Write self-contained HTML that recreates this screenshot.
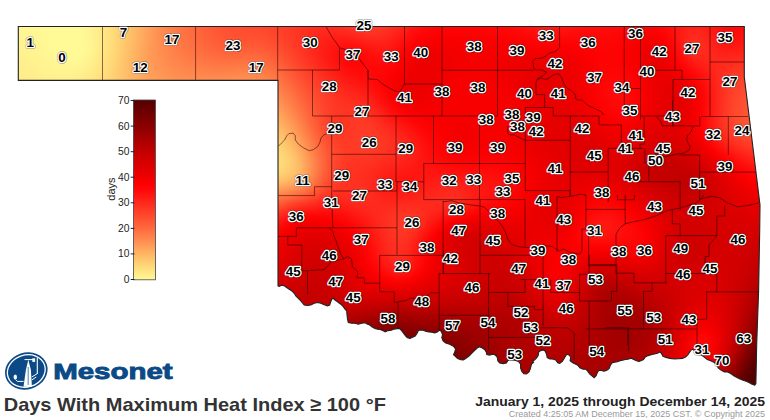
<!DOCTYPE html>
<html><head><meta charset="utf-8"><style>
html,body{margin:0;padding:0;background:#fff;}
body{width:770px;height:420px;overflow:hidden;position:relative;font-family:"Liberation Sans",sans-serif;}
svg{position:absolute;left:0;top:0;}
.lab text{font:bold 13.4px "Liberation Sans",sans-serif;text-anchor:middle;fill:#000;stroke:#fff;stroke-width:2.5px;stroke-linejoin:round;paint-order:stroke;}
.lab3 text{font:bold 13.4px "Liberation Sans",sans-serif;text-anchor:middle;fill:#000;stroke:#000;stroke-width:0.2px;}
.lab2 text{font:bold 13.4px "Liberation Sans",sans-serif;text-anchor:middle;fill:none;stroke:#000;stroke-opacity:0.35;stroke-width:3.8px;stroke-linejoin:round;}
.tk text{font:10.3px "Liberation Sans",sans-serif;text-anchor:end;fill:#222;}
.tk line{stroke:#222;stroke-width:1;}
</style></head><body>
<svg width="770" height="420" viewBox="0 0 770 420">
<defs>
<clipPath id="ok"><polygon points="18.3,26.5 744.3,26.5 744.3,77.0 760.0,205.0 759.7,230.0 758.6,291.0 756.7,344.0 755.9,383.6 755.9,383.6 754.8,385.2 752.5,384.4 749.4,382.8 746.2,381.3 743.1,380.2 740.0,378.9 736.9,377.4 733.8,375.8 730.7,373.5 727.6,371.9 724.4,371.9 721.3,370.4 718.2,368.0 716.7,364.9 714.3,362.6 711.2,361.0 707.3,359.5 704.2,357.1 701.1,354.8 698.0,353.2 694.8,350.9 692.5,349.3 691.0,350.1 689.4,352.5 687.8,354.8 685.5,357.1 682.4,358.4 678.5,358.7 674.6,359.0 669.9,358.4 666.0,357.4 662.9,356.4 661.4,353.2 659.8,352.1 657.5,353.2 654.3,354.0 651.2,354.8 648.1,355.6 645.3,357.0 643.5,359.5 640.9,360.8 639.0,361.4 636.4,360.8 633.8,359.5 631.2,358.2 627.9,359.2 625.3,359.5 622.7,360.1 620.1,360.8 617.5,361.8 614.9,362.1 612.3,362.7 610.4,365.3 609.1,368.6 606.5,370.5 603.9,371.2 601.3,370.5 598.7,370.5 597.4,372.5 596.1,375.7 594.2,377.7 591.6,375.7 589.6,373.8 587.7,371.2 585.7,369.2 583.1,369.2 579.9,367.9 577.9,365.3 575.3,364.0 572.7,362.7 570.1,360.8 570.8,356.9 568.2,354.3 566.2,354.9 564.3,358.2 562.3,361.4 559.7,363.4 557.8,362.7 555.8,360.1 552.4,359.0 549.8,359.0 547.2,357.7 546.6,354.5 545.3,351.2 543.3,349.9 540.7,350.6 538.8,351.9 538.1,355.8 536.2,358.4 534.2,360.3 532.3,361.0 533.6,362.3 531.6,364.2 531.0,366.2 530.3,368.8 529.0,372.0 526.4,374.0 523.8,373.7 521.9,371.4 520.6,368.1 520.6,364.2 518.6,361.6 514.7,360.3 510.8,359.7 508.2,360.3 506.3,362.9 503.1,363.6 499.8,362.9 497.9,361.0 497.2,357.1 495.3,355.1 492.7,354.2 489.4,355.1 486.8,354.5 486.2,351.9 484.9,349.9 482.3,348.0 479.7,346.7 477.1,348.0 474.5,350.6 471.9,353.2 469.3,355.8 466.0,358.4 463.4,359.9 460.8,359.7 457.6,358.4 456.1,357.2 453.5,354.6 454.8,352.0 455.5,348.8 453.5,346.2 449.6,344.2 445.7,342.9 443.1,341.0 441.8,337.7 442.5,334.5 441.2,331.2 439.2,330.3 437.3,331.9 434.7,332.9 432.1,332.3 428.8,331.9 425.6,331.2 423.0,330.3 420.4,329.9 418.4,330.6 417.1,333.2 415.2,336.0 412.6,337.3 410.0,338.4 407.4,337.7 405.5,335.8 403.5,333.2 401.6,330.6 399.6,328.6 397.0,328.6 393.8,329.3 391.2,330.3 387.9,330.6 385.3,331.9 382.7,330.6 380.1,329.5 377.5,329.3 374.9,328.6 372.3,327.0 369.7,325.1 367.1,324.1 365.2,322.8 361.7,323.3 358.3,324.2 355.0,323.3 351.7,323.3 348.3,322.5 347.5,319.2 347.0,315.0 346.7,310.8 345.0,309.2 343.3,306.7 340.8,304.2 337.5,301.7 335.0,300.0 333.3,298.3 331.7,299.2 330.8,301.7 329.7,305.0 327.5,305.8 324.2,304.7 320.8,303.3 317.5,302.5 314.2,303.3 310.8,305.0 307.5,305.5 304.2,305.0 302.5,303.0 300.8,300.8 298.3,298.3 295.8,295.8 294.2,293.3 291.7,290.8 289.2,289.2 286.7,287.5 284.2,285.8 281.7,285.3 279.2,286.3 278.0,285.8 278.0,80.4 18.3,80.4"/></clipPath>
<linearGradient id="lg" x1="0" y1="0" x2="0" y2="1"><stop offset="0.0000" stop-color="#550000"/><stop offset="0.0714" stop-color="#700000"/><stop offset="0.1429" stop-color="#8a0000"/><stop offset="0.2143" stop-color="#a60000"/><stop offset="0.2857" stop-color="#c30000"/><stop offset="0.3571" stop-color="#d90000"/><stop offset="0.4286" stop-color="#ee0000"/><stop offset="0.4643" stop-color="#fc0000"/><stop offset="0.5000" stop-color="#ff0808"/><stop offset="0.5714" stop-color="#ff281c"/><stop offset="0.6429" stop-color="#ff482d"/><stop offset="0.7143" stop-color="#ff6a3e"/><stop offset="0.7857" stop-color="#ff8e50"/><stop offset="0.8571" stop-color="#ffb664"/><stop offset="0.9286" stop-color="#ffda78"/><stop offset="1.0000" stop-color="#fff996"/></linearGradient>
</defs>
<g clip-path="url(#ok)"><g style="filter:blur(2.6px)" shape-rendering="crispEdges">
<path fill="#fff996" d="M14 22h4v4h-4zM18 22h4v4h-4zM22 22h4v4h-4zM26 22h4v4h-4zM30 22h4v4h-4zM34 22h4v4h-4zM38 22h4v4h-4zM42 22h4v4h-4zM46 22h4v4h-4zM50 22h4v4h-4zM54 22h4v4h-4zM58 22h4v4h-4zM62 22h4v4h-4zM66 22h4v4h-4zM70 22h4v4h-4zM74 22h4v4h-4zM38 26h4v4h-4zM42 26h4v4h-4zM46 26h4v4h-4zM50 26h4v4h-4zM54 26h4v4h-4zM58 26h4v4h-4zM62 26h4v4h-4zM66 26h4v4h-4zM70 26h4v4h-4zM74 26h4v4h-4zM42 30h4v4h-4zM46 30h4v4h-4zM50 30h4v4h-4zM54 30h4v4h-4zM58 30h4v4h-4zM62 30h4v4h-4zM66 30h4v4h-4zM70 30h4v4h-4zM74 30h4v4h-4zM78 30h4v4h-4zM46 34h4v4h-4zM50 34h4v4h-4zM54 34h4v4h-4zM58 34h4v4h-4zM62 34h4v4h-4zM66 34h4v4h-4zM70 34h4v4h-4zM74 34h4v4h-4zM78 34h4v4h-4zM46 38h4v4h-4zM50 38h4v4h-4zM54 38h4v4h-4zM58 38h4v4h-4zM62 38h4v4h-4zM66 38h4v4h-4zM70 38h4v4h-4zM74 38h4v4h-4zM78 38h4v4h-4zM50 42h4v4h-4zM54 42h4v4h-4zM58 42h4v4h-4zM62 42h4v4h-4zM66 42h4v4h-4zM70 42h4v4h-4zM74 42h4v4h-4zM78 42h4v4h-4zM82 42h4v4h-4zM50 46h4v4h-4zM54 46h4v4h-4zM58 46h4v4h-4zM62 46h4v4h-4zM66 46h4v4h-4zM70 46h4v4h-4zM74 46h4v4h-4zM78 46h4v4h-4zM82 46h4v4h-4zM54 50h4v4h-4zM58 50h4v4h-4zM62 50h4v4h-4zM66 50h4v4h-4zM70 50h4v4h-4zM74 50h4v4h-4zM78 50h4v4h-4zM58 54h4v4h-4zM62 54h4v4h-4zM66 54h4v4h-4zM70 54h4v4h-4zM74 54h4v4h-4zM78 54h4v4h-4zM66 58h4v4h-4zM70 58h4v4h-4z"/>
<path fill="#fff794" d="M78 22h4v4h-4zM18 26h4v4h-4zM22 26h4v4h-4zM30 30h4v4h-4zM34 30h4v4h-4zM82 30h4v4h-4zM38 34h4v4h-4zM38 38h4v4h-4zM42 42h4v4h-4zM86 42h4v4h-4zM86 46h4v4h-4zM46 50h4v4h-4zM50 54h4v4h-4zM82 54h4v4h-4zM54 58h4v4h-4zM78 58h4v4h-4zM58 62h4v4h-4zM62 62h4v4h-4zM66 62h4v4h-4zM70 62h4v4h-4z"/>
<path fill="#fff693" d="M82 22h4v4h-4zM82 26h4v4h-4zM14 30h4v4h-4zM18 30h4v4h-4zM22 30h4v4h-4zM26 30h4v4h-4zM30 34h4v4h-4zM34 38h4v4h-4zM86 38h4v4h-4zM38 42h4v4h-4zM42 46h4v4h-4zM42 50h4v4h-4zM86 50h4v4h-4zM46 54h4v4h-4zM50 58h4v4h-4zM82 58h4v4h-4zM54 62h4v4h-4zM62 66h4v4h-4zM66 66h4v4h-4z"/>
<path fill="#fff390" d="M86 22h4v4h-4zM90 34h4v4h-4zM90 38h4v4h-4zM14 42h4v4h-4zM18 42h4v4h-4zM22 42h4v4h-4zM26 46h4v4h-4zM30 50h4v4h-4zM90 50h4v4h-4zM34 54h4v4h-4zM38 62h4v4h-4zM46 66h4v4h-4zM50 70h4v4h-4zM54 70h4v4h-4zM70 70h4v4h-4z"/>
<path fill="#fff08e" d="M90 22h4v4h-4zM14 54h4v4h-4zM22 58h4v4h-4zM90 58h4v4h-4zM74 74h4v4h-4z"/>
<path fill="#ffed8a" d="M94 22h4v4h-4zM94 58h4v4h-4zM14 70h4v4h-4zM22 74h4v4h-4zM30 78h4v4h-4zM78 78h4v4h-4zM38 82h4v4h-4zM42 82h4v4h-4zM70 82h4v4h-4z"/>
<path fill="#ffe987" d="M98 22h4v4h-4zM98 54h4v4h-4zM22 86h4v4h-4zM34 90h4v4h-4zM38 90h4v4h-4zM66 90h4v4h-4z"/>
<path fill="#ffe583" d="M102 22h4v4h-4zM102 50h4v4h-4zM94 74h4v4h-4zM74 94h4v4h-4z"/>
<path fill="#ffe17f" d="M106 22h4v4h-4zM106 26h4v4h-4zM106 42h4v4h-4zM106 46h4v4h-4zM98 74h4v4h-4zM94 82h4v4h-4z"/>
<path fill="#ffdc7a" d="M110 22h4v4h-4zM110 26h4v4h-4zM110 38h4v4h-4zM110 42h4v4h-4zM98 86h4v4h-4zM262 142h4v4h-4zM266 166h4v4h-4zM270 166h4v4h-4z"/>
<path fill="#ffd776" d="M114 22h4v4h-4zM114 26h4v4h-4zM114 30h4v4h-4zM114 34h4v4h-4zM110 62h4v4h-4zM106 78h4v4h-4zM102 90h4v4h-4zM270 142h4v4h-4zM274 146h4v4h-4zM282 162h4v4h-4zM266 170h4v4h-4zM270 170h4v4h-4z"/>
<path fill="#ffd173" d="M118 22h4v4h-4zM118 26h4v4h-4zM118 30h4v4h-4zM114 62h4v4h-4zM110 82h4v4h-4zM106 94h4v4h-4zM282 150h4v4h-4zM286 162h4v4h-4zM282 170h4v4h-4z"/>
<path fill="#ffcb6f" d="M122 22h4v4h-4z"/>
<path fill="#ffc46c" d="M126 22h4v4h-4zM126 26h4v4h-4zM126 30h4v4h-4zM122 58h4v4h-4zM274 130h4v4h-4zM278 134h4v4h-4zM274 178h4v4h-4z"/>
<path fill="#ffbe68" d="M130 22h4v4h-4zM126 90h4v4h-4zM126 94h4v4h-4zM270 122h4v4h-4zM278 130h4v4h-4z"/>
<path fill="#ffb865" d="M134 22h4v4h-4zM130 54h4v4h-4zM130 82h4v4h-4zM270 118h4v4h-4zM278 126h4v4h-4zM290 142h4v4h-4zM294 150h4v4h-4zM270 182h4v4h-4z"/>
<path fill="#ffb161" d="M138 22h4v4h-4zM134 54h4v4h-4zM134 74h4v4h-4zM282 126h4v4h-4zM298 174h4v4h-4zM282 182h4v4h-4z"/>
<path fill="#ffaa5e" d="M142 22h4v4h-4zM138 54h4v4h-4zM138 70h4v4h-4zM142 82h4v4h-4zM230 94h4v4h-4zM234 94h4v4h-4zM238 94h4v4h-4zM242 94h4v4h-4zM262 102h4v4h-4zM282 122h4v4h-4zM302 162h4v4h-4zM266 186h4v4h-4z"/>
<path fill="#ffa35a" d="M146 22h4v4h-4zM226 90h4v4h-4zM246 90h4v4h-4zM278 186h4v4h-4z"/>
<path fill="#ff9c57" d="M150 22h4v4h-4zM162 82h4v4h-4zM170 86h4v4h-4zM222 86h4v4h-4zM226 86h4v4h-4zM258 90h4v4h-4zM286 118h4v4h-4zM306 162h4v4h-4zM262 190h4v4h-4z"/>
<path fill="#ff9654" d="M154 22h4v4h-4zM154 62h4v4h-4zM158 70h4v4h-4zM162 74h4v4h-4zM178 82h4v4h-4zM226 82h4v4h-4zM230 82h4v4h-4zM246 82h4v4h-4zM258 86h4v4h-4z"/>
<path fill="#ff9051" d="M158 22h4v4h-4zM158 54h4v4h-4zM166 70h4v4h-4zM186 78h4v4h-4zM230 78h4v4h-4zM234 78h4v4h-4zM238 78h4v4h-4zM246 78h4v4h-4zM258 82h4v4h-4zM286 110h4v4h-4zM302 182h4v4h-4zM278 190h4v4h-4z"/>
<path fill="#ff8a4e" d="M162 22h4v4h-4zM162 46h4v4h-4zM166 58h4v4h-4zM178 70h4v4h-4zM190 74h4v4h-4zM234 74h4v4h-4zM238 74h4v4h-4zM242 74h4v4h-4zM246 74h4v4h-4zM286 106h4v4h-4z"/>
<path fill="#ff854b" d="M166 22h4v4h-4zM166 42h4v4h-4zM170 54h4v4h-4zM194 70h4v4h-4zM286 102h4v4h-4zM310 150h4v4h-4z"/>
<path fill="#ff8049" d="M170 22h4v4h-4zM170 34h4v4h-4zM170 38h4v4h-4zM174 50h4v4h-4zM186 62h4v4h-4zM258 70h4v4h-4zM286 98h4v4h-4zM310 146h4v4h-4zM302 186h4v4h-4z"/>
<path fill="#ff7b47" d="M174 22h4v4h-4zM174 34h4v4h-4zM218 66h4v4h-4zM222 66h4v4h-4zM226 66h4v4h-4zM314 154h4v4h-4z"/>
<path fill="#ff7644" d="M178 22h4v4h-4zM178 26h4v4h-4zM182 42h4v4h-4zM198 58h4v4h-4zM214 62h4v4h-4zM238 62h4v4h-4zM242 62h4v4h-4zM254 62h4v4h-4zM262 66h4v4h-4zM286 90h4v4h-4zM294 102h4v4h-4zM298 110h4v4h-4z"/>
<path fill="#ff7242" d="M182 22h4v4h-4zM182 26h4v4h-4zM182 30h4v4h-4zM186 42h4v4h-4zM198 54h4v4h-4zM210 58h4v4h-4zM266 66h4v4h-4zM282 82h4v4h-4zM298 106h4v4h-4zM310 134h4v4h-4z"/>
<path fill="#ff6e40" d="M186 22h4v4h-4zM186 26h4v4h-4zM186 30h4v4h-4zM194 46h4v4h-4zM206 54h4v4h-4zM226 58h4v4h-4zM230 58h4v4h-4zM234 58h4v4h-4zM254 58h4v4h-4zM274 70h4v4h-4zM318 154h4v4h-4zM318 170h4v4h-4zM302 190h4v4h-4z"/>
<path fill="#ff6a3e" d="M190 22h4v4h-4zM190 26h4v4h-4zM194 38h4v4h-4zM206 50h4v4h-4zM218 54h4v4h-4zM262 58h4v4h-4zM290 86h4v4h-4zM314 138h4v4h-4zM314 182h4v4h-4zM310 186h4v4h-4zM278 198h4v4h-4z"/>
<path fill="#ff663c" d="M194 22h4v4h-4zM202 42h4v4h-4zM214 50h4v4h-4zM258 54h4v4h-4zM266 58h4v4h-4zM286 78h4v4h-4zM302 102h4v4h-4zM314 134h4v4h-4z"/>
<path fill="#ff633a" d="M198 22h4v4h-4zM274 62h4v4h-4zM278 66h4v4h-4zM294 86h4v4h-4zM322 166h4v4h-4z"/>
<path fill="#ff5f39" d="M202 22h4v4h-4zM206 34h4v4h-4zM318 138h4v4h-4zM322 150h4v4h-4zM314 186h4v4h-4zM286 198h4v4h-4z"/>
<path fill="#ff5c37" d="M206 22h4v4h-4zM210 34h4v4h-4zM214 38h4v4h-4zM230 46h4v4h-4zM234 46h4v4h-4zM238 46h4v4h-4zM242 46h4v4h-4zM246 46h4v4h-4zM250 46h4v4h-4zM254 46h4v4h-4zM286 70h4v4h-4zM298 86h4v4h-4zM310 110h4v4h-4zM322 146h4v4h-4zM310 190h4v4h-4z"/>
<path fill="#ff5936" d="M210 22h4v4h-4zM310 106h4v4h-4zM322 178h4v4h-4zM290 198h4v4h-4zM266 206h4v4h-4z"/>
<path fill="#ff5734" d="M214 22h4v4h-4zM254 42h4v4h-4zM310 102h4v4h-4zM754 106h4v4h-4zM762 106h4v4h-4zM750 110h4v4h-4zM750 114h4v4h-4zM754 118h4v4h-4zM758 118h4v4h-4zM326 154h4v4h-4zM326 166h4v4h-4z"/>
<path fill="#ff5433" d="M218 22h4v4h-4zM230 38h4v4h-4zM234 38h4v4h-4zM262 42h4v4h-4zM274 50h4v4h-4zM278 54h4v4h-4zM282 58h4v4h-4zM310 98h4v4h-4zM754 98h4v4h-4zM758 98h4v4h-4zM746 106h4v4h-4zM314 110h4v4h-4zM762 122h4v4h-4zM318 126h4v4h-4zM306 194h4v4h-4zM294 198h4v4h-4z"/>
<path fill="#ff5232" d="M222 22h4v4h-4zM222 26h4v4h-4zM226 30h4v4h-4zM230 34h4v4h-4zM254 38h4v4h-4zM290 66h4v4h-4zM302 82h4v4h-4zM754 94h4v4h-4zM758 94h4v4h-4zM314 106h4v4h-4zM742 110h4v4h-4zM742 114h4v4h-4zM742 118h4v4h-4zM750 126h4v4h-4zM762 126h4v4h-4zM326 146h4v4h-4zM326 174h4v4h-4zM282 202h4v4h-4z"/>
<path fill="#ff5031" d="M226 22h4v4h-4zM226 26h4v4h-4zM230 30h4v4h-4zM238 34h4v4h-4zM242 34h4v4h-4zM246 34h4v4h-4zM262 38h4v4h-4zM278 50h4v4h-4zM294 70h4v4h-4zM758 90h4v4h-4zM742 102h4v4h-4zM262 210h4v4h-4z"/>
<path fill="#ff4e30" d="M230 22h4v4h-4zM234 26h4v4h-4zM238 30h4v4h-4zM242 30h4v4h-4zM258 34h4v4h-4zM266 38h4v4h-4zM286 58h4v4h-4zM750 90h4v4h-4zM742 98h4v4h-4zM738 110h4v4h-4zM318 114h4v4h-4zM738 118h4v4h-4zM762 130h4v4h-4zM330 158h4v4h-4zM326 178h4v4h-4zM298 198h4v4h-4z"/>
<path fill="#ff4d2f" d="M234 22h4v4h-4zM238 26h4v4h-4zM250 30h4v4h-4zM758 86h4v4h-4zM746 90h4v4h-4zM742 94h4v4h-4zM322 130h4v4h-4zM310 194h4v4h-4z"/>
<path fill="#ff4c2f" d="M238 22h4v4h-4zM242 26h4v4h-4zM254 30h4v4h-4zM262 34h4v4h-4zM274 42h4v4h-4zM278 46h4v4h-4zM294 66h4v4h-4zM754 86h4v4h-4zM738 102h4v4h-4zM318 110h4v4h-4zM330 150h4v4h-4zM330 166h4v4h-4z"/>
<path fill="#ff4b2e" d="M242 22h4v4h-4zM250 26h4v4h-4zM258 30h4v4h-4zM738 98h4v4h-4zM318 106h4v4h-4zM754 134h4v4h-4zM758 134h4v4h-4z"/>
<path fill="#ff4a2e" d="M246 22h4v4h-4zM254 26h4v4h-4zM266 34h4v4h-4zM286 54h4v4h-4zM298 70h4v4h-4zM746 86h4v4h-4zM742 90h4v4h-4zM314 94h4v4h-4zM734 114h4v4h-4zM322 126h4v4h-4zM750 134h4v4h-4zM762 134h4v4h-4zM330 146h4v4h-4zM330 170h4v4h-4zM318 190h4v4h-4zM266 210h4v4h-4z"/>
<path fill="#ff492e" d="M250 22h4v4h-4zM262 30h4v4h-4zM758 82h4v4h-4zM310 86h4v4h-4zM738 94h4v4h-4zM734 110h4v4h-4zM734 118h4v4h-4z"/>
<path fill="#ff482d" d="M254 22h4v4h-4zM266 30h4v4h-4zM270 34h4v4h-4zM274 38h4v4h-4zM278 42h4v4h-4zM302 74h4v4h-4zM750 82h4v4h-4zM742 86h4v4h-4zM734 102h4v4h-4zM322 122h4v4h-4zM734 122h4v4h-4zM746 134h4v4h-4zM302 198h4v4h-4z"/>
<path fill="#ff472d" d="M258 22h4v4h-4zM262 26h4v4h-4zM282 46h4v4h-4zM294 62h4v4h-4zM314 90h4v4h-4zM738 90h4v4h-4zM738 130h4v4h-4zM326 134h4v4h-4zM330 174h4v4h-4z"/>
<path fill="#ff462c" d="M262 22h4v4h-4zM266 26h4v4h-4zM270 30h4v4h-4zM274 34h4v4h-4zM286 50h4v4h-4zM298 66h4v4h-4zM758 78h4v4h-4zM734 98h4v4h-4zM322 114h4v4h-4zM734 126h4v4h-4zM742 134h4v4h-4zM334 154h4v4h-4zM334 158h4v4h-4zM278 206h4v4h-4z"/>
<path fill="#ff452b" d="M266 22h4v4h-4zM290 54h4v4h-4zM754 78h4v4h-4zM742 82h4v4h-4zM318 94h4v4h-4zM734 94h4v4h-4zM754 138h4v4h-4zM334 150h4v4h-4zM334 162h4v4h-4z"/>
<path fill="#ff432b" d="M270 22h4v4h-4zM362 22h4v4h-4zM366 22h4v4h-4zM294 58h4v4h-4zM730 118h4v4h-4zM334 146h4v4h-4z"/>
<path fill="#ff422a" d="M274 22h4v4h-4zM370 22h4v4h-4zM274 26h4v4h-4zM282 38h4v4h-4zM290 50h4v4h-4zM298 62h4v4h-4zM758 74h4v4h-4zM742 78h4v4h-4zM734 86h4v4h-4zM318 90h4v4h-4zM730 102h4v4h-4zM730 122h4v4h-4zM326 126h4v4h-4zM734 130h4v4h-4zM738 134h4v4h-4zM746 138h4v4h-4zM322 190h4v4h-4z"/>
<path fill="#ff4029" d="M278 22h4v4h-4zM374 22h4v4h-4zM278 26h4v4h-4zM282 34h4v4h-4zM294 54h4v4h-4zM302 66h4v4h-4zM750 74h4v4h-4zM738 78h4v4h-4zM314 82h4v4h-4zM734 82h4v4h-4zM730 94h4v4h-4zM326 110h4v4h-4zM326 114h4v4h-4zM326 118h4v4h-4zM326 122h4v4h-4zM730 126h4v4h-4zM330 134h4v4h-4zM742 138h4v4h-4zM758 142h4v4h-4zM762 142h4v4h-4zM338 150h4v4h-4zM338 154h4v4h-4zM294 202h4v4h-4zM282 206h4v4h-4z"/>
<path fill="#ff3e28" d="M282 22h4v4h-4zM282 26h4v4h-4zM286 38h4v4h-4zM298 58h4v4h-4zM742 74h4v4h-4zM730 86h4v4h-4zM326 102h4v4h-4zM334 138h4v4h-4zM750 142h4v4h-4zM338 162h4v4h-4zM318 194h4v4h-4zM274 210h4v4h-4z"/>
<path fill="#ff3c27" d="M286 22h4v4h-4zM362 26h4v4h-4zM370 26h4v4h-4zM286 30h4v4h-4zM290 42h4v4h-4zM302 62h4v4h-4zM750 70h4v4h-4zM738 74h4v4h-4zM314 78h4v4h-4zM730 82h4v4h-4zM726 106h4v4h-4zM362 130h4v4h-4zM730 130h4v4h-4zM358 138h4v4h-4zM738 138h4v4h-4zM370 142h4v4h-4zM342 146h4v4h-4zM342 150h4v4h-4zM342 154h4v4h-4zM338 166h4v4h-4zM330 186h4v4h-4z"/>
<path fill="#ff3a25" d="M290 22h4v4h-4zM290 34h4v4h-4zM322 86h4v4h-4zM330 102h4v4h-4zM358 122h4v4h-4zM366 126h4v4h-4zM374 134h4v4h-4zM350 138h4v4h-4zM346 142h4v4h-4zM350 142h4v4h-4zM350 146h4v4h-4zM762 146h4v4h-4zM338 170h4v4h-4zM402 222h4v4h-4zM406 222h4v4h-4z"/>
<path fill="#ff3824" d="M294 22h4v4h-4zM354 26h4v4h-4zM298 50h4v4h-4zM750 66h4v4h-4zM314 74h4v4h-4zM730 74h4v4h-4zM726 82h4v4h-4zM334 110h4v4h-4zM358 114h4v4h-4zM350 126h4v4h-4zM374 130h4v4h-4zM342 134h4v4h-4zM346 134h4v4h-4zM350 154h4v4h-4zM346 158h4v4h-4zM338 174h4v4h-4zM314 198h4v4h-4zM398 218h4v4h-4z"/>
<path fill="#ff3623" d="M298 22h4v4h-4zM342 22h4v4h-4zM298 46h4v4h-4zM302 54h4v4h-4zM338 110h4v4h-4zM354 110h4v4h-4zM358 110h4v4h-4zM338 114h4v4h-4zM346 114h4v4h-4zM346 118h4v4h-4zM366 118h4v4h-4zM346 122h4v4h-4zM370 122h4v4h-4zM342 130h4v4h-4zM726 130h4v4h-4zM382 142h4v4h-4zM338 182h4v4h-4zM398 214h4v4h-4zM394 218h4v4h-4z"/>
<path fill="#ff3422" d="M302 22h4v4h-4zM338 22h4v4h-4zM362 30h4v4h-4zM374 30h4v4h-4zM298 42h4v4h-4zM754 62h4v4h-4zM738 66h4v4h-4zM314 70h4v4h-4zM726 74h4v4h-4zM330 90h4v4h-4zM722 98h4v4h-4zM338 102h4v4h-4zM722 102h4v4h-4zM342 106h4v4h-4zM362 110h4v4h-4zM366 114h4v4h-4zM722 122h4v4h-4zM382 134h4v4h-4zM374 154h4v4h-4zM362 158h4v4h-4zM342 174h4v4h-4zM406 210h4v4h-4zM394 214h4v4h-4zM414 214h4v4h-4zM414 218h4v4h-4zM390 222h4v4h-4zM390 226h4v4h-4zM394 234h4v4h-4zM402 234h4v4h-4z"/>
<path fill="#ff3322" d="M306 22h4v4h-4zM390 22h4v4h-4zM298 30h4v4h-4zM298 34h4v4h-4zM298 38h4v4h-4zM302 50h4v4h-4zM306 58h4v4h-4zM750 62h4v4h-4zM734 66h4v4h-4zM318 74h4v4h-4zM722 90h4v4h-4zM334 94h4v4h-4zM722 94h4v4h-4zM346 106h4v4h-4zM350 106h4v4h-4zM354 106h4v4h-4zM370 118h4v4h-4zM386 142h4v4h-4zM386 146h4v4h-4zM382 150h4v4h-4zM758 150h4v4h-4zM762 150h4v4h-4zM366 158h4v4h-4zM354 162h4v4h-4zM358 162h4v4h-4zM350 166h4v4h-4zM346 170h4v4h-4zM342 178h4v4h-4zM342 182h4v4h-4zM338 186h4v4h-4zM326 194h4v4h-4zM290 206h4v4h-4zM402 210h4v4h-4zM410 210h4v4h-4zM390 218h4v4h-4zM414 222h4v4h-4zM390 230h4v4h-4zM398 238h4v4h-4z"/>
<path fill="#ff3121" d="M310 22h4v4h-4zM314 22h4v4h-4zM330 22h4v4h-4zM302 30h4v4h-4zM302 46h4v4h-4zM306 54h4v4h-4zM310 62h4v4h-4zM742 62h4v4h-4zM730 66h4v4h-4zM722 78h4v4h-4zM330 86h4v4h-4zM346 102h4v4h-4zM382 130h4v4h-4zM726 134h4v4h-4zM730 138h4v4h-4zM390 142h4v4h-4zM390 146h4v4h-4zM742 146h4v4h-4zM386 150h4v4h-4zM754 150h4v4h-4zM374 158h4v4h-4zM366 162h4v4h-4zM358 166h4v4h-4zM350 170h4v4h-4zM354 170h4v4h-4zM350 174h4v4h-4zM350 178h4v4h-4zM350 182h4v4h-4zM354 182h4v4h-4zM346 186h4v4h-4zM350 186h4v4h-4zM358 186h4v4h-4zM350 190h4v4h-4zM354 194h4v4h-4zM394 210h4v4h-4zM414 210h4v4h-4zM266 218h4v4h-4zM386 222h4v4h-4zM406 234h4v4h-4zM402 238h4v4h-4zM394 242h4v4h-4zM398 242h4v4h-4z"/>
<path fill="#ff3020" d="M318 22h4v4h-4zM322 22h4v4h-4zM326 22h4v4h-4zM306 26h4v4h-4zM342 26h4v4h-4zM382 30h4v4h-4zM302 34h4v4h-4zM302 42h4v4h-4zM758 58h4v4h-4zM314 66h4v4h-4zM722 74h4v4h-4zM334 90h4v4h-4zM342 98h4v4h-4zM350 102h4v4h-4zM362 106h4v4h-4zM366 110h4v4h-4zM370 114h4v4h-4zM386 134h4v4h-4zM734 142h4v4h-4zM382 154h4v4h-4zM362 166h4v4h-4zM358 170h4v4h-4zM354 174h4v4h-4zM354 178h4v4h-4zM358 182h4v4h-4zM338 190h4v4h-4zM346 190h4v4h-4zM362 190h4v4h-4zM362 194h4v4h-4zM274 214h4v4h-4zM418 214h4v4h-4zM386 218h4v4h-4zM386 226h4v4h-4zM410 230h4v4h-4zM390 238h4v4h-4z"/>
<path fill="#ff3221" d="M334 22h4v4h-4zM302 26h4v4h-4zM346 26h4v4h-4zM386 26h4v4h-4zM358 30h4v4h-4zM378 30h4v4h-4zM746 62h4v4h-4zM726 70h4v4h-4zM322 78h4v4h-4zM326 82h4v4h-4zM722 82h4v4h-4zM722 86h4v4h-4zM338 98h4v4h-4zM342 102h4v4h-4zM358 106h4v4h-4zM374 122h4v4h-4zM378 126h4v4h-4zM722 126h4v4h-4zM378 154h4v4h-4zM370 158h4v4h-4zM362 162h4v4h-4zM354 166h4v4h-4zM346 174h4v4h-4zM346 178h4v4h-4zM346 182h4v4h-4zM342 186h4v4h-4zM354 186h4v4h-4zM354 190h4v4h-4zM358 190h4v4h-4zM358 194h4v4h-4zM306 202h4v4h-4zM398 210h4v4h-4zM390 214h4v4h-4zM390 234h4v4h-4z"/>
<path fill="#ff3925" d="M346 22h4v4h-4zM290 26h4v4h-4zM290 30h4v4h-4zM302 58h4v4h-4zM754 66h4v4h-4zM758 66h4v4h-4zM310 70h4v4h-4zM726 90h4v4h-4zM358 118h4v4h-4zM354 122h4v4h-4zM362 122h4v4h-4zM354 126h4v4h-4zM726 126h4v4h-4zM338 134h4v4h-4zM350 134h4v4h-4zM342 138h4v4h-4zM346 138h4v4h-4zM742 142h4v4h-4zM374 146h4v4h-4zM758 146h4v4h-4zM350 150h4v4h-4zM354 150h4v4h-4zM358 150h4v4h-4zM362 150h4v4h-4zM366 150h4v4h-4zM346 154h4v4h-4zM342 162h4v4h-4zM286 206h4v4h-4zM402 218h4v4h-4zM406 218h4v4h-4zM398 222h4v4h-4zM402 226h4v4h-4z"/>
<path fill="#ff3c26" d="M350 22h4v4h-4zM286 26h4v4h-4zM726 102h4v4h-4zM726 122h4v4h-4zM358 134h4v4h-4zM370 134h4v4h-4zM358 142h4v4h-4zM746 142h4v4h-4z"/>
<path fill="#ff3f28" d="M354 22h4v4h-4zM282 30h4v4h-4zM290 46h4v4h-4zM306 70h4v4h-4zM746 74h4v4h-4zM318 86h4v4h-4zM730 90h4v4h-4zM322 94h4v4h-4zM326 106h4v4h-4zM754 142h4v4h-4zM338 146h4v4h-4zM338 158h4v4h-4zM334 174h4v4h-4z"/>
<path fill="#ff412a" d="M358 22h4v4h-4zM278 30h4v4h-4zM322 98h4v4h-4z"/>
<path fill="#ff3e27" d="M378 22h4v4h-4zM758 70h4v4h-4z"/>
<path fill="#ff3a26" d="M382 22h4v4h-4zM358 26h4v4h-4zM374 26h4v4h-4zM294 46h4v4h-4zM742 70h4v4h-4zM734 74h4v4h-4zM730 78h4v4h-4zM726 94h4v4h-4zM330 122h4v4h-4zM358 126h4v4h-4zM354 130h4v4h-4zM370 130h4v4h-4zM354 134h4v4h-4zM374 142h4v4h-4zM346 146h4v4h-4zM354 146h4v4h-4zM346 150h4v4h-4zM334 182h4v4h-4z"/>
<path fill="#ff3724" d="M386 22h4v4h-4zM294 26h4v4h-4zM294 38h4v4h-4zM306 62h4v4h-4zM746 66h4v4h-4zM734 70h4v4h-4zM318 78h4v4h-4zM334 106h4v4h-4zM334 114h4v4h-4zM350 114h4v4h-4zM354 114h4v4h-4zM334 118h4v4h-4zM350 118h4v4h-4zM350 122h4v4h-4zM346 130h4v4h-4zM378 134h4v4h-4zM730 134h4v4h-4zM734 138h4v4h-4zM378 146h4v4h-4zM750 146h4v4h-4zM374 150h4v4h-4zM354 154h4v4h-4zM358 154h4v4h-4zM362 154h4v4h-4zM342 166h4v4h-4zM338 178h4v4h-4zM334 186h4v4h-4zM278 210h4v4h-4zM270 214h4v4h-4zM402 214h4v4h-4zM406 214h4v4h-4zM262 218h4v4h-4zM394 222h4v4h-4zM410 222h4v4h-4zM406 226h4v4h-4zM398 230h4v4h-4z"/>
<path fill="#ff2e1f" d="M394 22h4v4h-4zM338 26h4v4h-4zM390 26h4v4h-4zM306 30h4v4h-4zM694 42h4v4h-4zM694 46h4v4h-4zM306 50h4v4h-4zM310 58h4v4h-4zM750 58h4v4h-4zM734 62h4v4h-4zM318 70h4v4h-4zM722 70h4v4h-4zM322 74h4v4h-4zM346 98h4v4h-4zM358 102h4v4h-4zM378 122h4v4h-4zM382 126h4v4h-4zM394 142h4v4h-4zM394 146h4v4h-4zM366 166h4v4h-4zM362 170h4v4h-4zM362 174h4v4h-4zM362 178h4v4h-4zM362 182h4v4h-4zM366 194h4v4h-4zM322 198h4v4h-4zM362 198h4v4h-4zM310 202h4v4h-4zM398 206h4v4h-4zM414 206h4v4h-4zM386 234h4v4h-4zM406 238h4v4h-4zM394 250h4v4h-4zM398 250h4v4h-4z"/>
<path fill="#ff2a1d" d="M398 22h4v4h-4zM314 30h4v4h-4zM346 30h4v4h-4zM310 34h4v4h-4zM382 34h4v4h-4zM702 42h4v4h-4zM310 50h4v4h-4zM702 50h4v4h-4zM754 54h4v4h-4zM722 62h4v4h-4zM718 66h4v4h-4zM346 94h4v4h-4zM378 118h4v4h-4zM718 126h4v4h-4zM722 134h4v4h-4zM730 142h4v4h-4zM402 146h4v4h-4zM754 154h4v4h-4zM374 166h4v4h-4zM370 170h4v4h-4zM370 190h4v4h-4zM442 194h4v4h-4zM326 198h4v4h-4zM438 198h4v4h-4zM314 202h4v4h-4zM358 202h4v4h-4zM370 202h4v4h-4zM406 202h4v4h-4zM410 202h4v4h-4zM414 202h4v4h-4zM418 202h4v4h-4zM442 202h4v4h-4zM454 202h4v4h-4zM378 206h4v4h-4zM382 206h4v4h-4zM378 210h4v4h-4zM378 214h4v4h-4zM270 218h4v4h-4zM378 218h4v4h-4zM414 230h4v4h-4zM402 254h4v4h-4zM394 258h4v4h-4zM398 258h4v4h-4z"/>
<path fill="#ff251a" d="M402 22h4v4h-4zM398 26h4v4h-4zM690 30h4v4h-4zM698 30h4v4h-4zM686 34h4v4h-4zM702 34h4v4h-4zM366 38h4v4h-4zM382 38h4v4h-4zM314 42h4v4h-4zM314 46h4v4h-4zM314 50h4v4h-4zM714 54h4v4h-4zM734 54h4v4h-4zM702 58h4v4h-4zM322 66h4v4h-4zM714 78h4v4h-4zM342 86h4v4h-4zM382 118h4v4h-4zM386 122h4v4h-4zM390 126h4v4h-4zM394 130h4v4h-4zM402 138h4v4h-4zM406 150h4v4h-4zM738 150h4v4h-4zM746 154h4v4h-4zM762 158h4v4h-4zM390 162h4v4h-4zM378 170h4v4h-4zM374 174h4v4h-4zM374 186h4v4h-4zM446 186h4v4h-4zM450 186h4v4h-4zM434 190h4v4h-4zM378 194h4v4h-4zM426 194h4v4h-4zM382 198h4v4h-4zM410 198h4v4h-4zM414 198h4v4h-4zM462 198h4v4h-4zM302 206h4v4h-4zM454 206h4v4h-4zM366 210h4v4h-4zM370 214h4v4h-4zM422 222h4v4h-4zM378 230h4v4h-4zM414 234h4v4h-4zM386 254h4v4h-4zM406 254h4v4h-4zM402 262h4v4h-4z"/>
<path fill="#ff2017" d="M406 22h4v4h-4zM690 22h4v4h-4zM694 22h4v4h-4zM402 26h4v4h-4zM398 30h4v4h-4zM682 34h4v4h-4zM358 38h4v4h-4zM682 38h4v4h-4zM374 42h4v4h-4zM378 42h4v4h-4zM682 42h4v4h-4zM750 46h4v4h-4zM722 50h4v4h-4zM734 50h4v4h-4zM738 50h4v4h-4zM322 58h4v4h-4zM326 66h4v4h-4zM710 74h4v4h-4zM342 82h4v4h-4zM382 114h4v4h-4zM390 122h4v4h-4zM394 126h4v4h-4zM410 154h4v4h-4zM750 158h4v4h-4zM402 162h4v4h-4zM394 166h4v4h-4zM386 170h4v4h-4zM378 178h4v4h-4zM378 182h4v4h-4zM442 182h4v4h-4zM446 182h4v4h-4zM450 182h4v4h-4zM454 182h4v4h-4zM430 186h4v4h-4zM382 190h4v4h-4zM422 190h4v4h-4zM390 194h4v4h-4zM414 194h4v4h-4zM466 198h4v4h-4zM326 202h4v4h-4zM338 202h4v4h-4zM422 226h4v4h-4zM414 238h4v4h-4zM410 250h4v4h-4zM406 262h4v4h-4z"/>
<path fill="#ff1c14" d="M410 22h4v4h-4zM542 22h4v4h-4zM706 26h4v4h-4zM334 38h4v4h-4zM350 38h4v4h-4zM722 46h4v4h-4zM738 46h4v4h-4zM342 78h4v4h-4zM362 90h4v4h-4zM378 106h4v4h-4zM398 126h4v4h-4zM414 146h4v4h-4zM726 146h4v4h-4zM414 154h4v4h-4zM410 162h4v4h-4zM442 178h4v4h-4zM446 178h4v4h-4zM382 182h4v4h-4zM426 182h4v4h-4zM414 190h4v4h-4zM474 190h4v4h-4zM470 198h4v4h-4zM410 258h4v4h-4z"/>
<path fill="#ff1812" d="M414 22h4v4h-4zM566 22h4v4h-4zM542 26h4v4h-4zM546 26h4v4h-4zM550 26h4v4h-4zM710 26h4v4h-4zM714 34h4v4h-4zM750 38h4v4h-4zM358 42h4v4h-4zM742 42h4v4h-4zM370 46h4v4h-4zM330 62h4v4h-4zM346 78h4v4h-4zM354 82h4v4h-4zM366 90h4v4h-4zM370 94h4v4h-4zM374 98h4v4h-4zM406 130h4v4h-4zM410 134h4v4h-4zM418 154h4v4h-4zM750 162h4v4h-4zM414 166h4v4h-4zM406 170h4v4h-4zM398 174h4v4h-4zM422 178h4v4h-4zM466 178h4v4h-4zM390 182h4v4h-4zM418 182h4v4h-4zM394 186h4v4h-4zM414 186h4v4h-4zM478 194h4v4h-4zM474 198h4v4h-4zM322 206h4v4h-4zM354 214h4v4h-4zM274 222h4v4h-4zM598 222h4v4h-4zM602 222h4v4h-4zM594 226h4v4h-4zM594 230h4v4h-4zM598 230h4v4h-4zM374 242h4v4h-4zM382 262h4v4h-4zM386 266h4v4h-4zM398 270h4v4h-4z"/>
<path fill="#ff140f" d="M418 22h4v4h-4zM714 26h4v4h-4zM542 30h4v4h-4zM546 30h4v4h-4zM674 30h4v4h-4zM350 42h4v4h-4zM334 46h4v4h-4zM334 62h4v4h-4zM346 74h4v4h-4zM366 86h4v4h-4zM370 90h4v4h-4zM410 130h4v4h-4zM414 134h4v4h-4zM422 154h4v4h-4zM738 158h4v4h-4zM426 166h4v4h-4zM754 166h4v4h-4zM434 170h4v4h-4zM490 182h4v4h-4zM490 190h4v4h-4zM342 210h4v4h-4zM350 214h4v4h-4zM282 218h4v4h-4zM602 234h4v4h-4zM374 250h4v4h-4zM410 266h4v4h-4z"/>
<path fill="#ff110d" d="M422 22h4v4h-4zM594 22h4v4h-4zM754 26h4v4h-4zM410 30h4v4h-4zM678 50h4v4h-4zM334 54h4v4h-4zM706 90h4v4h-4zM706 114h4v4h-4zM706 118h4v4h-4zM742 162h4v4h-4zM750 166h4v4h-4zM478 174h4v4h-4zM310 210h4v4h-4zM598 214h4v4h-4zM426 230h4v4h-4zM370 242h4v4h-4z"/>
<path fill="#ff0e0c" d="M426 22h4v4h-4zM510 22h4v4h-4zM610 22h4v4h-4zM666 22h4v4h-4zM418 26h4v4h-4zM590 26h4v4h-4zM530 30h4v4h-4zM670 30h4v4h-4zM722 30h4v4h-4zM742 30h4v4h-4zM542 34h4v4h-4zM546 34h4v4h-4zM550 34h4v4h-4zM726 34h4v4h-4zM730 34h4v4h-4zM734 34h4v4h-4zM674 42h4v4h-4zM354 46h4v4h-4zM338 50h4v4h-4zM394 50h4v4h-4zM342 66h4v4h-4zM690 66h4v4h-4zM698 74h4v4h-4zM390 110h4v4h-4zM394 114h4v4h-4zM426 150h4v4h-4zM430 158h4v4h-4zM734 158h4v4h-4zM434 162h4v4h-4zM442 166h4v4h-4zM466 170h4v4h-4zM490 174h4v4h-4zM498 194h4v4h-4zM318 210h4v4h-4zM594 214h4v4h-4zM434 222h4v4h-4zM618 234h4v4h-4zM598 238h4v4h-4zM370 246h4v4h-4zM374 258h4v4h-4zM702 346h4v4h-4z"/>
<path fill="#ff0b0a" d="M430 22h4v4h-4zM498 22h4v4h-4zM622 22h4v4h-4zM662 22h4v4h-4zM726 22h4v4h-4zM742 22h4v4h-4zM422 26h4v4h-4zM514 26h4v4h-4zM610 26h4v4h-4zM666 26h4v4h-4zM726 26h4v4h-4zM738 26h4v4h-4zM582 30h4v4h-4zM586 30h4v4h-4zM730 30h4v4h-4zM410 34h4v4h-4zM534 34h4v4h-4zM558 34h4v4h-4zM670 34h4v4h-4zM406 38h4v4h-4zM674 46h4v4h-4zM342 50h4v4h-4zM370 58h4v4h-4zM342 62h4v4h-4zM346 66h4v4h-4zM354 70h4v4h-4zM618 86h4v4h-4zM614 90h4v4h-4zM618 90h4v4h-4zM618 94h4v4h-4zM382 98h4v4h-4zM402 118h4v4h-4zM414 126h4v4h-4zM418 130h4v4h-4zM426 142h4v4h-4zM434 158h4v4h-4zM454 166h4v4h-4zM486 170h4v4h-4zM506 178h4v4h-4zM506 190h4v4h-4zM494 198h4v4h-4zM466 210h4v4h-4zM454 214h4v4h-4zM590 214h4v4h-4zM442 218h4v4h-4zM354 222h4v4h-4zM358 226h4v4h-4zM270 230h4v4h-4zM626 230h4v4h-4zM366 238h4v4h-4zM590 238h4v4h-4zM614 238h4v4h-4zM382 270h4v4h-4zM702 350h4v4h-4z"/>
<path fill="#ff0909" d="M434 22h4v4h-4zM490 22h4v4h-4zM618 26h4v4h-4zM602 30h4v4h-4zM566 34h4v4h-4zM342 54h4v4h-4zM342 58h4v4h-4zM366 58h4v4h-4zM370 62h4v4h-4zM382 62h4v4h-4zM350 66h4v4h-4zM362 70h4v4h-4zM374 82h4v4h-4zM614 82h4v4h-4zM618 82h4v4h-4zM610 86h4v4h-4zM702 86h4v4h-4zM610 90h4v4h-4zM614 98h4v4h-4zM386 102h4v4h-4zM398 114h4v4h-4zM410 122h4v4h-4zM462 166h4v4h-4zM466 166h4v4h-4zM750 170h4v4h-4zM762 174h4v4h-4zM338 214h4v4h-4zM618 214h4v4h-4zM346 218h4v4h-4zM586 218h4v4h-4zM622 218h4v4h-4zM370 254h4v4h-4z"/>
<path fill="#ff0808" d="M438 22h4v4h-4zM442 22h4v4h-4zM478 22h4v4h-4zM482 22h4v4h-4zM486 22h4v4h-4zM634 22h4v4h-4zM658 22h4v4h-4zM426 26h4v4h-4zM502 26h4v4h-4zM506 26h4v4h-4zM622 26h4v4h-4zM662 26h4v4h-4zM418 30h4v4h-4zM518 30h4v4h-4zM610 30h4v4h-4zM614 30h4v4h-4zM666 30h4v4h-4zM574 34h4v4h-4zM578 34h4v4h-4zM582 34h4v4h-4zM586 34h4v4h-4zM590 34h4v4h-4zM594 34h4v4h-4zM542 38h4v4h-4zM546 38h4v4h-4zM550 38h4v4h-4zM670 38h4v4h-4zM402 46h4v4h-4zM346 50h4v4h-4zM354 50h4v4h-4zM362 58h4v4h-4zM346 62h4v4h-4zM366 62h4v4h-4zM386 62h4v4h-4zM682 62h4v4h-4zM354 66h4v4h-4zM358 66h4v4h-4zM362 66h4v4h-4zM366 66h4v4h-4zM370 66h4v4h-4zM374 66h4v4h-4zM378 66h4v4h-4zM686 66h4v4h-4zM370 70h4v4h-4zM690 70h4v4h-4zM694 74h4v4h-4zM374 78h4v4h-4zM614 78h4v4h-4zM610 82h4v4h-4zM622 82h4v4h-4zM378 86h4v4h-4zM626 90h4v4h-4zM382 94h4v4h-4zM626 94h4v4h-4zM610 98h4v4h-4zM626 98h4v4h-4zM614 102h4v4h-4zM626 102h4v4h-4zM390 106h4v4h-4zM394 110h4v4h-4zM406 118h4v4h-4zM706 134h4v4h-4zM426 138h4v4h-4zM430 146h4v4h-4zM434 154h4v4h-4zM438 158h4v4h-4zM730 158h4v4h-4zM446 162h4v4h-4zM470 166h4v4h-4zM474 166h4v4h-4zM478 166h4v4h-4zM482 166h4v4h-4zM498 170h4v4h-4zM506 174h4v4h-4zM758 174h4v4h-4zM510 178h4v4h-4zM510 182h4v4h-4zM510 186h4v4h-4zM510 190h4v4h-4zM506 194h4v4h-4zM502 198h4v4h-4zM490 202h4v4h-4zM478 206h4v4h-4zM602 206h4v4h-4zM614 210h4v4h-4zM298 214h4v4h-4zM626 222h4v4h-4zM582 226h4v4h-4zM430 230h4v4h-4zM582 230h4v4h-4zM630 230h4v4h-4zM362 234h4v4h-4zM582 234h4v4h-4zM630 234h4v4h-4zM262 238h4v4h-4zM586 238h4v4h-4zM626 238h4v4h-4zM422 242h4v4h-4zM418 262h4v4h-4zM386 274h4v4h-4zM694 342h4v4h-4zM694 350h4v4h-4z"/>
<path fill="#ff0707" d="M446 22h4v4h-4zM450 22h4v4h-4zM454 22h4v4h-4zM458 22h4v4h-4zM462 22h4v4h-4zM466 22h4v4h-4zM470 22h4v4h-4zM474 22h4v4h-4zM638 22h4v4h-4zM642 22h4v4h-4zM654 22h4v4h-4zM430 26h4v4h-4zM494 26h4v4h-4zM498 26h4v4h-4zM626 26h4v4h-4zM630 26h4v4h-4zM514 30h4v4h-4zM618 30h4v4h-4zM414 34h4v4h-4zM526 34h4v4h-4zM598 34h4v4h-4zM602 34h4v4h-4zM606 34h4v4h-4zM610 34h4v4h-4zM410 38h4v4h-4zM538 38h4v4h-4zM554 38h4v4h-4zM406 42h4v4h-4zM350 50h4v4h-4zM674 50h4v4h-4zM346 54h4v4h-4zM358 54h4v4h-4zM346 58h4v4h-4zM358 58h4v4h-4zM394 58h4v4h-4zM678 58h4v4h-4zM350 62h4v4h-4zM354 62h4v4h-4zM358 62h4v4h-4zM362 62h4v4h-4zM382 66h4v4h-4zM374 70h4v4h-4zM378 70h4v4h-4zM374 74h4v4h-4zM610 78h4v4h-4zM618 78h4v4h-4zM378 82h4v4h-4zM606 82h4v4h-4zM606 86h4v4h-4zM626 86h4v4h-4zM606 90h4v4h-4zM702 90h4v4h-4zM606 94h4v4h-4zM702 94h4v4h-4zM610 102h4v4h-4zM618 106h4v4h-4zM622 106h4v4h-4zM626 106h4v4h-4zM702 106h4v4h-4zM702 110h4v4h-4zM702 114h4v4h-4zM702 118h4v4h-4zM414 122h4v4h-4zM702 122h4v4h-4zM418 126h4v4h-4zM422 130h4v4h-4zM426 134h4v4h-4zM430 142h4v4h-4zM434 150h4v4h-4zM442 158h4v4h-4zM450 162h4v4h-4zM454 162h4v4h-4zM734 162h4v4h-4zM486 166h4v4h-4zM490 166h4v4h-4zM494 166h4v4h-4zM502 170h4v4h-4zM746 170h4v4h-4zM494 202h4v4h-4zM598 206h4v4h-4zM606 206h4v4h-4zM470 210h4v4h-4zM590 210h4v4h-4zM302 214h4v4h-4zM334 214h4v4h-4zM458 214h4v4h-4zM586 214h4v4h-4zM350 222h4v4h-4zM438 222h4v4h-4zM582 222h4v4h-4zM278 226h4v4h-4zM354 226h4v4h-4zM434 226h4v4h-4zM630 226h4v4h-4zM358 230h4v4h-4zM630 238h4v4h-4zM598 242h4v4h-4zM602 242h4v4h-4zM366 246h4v4h-4zM370 258h4v4h-4zM374 266h4v4h-4zM378 270h4v4h-4zM414 270h4v4h-4zM698 338h4v4h-4zM702 338h4v4h-4zM706 342h4v4h-4zM706 346h4v4h-4zM698 354h4v4h-4z"/>
<path fill="#ff0a09" d="M494 22h4v4h-4zM626 22h4v4h-4zM730 22h4v4h-4zM734 22h4v4h-4zM738 22h4v4h-4zM510 26h4v4h-4zM614 26h4v4h-4zM730 26h4v4h-4zM734 26h4v4h-4zM522 30h4v4h-4zM594 30h4v4h-4zM598 30h4v4h-4zM562 34h4v4h-4zM362 54h4v4h-4zM394 54h4v4h-4zM390 58h4v4h-4zM374 62h4v4h-4zM378 62h4v4h-4zM358 70h4v4h-4zM366 74h4v4h-4zM614 86h4v4h-4zM622 86h4v4h-4zM378 90h4v4h-4zM622 90h4v4h-4zM614 94h4v4h-4zM622 94h4v4h-4zM618 98h4v4h-4zM622 98h4v4h-4zM422 134h4v4h-4zM430 150h4v4h-4zM726 154h4v4h-4zM442 162h4v4h-4zM458 166h4v4h-4zM494 170h4v4h-4zM502 174h4v4h-4zM498 198h4v4h-4zM486 202h4v4h-4zM594 210h4v4h-4zM610 210h4v4h-4zM626 226h4v4h-4zM266 234h4v4h-4zM426 234h4v4h-4zM626 234h4v4h-4zM618 238h4v4h-4zM418 258h4v4h-4zM374 262h4v4h-4zM694 346h4v4h-4z"/>
<path fill="#ff0c0a" d="M502 22h4v4h-4zM618 22h4v4h-4zM746 22h4v4h-4zM606 26h4v4h-4zM526 30h4v4h-4zM578 30h4v4h-4zM726 30h4v4h-4zM734 30h4v4h-4zM402 42h4v4h-4zM678 54h4v4h-4zM362 74h4v4h-4zM374 86h4v4h-4zM710 138h4v4h-4zM722 150h4v4h-4zM438 162h4v4h-4zM738 162h4v4h-4zM450 166h4v4h-4zM482 170h4v4h-4zM502 194h4v4h-4zM474 206h4v4h-4zM598 210h4v4h-4zM606 210h4v4h-4zM294 214h4v4h-4zM622 222h4v4h-4zM362 230h4v4h-4zM622 234h4v4h-4zM610 238h4v4h-4zM418 254h4v4h-4zM702 342h4v4h-4z"/>
<path fill="#ff0d0b" d="M506 22h4v4h-4zM614 22h4v4h-4zM722 22h4v4h-4zM750 22h4v4h-4zM518 26h4v4h-4zM594 26h4v4h-4zM598 26h4v4h-4zM722 26h4v4h-4zM570 30h4v4h-4zM574 30h4v4h-4zM738 30h4v4h-4zM538 34h4v4h-4zM554 34h4v4h-4zM346 46h4v4h-4zM350 46h4v4h-4zM398 46h4v4h-4zM338 54h4v4h-4zM338 58h4v4h-4zM374 58h4v4h-4zM382 58h4v4h-4zM350 70h4v4h-4zM694 70h4v4h-4zM358 74h4v4h-4zM366 78h4v4h-4zM370 82h4v4h-4zM406 122h4v4h-4zM422 138h4v4h-4zM714 142h4v4h-4zM426 146h4v4h-4zM718 146h4v4h-4zM446 166h4v4h-4zM746 166h4v4h-4zM470 170h4v4h-4zM474 170h4v4h-4zM494 174h4v4h-4zM502 178h4v4h-4zM490 198h4v4h-4zM322 210h4v4h-4zM326 210h4v4h-4zM602 210h4v4h-4zM342 214h4v4h-4zM350 218h4v4h-4zM618 218h4v4h-4zM586 222h4v4h-4zM274 226h4v4h-4zM622 226h4v4h-4zM622 230h4v4h-4zM594 238h4v4h-4zM602 238h4v4h-4zM606 238h4v4h-4zM418 250h4v4h-4zM410 270h4v4h-4zM394 274h4v4h-4zM398 274h4v4h-4zM698 350h4v4h-4z"/>
<path fill="#ff100d" d="M514 22h4v4h-4zM598 22h4v4h-4zM578 26h4v4h-4zM670 26h4v4h-4zM718 26h4v4h-4zM534 30h4v4h-4zM562 30h4v4h-4zM746 30h4v4h-4zM406 34h4v4h-4zM402 38h4v4h-4zM674 38h4v4h-4zM358 46h4v4h-4zM366 50h4v4h-4zM374 54h4v4h-4zM702 78h4v4h-4zM366 82h4v4h-4zM370 86h4v4h-4zM382 102h4v4h-4zM706 106h4v4h-4zM706 110h4v4h-4zM398 118h4v4h-4zM706 122h4v4h-4zM422 142h4v4h-4zM426 154h4v4h-4zM430 162h4v4h-4zM454 170h4v4h-4zM458 170h4v4h-4zM762 170h4v4h-4zM482 174h4v4h-4zM494 178h4v4h-4zM502 186h4v4h-4zM494 194h4v4h-4zM470 206h4v4h-4zM462 210h4v4h-4zM346 214h4v4h-4zM606 214h4v4h-4zM438 218h4v4h-4zM614 218h4v4h-4zM278 222h4v4h-4zM358 222h4v4h-4zM362 226h4v4h-4zM618 226h4v4h-4zM618 230h4v4h-4zM262 234h4v4h-4zM414 262h4v4h-4zM386 270h4v4h-4z"/>
<path fill="#ff120e" d="M518 22h4v4h-4zM586 22h4v4h-4zM590 22h4v4h-4zM670 22h4v4h-4zM414 26h4v4h-4zM570 26h4v4h-4zM758 26h4v4h-4zM538 30h4v4h-4zM554 30h4v4h-4zM674 34h4v4h-4zM734 38h4v4h-4zM394 46h4v4h-4zM334 50h4v4h-4zM390 50h4v4h-4zM382 54h4v4h-4zM334 58h4v4h-4zM338 66h4v4h-4zM706 86h4v4h-4zM378 98h4v4h-4zM710 134h4v4h-4zM418 138h4v4h-4zM426 162h4v4h-4zM430 166h4v4h-4zM446 170h4v4h-4zM470 174h4v4h-4zM490 178h4v4h-4zM498 186h4v4h-4zM482 198h4v4h-4zM306 210h4v4h-4zM290 214h4v4h-4zM446 214h4v4h-4zM354 218h4v4h-4zM610 218h4v4h-4zM614 222h4v4h-4zM266 230h4v4h-4zM366 230h4v4h-4zM614 230h4v4h-4zM606 234h4v4h-4zM382 266h4v4h-4z"/>
<path fill="#ff130f" d="M522 22h4v4h-4zM582 22h4v4h-4zM714 22h4v4h-4zM530 26h4v4h-4zM566 26h4v4h-4zM550 30h4v4h-4zM754 30h4v4h-4zM718 34h4v4h-4zM722 38h4v4h-4zM738 38h4v4h-4zM346 42h4v4h-4zM362 46h4v4h-4zM370 50h4v4h-4zM698 70h4v4h-4zM354 78h4v4h-4zM362 82h4v4h-4zM374 94h4v4h-4zM406 126h4v4h-4zM422 150h4v4h-4zM726 150h4v4h-4zM438 170h4v4h-4zM442 170h4v4h-4zM466 174h4v4h-4zM482 178h4v4h-4zM494 182h4v4h-4zM494 186h4v4h-4zM494 190h4v4h-4zM486 194h4v4h-4zM474 202h4v4h-4zM594 218h4v4h-4zM614 226h4v4h-4zM422 234h4v4h-4zM594 234h4v4h-4zM370 238h4v4h-4zM418 242h4v4h-4zM414 258h4v4h-4zM406 270h4v4h-4z"/>
<path fill="#ff1610" d="M526 22h4v4h-4zM406 30h4v4h-4zM690 62h4v4h-4zM422 170h4v4h-4zM414 174h4v4h-4z"/>
<path fill="#ff1712" d="M530 22h4v4h-4zM758 34h4v4h-4zM334 42h4v4h-4zM706 78h4v4h-4zM402 126h4v4h-4zM414 138h4v4h-4zM418 150h4v4h-4zM418 158h4v4h-4zM762 166h4v4h-4zM434 174h4v4h-4zM438 174h4v4h-4zM394 178h4v4h-4zM298 210h4v4h-4zM606 226h4v4h-4zM602 230h4v4h-4zM418 238h4v4h-4z"/>
<path fill="#ff1913" d="M534 22h4v4h-4zM562 22h4v4h-4zM678 34h4v4h-4zM754 38h4v4h-4zM386 46h4v4h-4zM326 50h4v4h-4zM326 54h4v4h-4zM698 66h4v4h-4zM710 94h4v4h-4zM710 98h4v4h-4zM710 102h4v4h-4zM414 162h4v4h-4zM410 166h4v4h-4zM402 170h4v4h-4zM394 174h4v4h-4zM426 178h4v4h-4zM462 178h4v4h-4zM390 186h4v4h-4zM478 186h4v4h-4zM478 190h4v4h-4zM286 214h4v4h-4zM438 214h4v4h-4zM598 226h4v4h-4zM370 230h4v4h-4zM414 246h4v4h-4z"/>
<path fill="#ff1b14" d="M538 22h4v4h-4zM554 22h4v4h-4zM406 26h4v4h-4zM402 30h4v4h-4zM398 34h4v4h-4zM338 38h4v4h-4zM342 38h4v4h-4zM346 38h4v4h-4zM394 38h4v4h-4zM714 38h4v4h-4zM758 38h4v4h-4zM750 42h4v4h-4zM378 46h4v4h-4zM734 46h4v4h-4zM326 58h4v4h-4zM694 62h4v4h-4zM330 66h4v4h-4zM334 70h4v4h-4zM338 74h4v4h-4zM706 74h4v4h-4zM710 86h4v4h-4zM382 110h4v4h-4zM710 118h4v4h-4zM394 122h4v4h-4zM714 134h4v4h-4zM414 158h4v4h-4zM754 162h4v4h-4zM406 166h4v4h-4zM398 170h4v4h-4zM390 174h4v4h-4zM434 178h4v4h-4zM438 178h4v4h-4zM450 178h4v4h-4zM454 178h4v4h-4zM386 186h4v4h-4zM474 186h4v4h-4zM394 190h4v4h-4zM474 194h4v4h-4zM342 206h4v4h-4zM462 206h4v4h-4zM294 210h4v4h-4zM358 214h4v4h-4zM278 218h4v4h-4zM266 226h4v4h-4zM374 238h4v4h-4zM378 250h4v4h-4z"/>
<path fill="#ff1c15" d="M546 22h4v4h-4zM550 22h4v4h-4zM326 42h4v4h-4zM354 86h4v4h-4zM410 138h4v4h-4zM414 150h4v4h-4zM738 154h4v4h-4zM402 166h4v4h-4zM394 170h4v4h-4zM466 182h4v4h-4zM390 190h4v4h-4zM466 202h4v4h-4zM314 206h4v4h-4zM450 210h4v4h-4zM430 218h4v4h-4zM370 226h4v4h-4zM414 242h4v4h-4zM382 258h4v4h-4zM390 266h4v4h-4z"/>
<path fill="#ff1a13" d="M558 22h4v4h-4zM678 22h4v4h-4zM706 22h4v4h-4zM678 26h4v4h-4zM678 30h4v4h-4zM710 30h4v4h-4zM330 42h4v4h-4zM390 42h4v4h-4zM718 42h4v4h-4zM746 42h4v4h-4zM326 46h4v4h-4zM374 46h4v4h-4zM730 46h4v4h-4zM350 82h4v4h-4zM358 86h4v4h-4zM710 90h4v4h-4zM710 106h4v4h-4zM710 110h4v4h-4zM386 114h4v4h-4zM390 118h4v4h-4zM710 122h4v4h-4zM414 142h4v4h-4zM730 150h4v4h-4zM386 178h4v4h-4zM430 178h4v4h-4zM458 178h4v4h-4zM386 182h4v4h-4zM422 182h4v4h-4zM470 182h4v4h-4zM398 190h4v4h-4zM402 190h4v4h-4zM406 190h4v4h-4zM318 206h4v4h-4zM454 210h4v4h-4zM362 218h4v4h-4zM366 222h4v4h-4zM422 230h4v4h-4z"/>
<path fill="#ff1611" d="M570 22h4v4h-4zM674 22h4v4h-4zM710 22h4v4h-4zM410 26h4v4h-4zM558 26h4v4h-4zM754 34h4v4h-4zM398 38h4v4h-4zM718 38h4v4h-4zM746 38h4v4h-4zM394 42h4v4h-4zM726 42h4v4h-4zM734 42h4v4h-4zM366 46h4v4h-4zM390 46h4v4h-4zM378 50h4v4h-4zM382 50h4v4h-4zM330 58h4v4h-4zM686 58h4v4h-4zM338 70h4v4h-4zM398 122h4v4h-4zM710 130h4v4h-4zM418 166h4v4h-4zM758 166h4v4h-4zM414 170h4v4h-4zM418 170h4v4h-4zM406 174h4v4h-4zM418 174h4v4h-4zM422 174h4v4h-4zM450 174h4v4h-4zM454 174h4v4h-4zM398 178h4v4h-4zM398 182h4v4h-4zM414 182h4v4h-4zM482 182h4v4h-4zM402 186h4v4h-4zM406 186h4v4h-4zM486 186h4v4h-4zM330 206h4v4h-4zM458 210h4v4h-4zM442 214h4v4h-4zM358 218h4v4h-4zM434 218h4v4h-4zM430 222h4v4h-4zM594 222h4v4h-4zM366 226h4v4h-4zM606 230h4v4h-4zM370 234h4v4h-4zM374 246h4v4h-4z"/>
<path fill="#ff1510" d="M574 22h4v4h-4zM534 26h4v4h-4zM562 26h4v4h-4zM674 26h4v4h-4zM714 30h4v4h-4zM758 30h4v4h-4zM402 34h4v4h-4zM338 42h4v4h-4zM354 42h4v4h-4zM730 42h4v4h-4zM678 46h4v4h-4zM330 50h4v4h-4zM374 50h4v4h-4zM386 50h4v4h-4zM330 54h4v4h-4zM682 54h4v4h-4zM350 78h4v4h-4zM358 82h4v4h-4zM706 82h4v4h-4zM382 106h4v4h-4zM394 118h4v4h-4zM714 138h4v4h-4zM418 142h4v4h-4zM718 142h4v4h-4zM722 146h4v4h-4zM422 162h4v4h-4zM746 162h4v4h-4zM422 166h4v4h-4zM426 170h4v4h-4zM430 170h4v4h-4zM410 174h4v4h-4zM458 174h4v4h-4zM402 178h4v4h-4zM410 178h4v4h-4zM414 178h4v4h-4zM474 178h4v4h-4zM402 182h4v4h-4zM410 182h4v4h-4zM486 182h4v4h-4zM490 186h4v4h-4zM486 190h4v4h-4zM482 194h4v4h-4zM466 206h4v4h-4zM302 210h4v4h-4zM598 218h4v4h-4zM602 218h4v4h-4zM362 222h4v4h-4zM610 222h4v4h-4zM270 226h4v4h-4zM590 226h4v4h-4zM610 226h4v4h-4zM414 254h4v4h-4zM378 258h4v4h-4z"/>
<path fill="#ff1410" d="M578 22h4v4h-4zM750 34h4v4h-4zM742 38h4v4h-4zM342 42h4v4h-4zM694 66h4v4h-4zM702 74h4v4h-4zM386 110h4v4h-4zM390 114h4v4h-4zM422 158h4v4h-4zM462 174h4v4h-4zM406 178h4v4h-4zM478 178h4v4h-4zM406 182h4v4h-4zM478 198h4v4h-4zM606 218h4v4h-4zM590 230h4v4h-4zM610 230h4v4h-4zM598 234h4v4h-4zM390 270h4v4h-4z"/>
<path fill="#ff0f0d" d="M602 22h4v4h-4zM718 22h4v4h-4zM582 26h4v4h-4zM722 34h4v4h-4zM738 34h4v4h-4zM686 62h4v4h-4zM374 90h4v4h-4zM706 94h4v4h-4zM414 130h4v4h-4zM438 166h4v4h-4zM614 234h4v4h-4zM418 246h4v4h-4z"/>
<path fill="#ff0f0c" d="M606 22h4v4h-4zM754 22h4v4h-4zM522 26h4v4h-4zM586 26h4v4h-4zM750 26h4v4h-4zM566 30h4v4h-4zM342 46h4v4h-4zM370 54h4v4h-4zM390 54h4v4h-4zM682 58h4v4h-4zM338 62h4v4h-4zM346 70h4v4h-4zM354 74h4v4h-4zM362 78h4v4h-4zM706 98h4v4h-4zM706 102h4v4h-4zM386 106h4v4h-4zM410 126h4v4h-4zM706 126h4v4h-4zM418 134h4v4h-4zM462 170h4v4h-4zM758 170h4v4h-4zM486 174h4v4h-4zM498 178h4v4h-4zM502 182h4v4h-4zM502 190h4v4h-4zM486 198h4v4h-4zM478 202h4v4h-4zM314 210h4v4h-4zM334 210h4v4h-4zM450 214h4v4h-4zM610 214h4v4h-4zM590 218h4v4h-4zM618 222h4v4h-4zM430 226h4v4h-4zM586 226h4v4h-4zM586 230h4v4h-4zM366 234h4v4h-4zM698 346h4v4h-4z"/>
<path fill="#ff0908" d="M630 22h4v4h-4zM606 30h4v4h-4zM530 34h4v4h-4zM570 34h4v4h-4zM398 50h4v4h-4zM366 70h4v4h-4zM370 74h4v4h-4zM698 78h4v4h-4zM610 94h4v4h-4zM618 102h4v4h-4zM622 102h4v4h-4zM742 166h4v4h-4zM282 222h4v4h-4zM622 238h4v4h-4zM366 242h4v4h-4zM406 274h4v4h-4z"/>
<path fill="#fe0606" d="M646 22h4v4h-4zM434 26h4v4h-4zM478 26h4v4h-4zM482 26h4v4h-4zM486 26h4v4h-4zM490 26h4v4h-4zM634 26h4v4h-4zM658 26h4v4h-4zM422 30h4v4h-4zM506 30h4v4h-4zM510 30h4v4h-4zM622 30h4v4h-4zM626 30h4v4h-4zM662 30h4v4h-4zM522 34h4v4h-4zM614 34h4v4h-4zM618 34h4v4h-4zM666 34h4v4h-4zM534 38h4v4h-4zM562 38h4v4h-4zM566 38h4v4h-4zM570 38h4v4h-4zM574 38h4v4h-4zM578 38h4v4h-4zM582 38h4v4h-4zM586 38h4v4h-4zM590 38h4v4h-4zM594 38h4v4h-4zM598 38h4v4h-4zM602 38h4v4h-4zM606 38h4v4h-4zM610 38h4v4h-4zM670 42h4v4h-4zM350 54h4v4h-4zM354 54h4v4h-4zM398 54h4v4h-4zM350 58h4v4h-4zM354 58h4v4h-4zM386 66h4v4h-4zM382 70h4v4h-4zM378 74h4v4h-4zM606 74h4v4h-4zM610 74h4v4h-4zM614 74h4v4h-4zM618 74h4v4h-4zM378 78h4v4h-4zM606 78h4v4h-4zM602 82h4v4h-4zM626 82h4v4h-4zM698 82h4v4h-4zM602 86h4v4h-4zM382 90h4v4h-4zM602 90h4v4h-4zM630 90h4v4h-4zM630 94h4v4h-4zM386 98h4v4h-4zM606 98h4v4h-4zM630 98h4v4h-4zM702 98h4v4h-4zM630 102h4v4h-4zM702 102h4v4h-4zM610 106h4v4h-4zM618 110h4v4h-4zM622 110h4v4h-4zM402 114h4v4h-4zM410 118h4v4h-4zM422 126h4v4h-4zM430 138h4v4h-4zM710 142h4v4h-4zM434 146h4v4h-4zM718 150h4v4h-4zM722 154h4v4h-4zM446 158h4v4h-4zM458 162h4v4h-4zM462 162h4v4h-4zM466 162h4v4h-4zM470 162h4v4h-4zM474 162h4v4h-4zM498 166h4v4h-4zM502 166h4v4h-4zM738 166h4v4h-4zM506 170h4v4h-4zM514 178h4v4h-4zM514 182h4v4h-4zM514 186h4v4h-4zM510 194h4v4h-4zM506 198h4v4h-4zM498 202h4v4h-4zM594 206h4v4h-4zM610 206h4v4h-4zM618 210h4v4h-4zM306 214h4v4h-4zM310 214h4v4h-4zM326 214h4v4h-4zM330 214h4v4h-4zM630 222h4v4h-4zM274 230h4v4h-4zM634 230h4v4h-4zM270 234h4v4h-4zM634 234h4v4h-4zM362 238h4v4h-4zM426 238h4v4h-4zM582 238h4v4h-4zM634 238h4v4h-4zM590 242h4v4h-4zM610 242h4v4h-4zM614 242h4v4h-4zM618 242h4v4h-4zM622 242h4v4h-4zM626 242h4v4h-4zM630 242h4v4h-4zM422 246h4v4h-4zM366 250h4v4h-4zM422 250h4v4h-4zM370 262h4v4h-4zM418 266h4v4h-4zM410 274h4v4h-4zM706 350h4v4h-4zM694 354h4v4h-4zM702 354h4v4h-4z"/>
<path fill="#fe0707" d="M650 22h4v4h-4zM558 38h4v4h-4zM390 62h4v4h-4zM622 78h4v4h-4zM614 106h4v4h-4zM702 126h4v4h-4zM714 146h4v4h-4zM438 154h4v4h-4zM510 174h4v4h-4zM754 174h4v4h-4zM482 206h4v4h-4zM622 214h4v4h-4zM290 218h4v4h-4zM342 218h4v4h-4zM446 218h4v4h-4zM626 218h4v4h-4zM594 242h4v4h-4zM606 242h4v4h-4z"/>
<path fill="#ff1d15" d="M682 22h4v4h-4zM702 22h4v4h-4zM710 34h4v4h-4zM330 38h4v4h-4zM366 42h4v4h-4zM386 42h4v4h-4zM754 42h4v4h-4zM322 46h4v4h-4zM742 46h4v4h-4zM322 50h4v4h-4zM686 54h4v4h-4zM690 58h4v4h-4zM326 62h4v4h-4zM702 66h4v4h-4zM346 82h4v4h-4zM710 82h4v4h-4zM366 94h4v4h-4zM370 98h4v4h-4zM374 102h4v4h-4zM402 130h4v4h-4zM406 134h4v4h-4zM718 138h4v4h-4zM722 142h4v4h-4zM746 158h4v4h-4zM758 162h4v4h-4zM386 174h4v4h-4zM382 178h4v4h-4zM430 182h4v4h-4zM382 186h4v4h-4zM422 186h4v4h-4zM470 186h4v4h-4zM386 190h4v4h-4zM434 214h4v4h-4zM426 222h4v4h-4zM374 234h4v4h-4zM418 234h4v4h-4z"/>
<path fill="#ff1f16" d="M686 22h4v4h-4zM698 22h4v4h-4zM682 30h4v4h-4zM326 38h4v4h-4zM390 38h4v4h-4zM322 42h4v4h-4zM370 42h4v4h-4zM758 42h4v4h-4zM726 50h4v4h-4zM730 50h4v4h-4zM698 62h4v4h-4zM334 74h4v4h-4zM710 78h4v4h-4zM350 86h4v4h-4zM358 90h4v4h-4zM714 130h4v4h-4zM382 174h4v4h-4zM458 182h4v4h-4zM426 186h4v4h-4zM394 194h4v4h-4zM398 194h4v4h-4zM406 194h4v4h-4zM330 202h4v4h-4zM334 202h4v4h-4zM310 206h4v4h-4zM442 210h4v4h-4zM362 214h4v4h-4zM270 222h4v4h-4zM370 222h4v4h-4z"/>
<path fill="#fff895" d="M14 26h4v4h-4zM26 26h4v4h-4zM30 26h4v4h-4zM34 26h4v4h-4zM78 26h4v4h-4zM38 30h4v4h-4zM42 34h4v4h-4zM82 34h4v4h-4zM42 38h4v4h-4zM82 38h4v4h-4zM46 42h4v4h-4zM46 46h4v4h-4zM50 50h4v4h-4zM82 50h4v4h-4zM54 54h4v4h-4zM58 58h4v4h-4zM62 58h4v4h-4zM74 58h4v4h-4z"/>
<path fill="#fff491" d="M86 26h4v4h-4zM14 38h4v4h-4zM18 38h4v4h-4zM22 38h4v4h-4zM26 38h4v4h-4zM30 42h4v4h-4zM34 46h4v4h-4zM90 46h4v4h-4zM34 50h4v4h-4zM38 54h4v4h-4zM42 58h4v4h-4zM82 62h4v4h-4zM50 66h4v4h-4zM58 70h4v4h-4zM62 70h4v4h-4zM66 70h4v4h-4z"/>
<path fill="#fff18e" d="M90 26h4v4h-4zM18 54h4v4h-4zM22 54h4v4h-4zM26 58h4v4h-4zM30 62h4v4h-4zM34 66h4v4h-4zM38 70h4v4h-4zM78 70h4v4h-4zM46 74h4v4h-4zM50 74h4v4h-4zM70 74h4v4h-4z"/>
<path fill="#ffee8b" d="M94 26h4v4h-4zM94 54h4v4h-4zM14 66h4v4h-4zM22 70h4v4h-4zM30 74h4v4h-4zM38 78h4v4h-4zM74 78h4v4h-4zM46 82h4v4h-4zM50 82h4v4h-4zM54 82h4v4h-4zM58 82h4v4h-4zM62 82h4v4h-4zM66 82h4v4h-4z"/>
<path fill="#ffea87" d="M98 26h4v4h-4zM14 82h4v4h-4zM26 86h4v4h-4zM74 86h4v4h-4zM42 90h4v4h-4zM46 90h4v4h-4zM62 90h4v4h-4z"/>
<path fill="#ffe683" d="M102 26h4v4h-4z"/>
<path fill="#ffca6f" d="M122 26h4v4h-4zM122 30h4v4h-4zM122 34h4v4h-4zM118 62h4v4h-4zM114 90h4v4h-4zM114 94h4v4h-4zM286 150h4v4h-4zM290 162h4v4h-4zM282 174h4v4h-4z"/>
<path fill="#ffbd68" d="M130 26h4v4h-4zM130 30h4v4h-4zM126 58h4v4h-4zM126 62h4v4h-4zM126 82h4v4h-4zM126 86h4v4h-4zM266 118h4v4h-4zM282 134h4v4h-4zM290 146h4v4h-4zM294 154h4v4h-4z"/>
<path fill="#ffb765" d="M134 26h4v4h-4zM130 78h4v4h-4zM266 114h4v4h-4zM282 130h4v4h-4zM298 162h4v4h-4zM298 166h4v4h-4z"/>
<path fill="#ffb061" d="M138 26h4v4h-4zM134 58h4v4h-4zM134 70h4v4h-4zM138 86h4v4h-4zM142 94h4v4h-4zM262 106h4v4h-4zM294 178h4v4h-4z"/>
<path fill="#ffa95d" d="M142 26h4v4h-4zM138 62h4v4h-4zM146 86h4v4h-4zM154 94h4v4h-4zM226 94h4v4h-4zM246 94h4v4h-4z"/>
<path fill="#ffa25a" d="M146 26h4v4h-4zM146 74h4v4h-4zM162 90h4v4h-4zM222 90h4v4h-4zM174 94h4v4h-4zM178 94h4v4h-4zM182 94h4v4h-4zM186 94h4v4h-4zM190 94h4v4h-4zM194 94h4v4h-4zM258 94h4v4h-4zM286 122h4v4h-4zM298 142h4v4h-4z"/>
<path fill="#ff9b57" d="M150 26h4v4h-4zM150 66h4v4h-4zM154 74h4v4h-4zM158 78h4v4h-4zM250 86h4v4h-4zM298 138h4v4h-4z"/>
<path fill="#ff9554" d="M154 26h4v4h-4zM222 82h4v4h-4zM250 82h4v4h-4zM286 114h4v4h-4zM298 134h4v4h-4zM290 186h4v4h-4z"/>
<path fill="#ff8f50" d="M158 26h4v4h-4zM158 50h4v4h-4zM162 62h4v4h-4zM190 78h4v4h-4zM226 78h4v4h-4zM298 130h4v4h-4zM302 138h4v4h-4zM306 178h4v4h-4z"/>
<path fill="#ff894e" d="M162 26h4v4h-4zM162 30h4v4h-4zM162 38h4v4h-4zM162 42h4v4h-4zM174 66h4v4h-4zM194 74h4v4h-4zM230 74h4v4h-4zM250 74h4v4h-4zM298 126h4v4h-4zM302 134h4v4h-4z"/>
<path fill="#ff844b" d="M166 26h4v4h-4zM166 30h4v4h-4zM166 34h4v4h-4zM166 38h4v4h-4zM174 58h4v4h-4zM178 62h4v4h-4zM198 70h4v4h-4zM238 70h4v4h-4zM242 70h4v4h-4zM246 70h4v4h-4zM250 70h4v4h-4zM294 114h4v4h-4zM298 122h4v4h-4zM302 130h4v4h-4zM306 182h4v4h-4z"/>
<path fill="#ff7f49" d="M170 26h4v4h-4zM170 30h4v4h-4zM198 66h4v4h-4zM298 118h4v4h-4z"/>
<path fill="#ff7b46" d="M174 26h4v4h-4zM174 30h4v4h-4zM178 46h4v4h-4zM198 62h4v4h-4zM286 94h4v4h-4zM298 114h4v4h-4z"/>
<path fill="#ff673c" d="M194 26h4v4h-4zM198 38h4v4h-4zM206 46h4v4h-4z"/>
<path fill="#ff633b" d="M198 26h4v4h-4zM222 50h4v4h-4zM318 142h4v4h-4zM322 158h4v4h-4zM270 202h4v4h-4z"/>
<path fill="#ff6039" d="M202 26h4v4h-4zM218 46h4v4h-4zM258 50h4v4h-4zM266 54h4v4h-4zM290 78h4v4h-4z"/>
<path fill="#ff5d37" d="M206 26h4v4h-4zM218 42h4v4h-4zM226 46h4v4h-4zM270 54h4v4h-4z"/>
<path fill="#ff5a36" d="M210 26h4v4h-4zM214 34h4v4h-4zM218 38h4v4h-4zM258 46h4v4h-4zM294 78h4v4h-4zM302 90h4v4h-4z"/>
<path fill="#ff5735" d="M214 26h4v4h-4zM218 34h4v4h-4zM222 38h4v4h-4zM230 42h4v4h-4zM234 42h4v4h-4zM238 42h4v4h-4zM242 42h4v4h-4zM246 42h4v4h-4zM250 42h4v4h-4zM306 94h4v4h-4zM758 106h4v4h-4zM762 110h4v4h-4zM762 114h4v4h-4zM318 130h4v4h-4z"/>
<path fill="#ff5533" d="M218 26h4v4h-4zM294 74h4v4h-4zM750 102h4v4h-4zM746 110h4v4h-4zM746 118h4v4h-4zM750 122h4v4h-4zM322 138h4v4h-4zM326 170h4v4h-4zM318 186h4v4h-4z"/>
<path fill="#ff4f30" d="M230 26h4v4h-4zM254 34h4v4h-4zM270 42h4v4h-4zM298 74h4v4h-4zM738 114h4v4h-4zM742 126h4v4h-4zM750 130h4v4h-4z"/>
<path fill="#ff4b2f" d="M246 26h4v4h-4zM270 38h4v4h-4zM282 50h4v4h-4zM306 82h4v4h-4zM750 86h4v4h-4zM738 126h4v4h-4zM742 130h4v4h-4zM326 138h4v4h-4zM322 186h4v4h-4zM286 202h4v4h-4z"/>
<path fill="#ff492d" d="M258 26h4v4h-4zM290 58h4v4h-4zM754 82h4v4h-4zM318 102h4v4h-4zM734 106h4v4h-4zM326 182h4v4h-4z"/>
<path fill="#ff442b" d="M270 26h4v4h-4zM274 30h4v4h-4zM282 42h4v4h-4zM302 70h4v4h-4zM750 78h4v4h-4zM314 86h4v4h-4zM734 90h4v4h-4zM322 106h4v4h-4zM730 110h4v4h-4zM730 114h4v4h-4zM326 130h4v4h-4zM330 138h4v4h-4zM750 138h4v4h-4zM330 178h4v4h-4zM270 210h4v4h-4z"/>
<path fill="#ff3423" d="M298 26h4v4h-4zM730 70h4v4h-4zM746 146h4v4h-4zM350 162h4v4h-4zM346 166h4v4h-4zM410 226h4v4h-4zM406 230h4v4h-4z"/>
<path fill="#ff2f1f" d="M310 26h4v4h-4zM386 154h4v4h-4zM358 198h4v4h-4zM402 206h4v4h-4z"/>
<path fill="#ff2d1f" d="M314 26h4v4h-4zM350 30h4v4h-4zM366 34h4v4h-4zM370 34h4v4h-4zM374 34h4v4h-4zM698 42h4v4h-4zM690 46h4v4h-4zM698 46h4v4h-4zM746 58h4v4h-4zM730 62h4v4h-4zM326 78h4v4h-4zM330 82h4v4h-4zM718 110h4v4h-4zM718 114h4v4h-4zM718 118h4v4h-4zM386 130h4v4h-4zM390 134h4v4h-4zM738 146h4v4h-4zM394 150h4v4h-4zM390 154h4v4h-4zM382 158h4v4h-4zM374 162h4v4h-4zM366 190h4v4h-4zM334 194h4v4h-4zM346 194h4v4h-4zM354 198h4v4h-4zM366 198h4v4h-4zM294 206h4v4h-4zM394 206h4v4h-4zM386 210h4v4h-4zM382 214h4v4h-4zM382 218h4v4h-4zM382 222h4v4h-4zM390 246h4v4h-4zM402 246h4v4h-4z"/>
<path fill="#ff2c1e" d="M318 26h4v4h-4zM322 26h4v4h-4zM326 26h4v4h-4zM330 26h4v4h-4zM310 30h4v4h-4zM378 34h4v4h-4zM306 38h4v4h-4zM694 38h4v4h-4zM306 42h4v4h-4zM694 50h4v4h-4zM698 50h4v4h-4zM310 54h4v4h-4zM742 58h4v4h-4zM314 62h4v4h-4zM722 66h4v4h-4zM334 86h4v4h-4zM338 90h4v4h-4zM350 98h4v4h-4zM718 102h4v4h-4zM366 106h4v4h-4zM718 106h4v4h-4zM370 110h4v4h-4zM718 122h4v4h-4zM394 138h4v4h-4zM398 146h4v4h-4zM758 154h4v4h-4zM762 154h4v4h-4zM370 166h4v4h-4zM366 170h4v4h-4zM366 182h4v4h-4zM338 194h4v4h-4zM342 194h4v4h-4zM446 198h4v4h-4zM450 198h4v4h-4zM390 206h4v4h-4zM382 210h4v4h-4zM422 210h4v4h-4zM262 222h4v4h-4zM418 222h4v4h-4zM382 226h4v4h-4zM410 234h4v4h-4zM390 250h4v4h-4zM402 250h4v4h-4zM394 254h4v4h-4zM398 254h4v4h-4z"/>
<path fill="#ff2d1e" d="M334 26h4v4h-4zM386 30h4v4h-4zM306 34h4v4h-4zM690 42h4v4h-4zM306 46h4v4h-4zM342 94h4v4h-4zM746 150h4v4h-4zM366 186h4v4h-4zM418 206h4v4h-4zM386 238h4v4h-4z"/>
<path fill="#ff3523" d="M350 26h4v4h-4zM382 26h4v4h-4zM366 30h4v4h-4zM370 30h4v4h-4zM758 62h4v4h-4zM310 66h4v4h-4zM742 66h4v4h-4zM326 86h4v4h-4zM334 98h4v4h-4zM338 106h4v4h-4zM722 106h4v4h-4zM342 110h4v4h-4zM346 110h4v4h-4zM350 110h4v4h-4zM722 110h4v4h-4zM342 114h4v4h-4zM722 114h4v4h-4zM338 118h4v4h-4zM342 118h4v4h-4zM722 118h4v4h-4zM338 122h4v4h-4zM342 122h4v4h-4zM338 126h4v4h-4zM342 126h4v4h-4zM374 126h4v4h-4zM378 130h4v4h-4zM382 138h4v4h-4zM738 142h4v4h-4zM382 146h4v4h-4zM378 150h4v4h-4zM370 154h4v4h-4zM354 158h4v4h-4zM358 158h4v4h-4zM342 170h4v4h-4zM394 230h4v4h-4zM398 234h4v4h-4z"/>
<path fill="#ff3d27" d="M366 26h4v4h-4zM286 34h4v4h-4zM294 50h4v4h-4zM754 70h4v4h-4zM310 74h4v4h-4zM734 78h4v4h-4zM322 90h4v4h-4zM326 98h4v4h-4zM726 110h4v4h-4zM726 114h4v4h-4zM726 118h4v4h-4zM330 130h4v4h-4zM362 134h4v4h-4zM366 134h4v4h-4zM734 134h4v4h-4zM362 138h4v4h-4zM366 138h4v4h-4zM370 138h4v4h-4zM338 142h4v4h-4zM362 142h4v4h-4zM366 142h4v4h-4zM334 178h4v4h-4zM310 198h4v4h-4zM266 214h4v4h-4z"/>
<path fill="#ff3825" d="M378 26h4v4h-4zM294 42h4v4h-4zM738 70h4v4h-4zM726 86h4v4h-4zM326 90h4v4h-4zM330 98h4v4h-4zM354 118h4v4h-4zM362 118h4v4h-4zM366 122h4v4h-4zM370 126h4v4h-4zM334 130h4v4h-4zM350 130h4v4h-4zM378 138h4v4h-4zM378 142h4v4h-4zM754 146h4v4h-4zM370 150h4v4h-4zM322 194h4v4h-4zM410 218h4v4h-4zM398 226h4v4h-4z"/>
<path fill="#ff291d" d="M394 26h4v4h-4zM358 34h4v4h-4zM690 50h4v4h-4zM750 54h4v4h-4zM314 58h4v4h-4zM734 58h4v4h-4zM322 70h4v4h-4zM342 90h4v4h-4zM382 122h4v4h-4zM386 126h4v4h-4zM390 130h4v4h-4zM394 134h4v4h-4zM398 138h4v4h-4zM742 150h4v4h-4zM390 158h4v4h-4zM382 162h4v4h-4zM438 194h4v4h-4zM346 198h4v4h-4zM434 198h4v4h-4zM374 202h4v4h-4zM402 202h4v4h-4zM422 202h4v4h-4zM426 202h4v4h-4zM438 202h4v4h-4zM370 206h4v4h-4zM374 206h4v4h-4zM426 206h4v4h-4zM382 234h4v4h-4zM386 246h4v4h-4zM390 254h4v4h-4z"/>
<path fill="#fe0505" d="M438 26h4v4h-4zM442 26h4v4h-4zM446 26h4v4h-4zM450 26h4v4h-4zM454 26h4v4h-4zM458 26h4v4h-4zM462 26h4v4h-4zM466 26h4v4h-4zM470 26h4v4h-4zM474 26h4v4h-4zM638 26h4v4h-4zM642 26h4v4h-4zM654 26h4v4h-4zM426 30h4v4h-4zM494 30h4v4h-4zM498 30h4v4h-4zM502 30h4v4h-4zM630 30h4v4h-4zM418 34h4v4h-4zM514 34h4v4h-4zM518 34h4v4h-4zM622 34h4v4h-4zM530 38h4v4h-4zM614 38h4v4h-4zM618 38h4v4h-4zM590 42h4v4h-4zM594 42h4v4h-4zM598 42h4v4h-4zM602 42h4v4h-4zM606 42h4v4h-4zM610 42h4v4h-4zM406 46h4v4h-4zM402 50h4v4h-4zM674 54h4v4h-4zM394 62h4v4h-4zM610 66h4v4h-4zM682 66h4v4h-4zM606 70h4v4h-4zM610 70h4v4h-4zM614 70h4v4h-4zM618 70h4v4h-4zM382 74h4v4h-4zM602 74h4v4h-4zM622 74h4v4h-4zM602 78h4v4h-4zM626 78h4v4h-4zM694 78h4v4h-4zM382 86h4v4h-4zM630 86h4v4h-4zM602 94h4v4h-4zM602 98h4v4h-4zM390 102h4v4h-4zM606 102h4v4h-4zM394 106h4v4h-4zM630 106h4v4h-4zM398 110h4v4h-4zM614 110h4v4h-4zM626 110h4v4h-4zM418 122h4v4h-4zM426 130h4v4h-4zM702 130h4v4h-4zM430 134h4v4h-4zM706 138h4v4h-4zM434 142h4v4h-4zM438 150h4v4h-4zM442 154h4v4h-4zM450 158h4v4h-4zM726 158h4v4h-4zM478 162h4v4h-4zM482 162h4v4h-4zM486 162h4v4h-4zM490 162h4v4h-4zM506 166h4v4h-4zM510 170h4v4h-4zM742 170h4v4h-4zM514 174h4v4h-4zM750 174h4v4h-4zM762 178h4v4h-4zM514 190h4v4h-4zM502 202h4v4h-4zM598 202h4v4h-4zM602 202h4v4h-4zM606 202h4v4h-4zM486 206h4v4h-4zM490 206h4v4h-4zM590 206h4v4h-4zM614 206h4v4h-4zM474 210h4v4h-4zM586 210h4v4h-4zM314 214h4v4h-4zM318 214h4v4h-4zM322 214h4v4h-4zM462 214h4v4h-4zM626 214h4v4h-4zM338 218h4v4h-4zM582 218h4v4h-4zM630 218h4v4h-4zM286 222h4v4h-4zM346 222h4v4h-4zM634 226h4v4h-4zM578 230h4v4h-4zM578 234h4v4h-4zM638 234h4v4h-4zM266 238h4v4h-4zM638 238h4v4h-4zM262 242h4v4h-4zM586 242h4v4h-4zM634 242h4v4h-4zM366 254h4v4h-4zM422 254h4v4h-4zM422 258h4v4h-4zM382 274h4v4h-4zM394 278h4v4h-4zM398 278h4v4h-4zM702 334h4v4h-4zM694 338h4v4h-4zM706 338h4v4h-4zM690 346h4v4h-4z"/>
<path fill="#ff110e" d="M526 26h4v4h-4zM574 26h4v4h-4zM558 30h4v4h-4zM718 30h4v4h-4zM750 30h4v4h-4zM742 34h4v4h-4zM726 38h4v4h-4zM730 38h4v4h-4zM398 42h4v4h-4zM338 46h4v4h-4zM378 54h4v4h-4zM386 54h4v4h-4zM350 74h4v4h-4zM358 78h4v4h-4zM402 122h4v4h-4zM422 146h4v4h-4zM730 154h4v4h-4zM426 158h4v4h-4zM434 166h4v4h-4zM450 170h4v4h-4zM474 174h4v4h-4zM498 182h4v4h-4zM498 190h4v4h-4zM490 194h4v4h-4zM338 210h4v4h-4zM602 214h4v4h-4zM590 234h4v4h-4zM610 234h4v4h-4zM374 254h4v4h-4zM378 262h4v4h-4z"/>
<path fill="#ff1711" d="M538 26h4v4h-4zM554 26h4v4h-4zM678 42h4v4h-4zM722 42h4v4h-4zM738 42h4v4h-4zM330 46h4v4h-4zM334 66h4v4h-4zM342 74h4v4h-4zM362 86h4v4h-4zM378 102h4v4h-4zM418 146h4v4h-4zM734 154h4v4h-4zM418 162h4v4h-4zM410 170h4v4h-4zM402 174h4v4h-4zM426 174h4v4h-4zM430 174h4v4h-4zM442 174h4v4h-4zM446 174h4v4h-4zM418 178h4v4h-4zM470 178h4v4h-4zM394 182h4v4h-4zM478 182h4v4h-4zM398 186h4v4h-4zM410 186h4v4h-4zM482 186h4v4h-4zM482 190h4v4h-4zM470 202h4v4h-4zM326 206h4v4h-4zM334 206h4v4h-4zM346 210h4v4h-4zM606 222h4v4h-4zM426 226h4v4h-4zM414 250h4v4h-4zM394 270h4v4h-4zM402 270h4v4h-4z"/>
<path fill="#ff0c0b" d="M602 26h4v4h-4zM742 26h4v4h-4zM414 30h4v4h-4zM366 54h4v4h-4zM386 58h4v4h-4zM702 82h4v4h-4zM706 130h4v4h-4zM430 154h4v4h-4zM478 170h4v4h-4zM754 170h4v4h-4zM498 174h4v4h-4zM506 182h4v4h-4zM506 186h4v4h-4zM482 202h4v4h-4zM614 214h4v4h-4zM286 218h4v4h-4zM586 234h4v4h-4zM370 250h4v4h-4zM378 266h4v4h-4zM414 266h4v4h-4zM402 274h4v4h-4zM698 342h4v4h-4z"/>
<path fill="#fe0404" d="M646 26h4v4h-4zM650 26h4v4h-4zM430 30h4v4h-4zM486 30h4v4h-4zM490 30h4v4h-4zM634 30h4v4h-4zM510 34h4v4h-4zM626 34h4v4h-4zM414 38h4v4h-4zM526 38h4v4h-4zM666 38h4v4h-4zM410 42h4v4h-4zM546 42h4v4h-4zM586 42h4v4h-4zM614 42h4v4h-4zM598 46h4v4h-4zM602 46h4v4h-4zM606 46h4v4h-4zM670 46h4v4h-4zM398 58h4v4h-4zM678 62h4v4h-4zM390 66h4v4h-4zM606 66h4v4h-4zM614 66h4v4h-4zM386 70h4v4h-4zM602 70h4v4h-4zM686 70h4v4h-4zM690 74h4v4h-4zM382 78h4v4h-4zM382 82h4v4h-4zM598 82h4v4h-4zM630 82h4v4h-4zM598 86h4v4h-4zM386 94h4v4h-4zM634 98h4v4h-4zM606 106h4v4h-4zM630 110h4v4h-4zM406 114h4v4h-4zM414 118h4v4h-4zM454 158h4v4h-4zM494 162h4v4h-4zM498 162h4v4h-4zM758 178h4v4h-4zM514 194h4v4h-4zM510 198h4v4h-4zM622 210h4v4h-4zM350 226h4v4h-4zM578 226h4v4h-4zM638 230h4v4h-4zM358 234h4v4h-4zM430 234h4v4h-4zM578 238h4v4h-4zM362 242h4v4h-4zM582 242h4v4h-4zM638 242h4v4h-4zM402 278h4v4h-4zM698 334h4v4h-4zM690 350h4v4h-4z"/>
<path fill="#ff1e16" d="M682 26h4v4h-4zM706 30h4v4h-4zM354 38h4v4h-4zM714 42h4v4h-4zM682 46h4v4h-4zM718 46h4v4h-4zM746 46h4v4h-4zM322 54h4v4h-4zM706 70h4v4h-4zM410 158h4v4h-4zM406 162h4v4h-4zM762 162h4v4h-4zM398 166h4v4h-4zM390 170h4v4h-4zM434 182h4v4h-4zM462 182h4v4h-4zM418 190h4v4h-4zM470 190h4v4h-4zM402 194h4v4h-4zM470 194h4v4h-4zM346 206h4v4h-4zM354 210h4v4h-4zM446 210h4v4h-4zM366 218h4v4h-4zM410 254h4v4h-4z"/>
<path fill="#ff2118" d="M686 26h4v4h-4zM334 34h4v4h-4zM338 34h4v4h-4zM706 34h4v4h-4zM322 38h4v4h-4zM318 46h4v4h-4zM714 46h4v4h-4zM754 46h4v4h-4zM318 50h4v4h-4zM718 50h4v4h-4zM694 58h4v4h-4zM706 66h4v4h-4zM354 90h4v4h-4zM398 130h4v4h-4zM406 138h4v4h-4zM410 146h4v4h-4zM410 150h4v4h-4zM742 154h4v4h-4zM406 158h4v4h-4zM466 190h4v4h-4zM386 194h4v4h-4zM342 202h4v4h-4zM462 202h4v4h-4zM290 210h4v4h-4zM378 238h4v4h-4zM398 266h4v4h-4z"/>
<path fill="#ff2319" d="M690 26h4v4h-4zM694 26h4v4h-4zM686 30h4v4h-4zM326 34h4v4h-4zM346 34h4v4h-4zM318 38h4v4h-4zM362 38h4v4h-4zM758 46h4v4h-4zM686 50h4v4h-4zM746 50h4v4h-4zM690 54h4v4h-4zM714 86h4v4h-4zM714 90h4v4h-4zM714 102h4v4h-4zM714 106h4v4h-4zM714 122h4v4h-4zM718 134h4v4h-4zM406 154h4v4h-4zM402 158h4v4h-4zM386 166h4v4h-4zM438 186h4v4h-4zM458 186h4v4h-4zM378 190h4v4h-4zM430 190h4v4h-4zM382 194h4v4h-4zM422 194h4v4h-4zM322 202h4v4h-4zM354 206h4v4h-4zM362 210h4v4h-4zM434 210h4v4h-4zM274 218h4v4h-4zM378 234h4v4h-4zM406 258h4v4h-4z"/>
<path fill="#ff2218" d="M698 26h4v4h-4zM702 30h4v4h-4zM330 34h4v4h-4zM342 34h4v4h-4zM386 38h4v4h-4zM318 42h4v4h-4zM710 42h4v4h-4zM742 50h4v4h-4zM318 54h4v4h-4zM322 62h4v4h-4zM702 62h4v4h-4zM346 86h4v4h-4zM366 98h4v4h-4zM374 106h4v4h-4zM714 126h4v4h-4zM402 134h4v4h-4zM730 146h4v4h-4zM398 162h4v4h-4zM390 166h4v4h-4zM382 170h4v4h-4zM378 174h4v4h-4zM434 186h4v4h-4zM462 186h4v4h-4zM426 190h4v4h-4zM418 194h4v4h-4zM466 194h4v4h-4zM306 206h4v4h-4zM366 214h4v4h-4zM430 214h4v4h-4zM370 218h4v4h-4zM426 218h4v4h-4zM262 226h4v4h-4zM374 226h4v4h-4zM418 230h4v4h-4zM410 246h4v4h-4zM382 250h4v4h-4zM386 258h4v4h-4zM390 262h4v4h-4z"/>
<path fill="#ff1f17" d="M702 26h4v4h-4zM394 34h4v4h-4zM710 38h4v4h-4zM382 42h4v4h-4zM330 70h4v4h-4zM338 78h4v4h-4zM386 118h4v4h-4zM410 142h4v4h-4zM734 150h4v4h-4zM438 182h4v4h-4zM466 186h4v4h-4zM410 194h4v4h-4zM374 230h4v4h-4zM378 242h4v4h-4zM382 254h4v4h-4zM394 266h4v4h-4zM402 266h4v4h-4z"/>
<path fill="#ff0e0b" d="M746 26h4v4h-4zM362 50h4v4h-4zM378 58h4v4h-4zM378 94h4v4h-4zM330 210h4v4h-4zM422 238h4v4h-4z"/>
<path fill="#fff592" d="M86 30h4v4h-4zM14 34h4v4h-4zM18 34h4v4h-4zM22 34h4v4h-4zM26 34h4v4h-4zM30 38h4v4h-4zM34 42h4v4h-4zM38 46h4v4h-4zM38 50h4v4h-4zM42 54h4v4h-4zM86 54h4v4h-4zM46 58h4v4h-4zM50 62h4v4h-4zM54 66h4v4h-4zM58 66h4v4h-4zM70 66h4v4h-4zM74 66h4v4h-4z"/>
<path fill="#fff28f" d="M90 30h4v4h-4zM14 46h4v4h-4zM18 46h4v4h-4zM22 50h4v4h-4zM26 50h4v4h-4zM26 54h4v4h-4zM30 54h4v4h-4zM90 54h4v4h-4zM30 58h4v4h-4zM34 62h4v4h-4zM38 66h4v4h-4zM82 66h4v4h-4zM46 70h4v4h-4zM54 74h4v4h-4zM58 74h4v4h-4zM62 74h4v4h-4zM66 74h4v4h-4z"/>
<path fill="#ffee8c" d="M94 30h4v4h-4zM90 62h4v4h-4zM18 66h4v4h-4zM26 70h4v4h-4z"/>
<path fill="#ffeb88" d="M98 30h4v4h-4zM98 34h4v4h-4zM94 62h4v4h-4zM86 74h4v4h-4zM14 78h4v4h-4zM82 78h4v4h-4zM22 82h4v4h-4zM26 82h4v4h-4zM34 86h4v4h-4zM38 86h4v4h-4zM70 86h4v4h-4z"/>
<path fill="#ffe684" d="M102 30h4v4h-4zM102 34h4v4h-4zM102 46h4v4h-4zM90 78h4v4h-4zM82 86h4v4h-4zM78 90h4v4h-4zM18 94h4v4h-4zM22 94h4v4h-4zM70 94h4v4h-4z"/>
<path fill="#ffe27f" d="M106 30h4v4h-4zM106 34h4v4h-4zM106 38h4v4h-4z"/>
<path fill="#ffdd7a" d="M110 30h4v4h-4zM110 34h4v4h-4z"/>
<path fill="#ffb664" d="M134 30h4v4h-4zM134 34h4v4h-4zM130 62h4v4h-4zM130 66h4v4h-4zM130 70h4v4h-4zM130 74h4v4h-4zM134 90h4v4h-4zM262 110h4v4h-4zM298 170h4v4h-4zM290 178h4v4h-4z"/>
<path fill="#ffaf61" d="M138 30h4v4h-4zM134 62h4v4h-4zM134 66h4v4h-4z"/>
<path fill="#ffa85d" d="M142 30h4v4h-4zM142 78h4v4h-4zM150 90h4v4h-4zM222 94h4v4h-4zM286 126h4v4h-4zM302 158h4v4h-4zM298 178h4v4h-4zM270 186h4v4h-4z"/>
<path fill="#ffa15a" d="M146 30h4v4h-4zM218 90h4v4h-4zM250 90h4v4h-4zM294 182h4v4h-4z"/>
<path fill="#ff9b56" d="M150 30h4v4h-4zM174 86h4v4h-4zM218 86h4v4h-4zM302 146h4v4h-4zM306 170h4v4h-4zM286 186h4v4h-4z"/>
<path fill="#ff9453" d="M154 30h4v4h-4zM154 34h4v4h-4zM154 38h4v4h-4zM154 50h4v4h-4zM154 54h4v4h-4zM158 66h4v4h-4zM186 82h4v4h-4zM190 82h4v4h-4zM210 82h4v4h-4zM214 82h4v4h-4zM270 94h4v4h-4zM274 98h4v4h-4zM294 126h4v4h-4zM274 190h4v4h-4z"/>
<path fill="#ff8e50" d="M158 30h4v4h-4zM158 34h4v4h-4zM158 38h4v4h-4zM158 42h4v4h-4zM158 46h4v4h-4zM166 66h4v4h-4zM170 70h4v4h-4zM178 74h4v4h-4zM194 78h4v4h-4zM198 78h4v4h-4zM214 78h4v4h-4zM218 78h4v4h-4zM222 78h4v4h-4zM266 86h4v4h-4zM270 90h4v4h-4zM274 94h4v4h-4zM294 122h4v4h-4z"/>
<path fill="#ff7744" d="M178 30h4v4h-4zM186 50h4v4h-4zM190 54h4v4h-4zM210 62h4v4h-4zM246 62h4v4h-4zM250 62h4v4h-4zM310 138h4v4h-4zM310 182h4v4h-4z"/>
<path fill="#ff6b3e" d="M190 30h4v4h-4zM318 150h4v4h-4zM318 174h4v4h-4z"/>
<path fill="#ff673d" d="M194 30h4v4h-4zM230 54h4v4h-4zM282 74h4v4h-4zM318 146h4v4h-4z"/>
<path fill="#ff643b" d="M198 30h4v4h-4zM202 38h4v4h-4zM206 42h4v4h-4zM210 46h4v4h-4zM262 54h4v4h-4zM306 110h4v4h-4zM322 162h4v4h-4z"/>
<path fill="#ff6139" d="M202 30h4v4h-4zM298 90h4v4h-4zM322 170h4v4h-4z"/>
<path fill="#ff5e38" d="M206 30h4v4h-4zM210 38h4v4h-4zM222 46h4v4h-4zM262 50h4v4h-4zM274 58h4v4h-4zM278 62h4v4h-4zM294 82h4v4h-4zM302 94h4v4h-4zM306 102h4v4h-4zM314 126h4v4h-4zM322 174h4v4h-4zM318 182h4v4h-4zM274 202h4v4h-4zM262 206h4v4h-4z"/>
<path fill="#ff5b36" d="M210 30h4v4h-4zM222 42h4v4h-4zM266 50h4v4h-4zM306 98h4v4h-4zM314 122h4v4h-4zM318 134h4v4h-4z"/>
<path fill="#ff5835" d="M214 30h4v4h-4zM262 46h4v4h-4zM270 50h4v4h-4zM282 62h4v4h-4zM286 66h4v4h-4zM298 82h4v4h-4zM754 110h4v4h-4zM758 110h4v4h-4zM754 114h4v4h-4zM758 114h4v4h-4zM314 118h4v4h-4zM326 158h4v4h-4zM326 162h4v4h-4zM278 202h4v4h-4z"/>
<path fill="#ff5634" d="M218 30h4v4h-4zM226 38h4v4h-4zM266 46h4v4h-4zM290 70h4v4h-4zM302 86h4v4h-4zM754 102h4v4h-4zM758 102h4v4h-4zM750 106h4v4h-4zM314 114h4v4h-4zM750 118h4v4h-4zM762 118h4v4h-4z"/>
<path fill="#ff5333" d="M222 30h4v4h-4zM226 34h4v4h-4zM238 38h4v4h-4zM242 38h4v4h-4zM246 38h4v4h-4zM298 78h4v4h-4zM306 90h4v4h-4zM746 122h4v4h-4zM270 206h4v4h-4z"/>
<path fill="#ff4f31" d="M234 30h4v4h-4zM250 34h4v4h-4zM274 46h4v4h-4zM282 54h4v4h-4zM306 86h4v4h-4zM754 90h4v4h-4zM746 94h4v4h-4zM314 102h4v4h-4zM318 118h4v4h-4zM754 130h4v4h-4zM758 130h4v4h-4zM326 142h4v4h-4z"/>
<path fill="#ff4d30" d="M246 30h4v4h-4zM290 62h4v4h-4zM302 78h4v4h-4zM310 90h4v4h-4zM314 98h4v4h-4zM738 106h4v4h-4zM738 122h4v4h-4zM746 130h4v4h-4zM330 154h4v4h-4zM330 162h4v4h-4zM274 206h4v4h-4z"/>
<path fill="#ff3624" d="M294 30h4v4h-4zM294 34h4v4h-4zM726 78h4v4h-4zM322 82h4v4h-4zM330 94h4v4h-4zM334 102h4v4h-4zM362 114h4v4h-4zM334 122h4v4h-4zM334 126h4v4h-4zM346 126h4v4h-4zM338 130h4v4h-4zM366 154h4v4h-4zM350 158h4v4h-4zM346 162h4v4h-4zM330 190h4v4h-4zM302 202h4v4h-4zM410 214h4v4h-4zM394 226h4v4h-4zM402 230h4v4h-4z"/>
<path fill="#ff291c" d="M318 30h4v4h-4zM342 30h4v4h-4zM390 30h4v4h-4zM694 34h4v4h-4zM310 38h4v4h-4zM702 54h4v4h-4zM718 62h4v4h-4zM326 74h4v4h-4zM358 98h4v4h-4zM402 150h4v4h-4zM398 154h4v4h-4zM370 174h4v4h-4zM370 186h4v4h-4zM446 190h4v4h-4zM450 190h4v4h-4zM458 194h4v4h-4zM374 198h4v4h-4zM458 198h4v4h-4zM354 202h4v4h-4zM378 202h4v4h-4zM398 202h4v4h-4zM430 202h4v4h-4zM434 202h4v4h-4zM374 210h4v4h-4zM426 210h4v4h-4zM422 218h4v4h-4zM406 246h4v4h-4z"/>
<path fill="#ff281c" d="M322 30h4v4h-4zM314 34h4v4h-4zM690 34h4v4h-4zM698 34h4v4h-4zM702 38h4v4h-4zM310 42h4v4h-4zM686 42h4v4h-4zM310 46h4v4h-4zM706 46h4v4h-4zM706 50h4v4h-4zM698 54h4v4h-4zM706 54h4v4h-4zM746 54h4v4h-4zM726 58h4v4h-4zM730 58h4v4h-4zM330 78h4v4h-4zM334 82h4v4h-4zM338 86h4v4h-4zM350 94h4v4h-4zM402 142h4v4h-4zM734 146h4v4h-4zM750 154h4v4h-4zM394 158h4v4h-4zM378 166h4v4h-4zM374 170h4v4h-4zM370 178h4v4h-4zM370 182h4v4h-4zM442 190h4v4h-4zM454 190h4v4h-4zM374 194h4v4h-4zM434 194h4v4h-4zM430 198h4v4h-4zM382 202h4v4h-4zM386 202h4v4h-4zM390 202h4v4h-4zM394 202h4v4h-4zM298 206h4v4h-4zM366 206h4v4h-4zM430 206h4v4h-4zM286 210h4v4h-4zM278 214h4v4h-4zM374 214h4v4h-4zM378 222h4v4h-4zM418 226h4v4h-4zM410 238h4v4h-4zM402 258h4v4h-4z"/>
<path fill="#ff271b" d="M326 30h4v4h-4zM330 30h4v4h-4zM334 30h4v4h-4zM354 34h4v4h-4zM686 38h4v4h-4zM686 46h4v4h-4zM758 50h4v4h-4zM314 54h4v4h-4zM694 54h4v4h-4zM710 54h4v4h-4zM742 54h4v4h-4zM714 58h4v4h-4zM718 58h4v4h-4zM722 58h4v4h-4zM318 62h4v4h-4zM714 62h4v4h-4zM714 66h4v4h-4zM714 70h4v4h-4zM374 110h4v4h-4zM718 130h4v4h-4zM438 190h4v4h-4zM458 190h4v4h-4zM378 198h4v4h-4zM422 198h4v4h-4zM434 206h4v4h-4zM370 210h4v4h-4zM378 226h4v4h-4zM406 250h4v4h-4zM390 258h4v4h-4zM398 262h4v4h-4z"/>
<path fill="#ff271c" d="M338 30h4v4h-4zM386 34h4v4h-4zM366 102h4v4h-4zM370 106h4v4h-4zM386 162h4v4h-4zM330 198h4v4h-4zM342 198h4v4h-4zM426 198h4v4h-4zM362 206h4v4h-4zM382 238h4v4h-4zM386 250h4v4h-4z"/>
<path fill="#ff2f20" d="M354 30h4v4h-4zM302 38h4v4h-4zM754 58h4v4h-4zM738 62h4v4h-4zM726 66h4v4h-4zM338 94h4v4h-4zM354 102h4v4h-4zM374 118h4v4h-4zM722 130h4v4h-4zM390 138h4v4h-4zM390 150h4v4h-4zM750 150h4v4h-4zM378 158h4v4h-4zM370 162h4v4h-4zM358 174h4v4h-4zM358 178h4v4h-4zM362 186h4v4h-4zM342 190h4v4h-4zM330 194h4v4h-4zM350 194h4v4h-4zM406 206h4v4h-4zM410 206h4v4h-4zM282 210h4v4h-4zM390 210h4v4h-4zM418 210h4v4h-4zM386 214h4v4h-4zM418 218h4v4h-4zM414 226h4v4h-4zM386 230h4v4h-4zM390 242h4v4h-4zM402 242h4v4h-4zM394 246h4v4h-4zM398 246h4v4h-4z"/>
<path fill="#ff241a" d="M394 30h4v4h-4zM322 34h4v4h-4zM350 34h4v4h-4zM710 46h4v4h-4zM750 50h4v4h-4zM718 54h4v4h-4zM318 58h4v4h-4zM710 66h4v4h-4zM326 70h4v4h-4zM338 82h4v4h-4zM714 82h4v4h-4zM714 114h4v4h-4zM406 142h4v4h-4zM758 158h4v4h-4zM374 178h4v4h-4zM442 186h4v4h-4zM454 186h4v4h-4zM462 190h4v4h-4zM386 198h4v4h-4zM406 198h4v4h-4zM410 242h4v4h-4z"/>
<path fill="#fd0303" d="M434 30h4v4h-4zM438 30h4v4h-4zM442 30h4v4h-4zM446 30h4v4h-4zM450 30h4v4h-4zM454 30h4v4h-4zM458 30h4v4h-4zM462 30h4v4h-4zM466 30h4v4h-4zM470 30h4v4h-4zM638 30h4v4h-4zM654 30h4v4h-4zM490 34h4v4h-4zM494 34h4v4h-4zM498 34h4v4h-4zM502 34h4v4h-4zM630 34h4v4h-4zM662 34h4v4h-4zM518 38h4v4h-4zM626 38h4v4h-4zM534 42h4v4h-4zM558 42h4v4h-4zM562 42h4v4h-4zM566 42h4v4h-4zM570 42h4v4h-4zM574 42h4v4h-4zM618 42h4v4h-4zM622 42h4v4h-4zM586 46h4v4h-4zM590 46h4v4h-4zM614 46h4v4h-4zM618 46h4v4h-4zM594 50h4v4h-4zM598 50h4v4h-4zM614 50h4v4h-4zM402 54h4v4h-4zM598 54h4v4h-4zM602 54h4v4h-4zM610 54h4v4h-4zM614 54h4v4h-4zM598 58h4v4h-4zM602 58h4v4h-4zM614 58h4v4h-4zM674 58h4v4h-4zM598 62h4v4h-4zM602 62h4v4h-4zM618 62h4v4h-4zM598 66h4v4h-4zM622 66h4v4h-4zM390 70h4v4h-4zM598 70h4v4h-4zM386 74h4v4h-4zM630 78h4v4h-4zM634 86h4v4h-4zM386 90h4v4h-4zM698 90h4v4h-4zM390 98h4v4h-4zM598 98h4v4h-4zM602 106h4v4h-4zM634 106h4v4h-4zM402 110h4v4h-4zM606 110h4v4h-4zM410 114h4v4h-4zM614 114h4v4h-4zM626 114h4v4h-4zM418 118h4v4h-4zM698 118h4v4h-4zM430 130h4v4h-4zM434 134h4v4h-4zM702 134h4v4h-4zM438 142h4v4h-4zM442 150h4v4h-4zM462 158h4v4h-4zM466 158h4v4h-4zM470 158h4v4h-4zM474 158h4v4h-4zM478 158h4v4h-4zM482 158h4v4h-4zM486 158h4v4h-4zM490 158h4v4h-4zM502 162h4v4h-4zM506 162h4v4h-4zM734 166h4v4h-4zM518 174h4v4h-4zM746 174h4v4h-4zM754 178h4v4h-4zM518 190h4v4h-4zM514 198h4v4h-4zM498 206h4v4h-4zM618 206h4v4h-4zM466 214h4v4h-4zM582 214h4v4h-4zM334 218h4v4h-4zM342 222h4v4h-4zM578 222h4v4h-4zM438 226h4v4h-4zM638 226h4v4h-4zM278 230h4v4h-4zM434 230h4v4h-4zM642 238h4v4h-4zM426 242h4v4h-4zM578 242h4v4h-4zM362 246h4v4h-4zM622 246h4v4h-4zM626 246h4v4h-4zM630 246h4v4h-4zM634 246h4v4h-4zM638 246h4v4h-4zM366 258h4v4h-4zM370 266h4v4h-4zM418 270h4v4h-4zM378 274h4v4h-4zM414 274h4v4h-4zM406 278h4v4h-4zM706 334h4v4h-4zM690 354h4v4h-4z"/>
<path fill="#fd0404" d="M474 30h4v4h-4zM478 30h4v4h-4zM482 30h4v4h-4zM658 30h4v4h-4zM422 34h4v4h-4zM506 34h4v4h-4zM522 38h4v4h-4zM622 38h4v4h-4zM538 42h4v4h-4zM542 42h4v4h-4zM550 42h4v4h-4zM554 42h4v4h-4zM578 42h4v4h-4zM582 42h4v4h-4zM594 46h4v4h-4zM610 46h4v4h-4zM602 50h4v4h-4zM606 50h4v4h-4zM610 50h4v4h-4zM606 54h4v4h-4zM606 58h4v4h-4zM610 58h4v4h-4zM606 62h4v4h-4zM610 62h4v4h-4zM614 62h4v4h-4zM602 66h4v4h-4zM618 66h4v4h-4zM622 70h4v4h-4zM598 74h4v4h-4zM626 74h4v4h-4zM598 78h4v4h-4zM698 86h4v4h-4zM598 90h4v4h-4zM634 90h4v4h-4zM598 94h4v4h-4zM634 94h4v4h-4zM602 102h4v4h-4zM634 102h4v4h-4zM610 110h4v4h-4zM618 114h4v4h-4zM622 114h4v4h-4zM422 122h4v4h-4zM426 126h4v4h-4zM434 138h4v4h-4zM438 146h4v4h-4zM446 154h4v4h-4zM458 158h4v4h-4zM730 162h4v4h-4zM510 166h4v4h-4zM514 170h4v4h-4zM518 178h4v4h-4zM518 182h4v4h-4zM518 186h4v4h-4zM506 202h4v4h-4zM594 202h4v4h-4zM610 202h4v4h-4zM494 206h4v4h-4zM478 210h4v4h-4zM294 218h4v4h-4zM450 218h4v4h-4zM442 222h4v4h-4zM634 222h4v4h-4zM282 226h4v4h-4zM354 230h4v4h-4zM422 262h4v4h-4zM374 270h4v4h-4zM390 278h4v4h-4zM690 342h4v4h-4z"/>
<path fill="#ff0a0a" d="M590 30h4v4h-4zM358 50h4v4h-4zM370 78h4v4h-4zM490 170h4v4h-4zM390 274h4v4h-4z"/>
<path fill="#fd0202" d="M642 30h4v4h-4zM646 30h4v4h-4zM650 30h4v4h-4zM426 34h4v4h-4zM430 34h4v4h-4zM470 34h4v4h-4zM474 34h4v4h-4zM478 34h4v4h-4zM482 34h4v4h-4zM486 34h4v4h-4zM634 34h4v4h-4zM418 38h4v4h-4zM510 38h4v4h-4zM514 38h4v4h-4zM630 38h4v4h-4zM414 42h4v4h-4zM526 42h4v4h-4zM530 42h4v4h-4zM666 42h4v4h-4zM410 46h4v4h-4zM578 46h4v4h-4zM582 46h4v4h-4zM622 46h4v4h-4zM406 50h4v4h-4zM586 50h4v4h-4zM590 50h4v4h-4zM618 50h4v4h-4zM670 50h4v4h-4zM590 54h4v4h-4zM594 54h4v4h-4zM618 54h4v4h-4zM402 58h4v4h-4zM594 58h4v4h-4zM618 58h4v4h-4zM398 62h4v4h-4zM594 62h4v4h-4zM622 62h4v4h-4zM394 66h4v4h-4zM594 66h4v4h-4zM594 70h4v4h-4zM626 70h4v4h-4zM594 74h4v4h-4zM630 74h4v4h-4zM386 78h4v4h-4zM594 78h4v4h-4zM386 82h4v4h-4zM594 82h4v4h-4zM634 82h4v4h-4zM694 82h4v4h-4zM386 86h4v4h-4zM594 86h4v4h-4zM594 90h4v4h-4zM594 94h4v4h-4zM698 94h4v4h-4zM394 102h4v4h-4zM598 102h4v4h-4zM698 102h4v4h-4zM398 106h4v4h-4zM698 106h4v4h-4zM634 110h4v4h-4zM698 110h4v4h-4zM414 114h4v4h-4zM610 114h4v4h-4zM630 114h4v4h-4zM698 114h4v4h-4zM422 118h4v4h-4zM618 118h4v4h-4zM622 118h4v4h-4zM426 122h4v4h-4zM698 122h4v4h-4zM430 126h4v4h-4zM698 126h4v4h-4zM434 130h4v4h-4zM438 138h4v4h-4zM706 142h4v4h-4zM442 146h4v4h-4zM710 146h4v4h-4zM446 150h4v4h-4zM714 150h4v4h-4zM450 154h4v4h-4zM454 154h4v4h-4zM718 154h4v4h-4zM494 158h4v4h-4zM498 158h4v4h-4zM502 158h4v4h-4zM510 162h4v4h-4zM514 166h4v4h-4zM518 170h4v4h-4zM738 170h4v4h-4zM750 178h4v4h-4zM762 182h4v4h-4zM518 194h4v4h-4zM598 198h4v4h-4zM602 198h4v4h-4zM606 198h4v4h-4zM510 202h4v4h-4zM590 202h4v4h-4zM614 202h4v4h-4zM502 206h4v4h-4zM586 206h4v4h-4zM622 206h4v4h-4zM482 210h4v4h-4zM486 210h4v4h-4zM582 210h4v4h-4zM626 210h4v4h-4zM630 214h4v4h-4zM298 218h4v4h-4zM330 218h4v4h-4zM634 218h4v4h-4zM638 222h4v4h-4zM346 226h4v4h-4zM642 230h4v4h-4zM274 234h4v4h-4zM574 234h4v4h-4zM642 234h4v4h-4zM270 238h4v4h-4zM358 238h4v4h-4zM574 238h4v4h-4zM266 242h4v4h-4zM642 242h4v4h-4zM426 246h4v4h-4zM586 246h4v4h-4zM590 246h4v4h-4zM594 246h4v4h-4zM598 246h4v4h-4zM602 246h4v4h-4zM606 246h4v4h-4zM610 246h4v4h-4zM614 246h4v4h-4zM618 246h4v4h-4zM362 250h4v4h-4zM366 262h4v4h-4zM422 266h4v4h-4zM386 278h4v4h-4zM694 334h4v4h-4zM710 342h4v4h-4zM710 346h4v4h-4zM706 354h4v4h-4zM694 358h4v4h-4zM698 358h4v4h-4z"/>
<path fill="#ff261b" d="M694 30h4v4h-4zM318 34h4v4h-4zM314 38h4v4h-4zM370 38h4v4h-4zM374 38h4v4h-4zM378 38h4v4h-4zM706 42h4v4h-4zM710 50h4v4h-4zM754 50h4v4h-4zM706 58h4v4h-4zM710 58h4v4h-4zM710 62h4v4h-4zM714 74h4v4h-4zM346 90h4v4h-4zM354 94h4v4h-4zM362 98h4v4h-4zM406 146h4v4h-4zM402 154h4v4h-4zM374 190h4v4h-4zM430 194h4v4h-4zM334 198h4v4h-4zM338 198h4v4h-4zM418 198h4v4h-4zM318 202h4v4h-4zM350 202h4v4h-4zM458 202h4v4h-4zM358 206h4v4h-4zM438 206h4v4h-4zM442 206h4v4h-4zM446 206h4v4h-4zM450 206h4v4h-4zM426 214h4v4h-4zM374 218h4v4h-4zM266 222h4v4h-4zM382 242h4v4h-4z"/>
<path fill="#fff694" d="M34 34h4v4h-4zM74 62h4v4h-4z"/>
<path fill="#fff593" d="M86 34h4v4h-4zM78 62h4v4h-4z"/>
<path fill="#ffef8c" d="M94 34h4v4h-4zM94 50h4v4h-4zM14 62h4v4h-4zM18 62h4v4h-4zM22 66h4v4h-4zM30 70h4v4h-4zM34 74h4v4h-4zM78 74h4v4h-4zM42 78h4v4h-4zM46 78h4v4h-4zM70 78h4v4h-4z"/>
<path fill="#ffd073" d="M118 34h4v4h-4zM286 158h4v4h-4z"/>
<path fill="#ffc36b" d="M126 34h4v4h-4zM122 62h4v4h-4zM122 66h4v4h-4zM270 126h4v4h-4zM282 138h4v4h-4z"/>
<path fill="#ffbc67" d="M130 34h4v4h-4zM130 38h4v4h-4zM126 66h4v4h-4zM126 70h4v4h-4zM126 74h4v4h-4zM126 78h4v4h-4z"/>
<path fill="#ffae60" d="M138 34h4v4h-4zM138 38h4v4h-4zM138 82h4v4h-4zM142 90h4v4h-4z"/>
<path fill="#ffa75d" d="M142 34h4v4h-4zM218 94h4v4h-4zM250 94h4v4h-4zM294 138h4v4h-4zM298 146h4v4h-4zM290 182h4v4h-4z"/>
<path fill="#ffa159" d="M146 34h4v4h-4zM146 70h4v4h-4zM150 78h4v4h-4zM158 86h4v4h-4zM166 90h4v4h-4zM294 134h4v4h-4z"/>
<path fill="#ff9a56" d="M150 34h4v4h-4zM150 38h4v4h-4zM150 62h4v4h-4zM166 82h4v4h-4zM178 86h4v4h-4zM210 86h4v4h-4zM214 86h4v4h-4zM270 98h4v4h-4zM274 102h4v4h-4zM294 130h4v4h-4zM306 158h4v4h-4zM298 182h4v4h-4zM266 190h4v4h-4z"/>
<path fill="#ff894d" d="M162 34h4v4h-4zM170 62h4v4h-4zM182 70h4v4h-4zM198 74h4v4h-4zM226 74h4v4h-4zM270 86h4v4h-4zM274 90h4v4h-4zM294 118h4v4h-4zM266 194h4v4h-4z"/>
<path fill="#ff7745" d="M178 34h4v4h-4zM182 46h4v4h-4zM282 86h4v4h-4z"/>
<path fill="#ff7343" d="M182 34h4v4h-4zM206 58h4v4h-4zM258 62h4v4h-4zM274 74h4v4h-4zM286 194h4v4h-4z"/>
<path fill="#ff6f41" d="M186 34h4v4h-4zM218 58h4v4h-4zM242 58h4v4h-4zM250 58h4v4h-4zM306 122h4v4h-4zM314 142h4v4h-4zM274 198h4v4h-4z"/>
<path fill="#ff6c3f" d="M190 34h4v4h-4zM194 42h4v4h-4zM198 46h4v4h-4zM202 50h4v4h-4zM258 58h4v4h-4zM266 62h4v4h-4zM282 78h4v4h-4zM294 94h4v4h-4z"/>
<path fill="#ff683d" d="M194 34h4v4h-4zM210 50h4v4h-4zM226 54h4v4h-4zM234 54h4v4h-4zM238 54h4v4h-4zM242 54h4v4h-4zM250 54h4v4h-4zM254 54h4v4h-4zM270 62h4v4h-4zM274 66h4v4h-4zM278 70h4v4h-4zM294 90h4v4h-4zM306 114h4v4h-4zM294 194h4v4h-4zM266 202h4v4h-4z"/>
<path fill="#ff653c" d="M198 34h4v4h-4zM298 94h4v4h-4zM318 178h4v4h-4z"/>
<path fill="#ff623a" d="M202 34h4v4h-4zM214 46h4v4h-4zM226 50h4v4h-4zM238 50h4v4h-4zM242 50h4v4h-4zM246 50h4v4h-4zM250 50h4v4h-4zM270 58h4v4h-4zM282 70h4v4h-4zM302 98h4v4h-4zM310 118h4v4h-4zM314 130h4v4h-4zM322 154h4v4h-4zM298 194h4v4h-4z"/>
<path fill="#ff5534" d="M222 34h4v4h-4zM258 42h4v4h-4zM746 114h4v4h-4zM754 122h4v4h-4zM758 122h4v4h-4zM326 150h4v4h-4z"/>
<path fill="#ff5131" d="M234 34h4v4h-4zM310 94h4v4h-4zM750 94h4v4h-4zM322 134h4v4h-4z"/>
<path fill="#ff432a" d="M278 34h4v4h-4zM286 46h4v4h-4zM306 74h4v4h-4zM746 78h4v4h-4zM738 82h4v4h-4zM322 102h4v4h-4zM730 106h4v4h-4zM334 166h4v4h-4zM326 186h4v4h-4zM306 198h4v4h-4zM262 214h4v4h-4z"/>
<path fill="#ff2b1e" d="M362 34h4v4h-4zM702 46h4v4h-4zM758 54h4v4h-4zM726 62h4v4h-4zM718 74h4v4h-4zM718 78h4v4h-4zM718 82h4v4h-4zM718 86h4v4h-4zM718 90h4v4h-4zM718 94h4v4h-4zM354 98h4v4h-4zM718 98h4v4h-4zM362 102h4v4h-4zM374 114h4v4h-4zM726 138h4v4h-4zM398 142h4v4h-4zM398 150h4v4h-4zM394 154h4v4h-4zM386 158h4v4h-4zM378 162h4v4h-4zM366 174h4v4h-4zM366 178h4v4h-4zM446 194h4v4h-4zM450 194h4v4h-4zM350 198h4v4h-4zM442 198h4v4h-4zM454 198h4v4h-4zM362 202h4v4h-4zM366 202h4v4h-4zM450 202h4v4h-4zM386 206h4v4h-4zM422 206h4v4h-4zM422 214h4v4h-4zM386 242h4v4h-4zM406 242h4v4h-4z"/>
<path fill="#ff2419" d="M390 34h4v4h-4zM706 38h4v4h-4zM714 50h4v4h-4zM722 54h4v4h-4zM726 54h4v4h-4zM730 54h4v4h-4zM698 58h4v4h-4zM706 62h4v4h-4zM330 74h4v4h-4zM334 78h4v4h-4zM350 90h4v4h-4zM358 94h4v4h-4zM714 110h4v4h-4zM714 118h4v4h-4zM722 138h4v4h-4zM726 142h4v4h-4zM394 162h4v4h-4zM374 182h4v4h-4zM390 198h4v4h-4zM394 198h4v4h-4zM398 198h4v4h-4zM402 198h4v4h-4zM346 202h4v4h-4zM374 222h4v4h-4zM382 246h4v4h-4z"/>
<path fill="#fc0101" d="M434 34h4v4h-4zM438 34h4v4h-4zM442 34h4v4h-4zM446 34h4v4h-4zM450 34h4v4h-4zM454 34h4v4h-4zM458 34h4v4h-4zM462 34h4v4h-4zM638 34h4v4h-4zM658 34h4v4h-4zM422 38h4v4h-4zM478 38h4v4h-4zM482 38h4v4h-4zM486 38h4v4h-4zM490 38h4v4h-4zM494 38h4v4h-4zM498 38h4v4h-4zM502 38h4v4h-4zM662 38h4v4h-4zM522 42h4v4h-4zM570 46h4v4h-4zM574 46h4v4h-4zM582 50h4v4h-4zM622 50h4v4h-4zM406 54h4v4h-4zM586 54h4v4h-4zM622 54h4v4h-4zM670 54h4v4h-4zM590 58h4v4h-4zM622 58h4v4h-4zM590 62h4v4h-4zM626 66h4v4h-4zM678 66h4v4h-4zM394 70h4v4h-4zM682 70h4v4h-4zM390 74h4v4h-4zM686 74h4v4h-4zM634 78h4v4h-4zM690 78h4v4h-4zM638 90h4v4h-4zM390 94h4v4h-4zM594 98h4v4h-4zM638 102h4v4h-4zM598 106h4v4h-4zM638 106h4v4h-4zM406 110h4v4h-4zM602 110h4v4h-4zM418 114h4v4h-4zM606 114h4v4h-4zM426 118h4v4h-4zM614 118h4v4h-4zM626 118h4v4h-4zM430 122h4v4h-4zM434 126h4v4h-4zM698 130h4v4h-4zM438 134h4v4h-4zM702 138h4v4h-4zM442 142h4v4h-4zM458 154h4v4h-4zM462 154h4v4h-4zM466 154h4v4h-4zM470 154h4v4h-4zM474 154h4v4h-4zM478 154h4v4h-4zM482 154h4v4h-4zM486 154h4v4h-4zM490 154h4v4h-4zM506 158h4v4h-4zM722 158h4v4h-4zM514 162h4v4h-4zM518 166h4v4h-4zM522 174h4v4h-4zM742 174h4v4h-4zM522 178h4v4h-4zM758 182h4v4h-4zM522 186h4v4h-4zM522 190h4v4h-4zM518 198h4v4h-4zM594 198h4v4h-4zM610 198h4v4h-4zM514 202h4v4h-4zM618 202h4v4h-4zM506 206h4v4h-4zM490 210h4v4h-4zM470 214h4v4h-4zM302 218h4v4h-4zM322 218h4v4h-4zM326 218h4v4h-4zM338 222h4v4h-4zM350 230h4v4h-4zM354 234h4v4h-4zM578 246h4v4h-4zM582 246h4v4h-4zM426 250h4v4h-4zM362 254h4v4h-4zM426 254h4v4h-4zM370 270h4v4h-4zM374 274h4v4h-4zM382 278h4v4h-4zM410 278h4v4h-4zM698 330h4v4h-4zM702 330h4v4h-4zM702 358h4v4h-4z"/>
<path fill="#fd0101" d="M466 34h4v4h-4zM506 38h4v4h-4zM626 42h4v4h-4zM638 94h4v4h-4zM638 98h4v4h-4zM698 98h4v4h-4zM522 182h4v4h-4zM454 218h4v4h-4zM578 218h4v4h-4zM290 222h4v4h-4zM574 230h4v4h-4zM430 238h4v4h-4zM574 242h4v4h-4zM262 246h4v4h-4zM642 246h4v4h-4zM690 338h4v4h-4zM710 338h4v4h-4z"/>
<path fill="#fc0000" d="M642 34h4v4h-4zM654 34h4v4h-4zM466 38h4v4h-4zM470 38h4v4h-4zM474 38h4v4h-4zM634 38h4v4h-4zM514 42h4v4h-4zM518 42h4v4h-4zM630 42h4v4h-4zM534 46h4v4h-4zM538 46h4v4h-4zM542 46h4v4h-4zM546 46h4v4h-4zM550 46h4v4h-4zM554 46h4v4h-4zM558 46h4v4h-4zM562 46h4v4h-4zM566 46h4v4h-4zM626 46h4v4h-4zM666 46h4v4h-4zM578 50h4v4h-4zM626 50h4v4h-4zM586 58h4v4h-4zM626 58h4v4h-4zM402 62h4v4h-4zM626 62h4v4h-4zM674 62h4v4h-4zM398 66h4v4h-4zM590 66h4v4h-4zM590 70h4v4h-4zM630 70h4v4h-4zM590 74h4v4h-4zM390 78h4v4h-4zM590 78h4v4h-4zM590 82h4v4h-4zM590 86h4v4h-4zM638 86h4v4h-4zM390 90h4v4h-4zM590 90h4v4h-4zM594 102h4v4h-4zM402 106h4v4h-4zM410 110h4v4h-4zM422 114h4v4h-4zM634 114h4v4h-4zM430 118h4v4h-4zM610 118h4v4h-4zM630 118h4v4h-4zM434 122h4v4h-4zM438 130h4v4h-4zM442 138h4v4h-4zM446 146h4v4h-4zM450 150h4v4h-4zM494 154h4v4h-4zM498 154h4v4h-4zM502 154h4v4h-4zM510 158h4v4h-4zM726 162h4v4h-4zM730 166h4v4h-4zM522 170h4v4h-4zM746 178h4v4h-4zM754 182h4v4h-4zM590 198h4v4h-4zM586 202h4v4h-4zM510 206h4v4h-4zM582 206h4v4h-4zM494 210h4v4h-4zM630 210h4v4h-4zM474 214h4v4h-4zM578 214h4v4h-4zM634 214h4v4h-4zM306 218h4v4h-4zM310 218h4v4h-4zM314 218h4v4h-4zM318 218h4v4h-4zM638 218h4v4h-4zM446 222h4v4h-4zM286 226h4v4h-4zM574 226h4v4h-4zM642 226h4v4h-4zM434 234h4v4h-4zM570 238h4v4h-4zM358 242h4v4h-4zM570 242h4v4h-4zM570 246h4v4h-4zM574 246h4v4h-4zM630 250h4v4h-4zM634 250h4v4h-4zM638 250h4v4h-4zM426 258h4v4h-4zM366 266h4v4h-4zM422 270h4v4h-4zM418 274h4v4h-4zM706 330h4v4h-4zM710 350h4v4h-4z"/>
<path fill="#fb0000" d="M646 34h4v4h-4zM650 34h4v4h-4zM426 38h4v4h-4zM454 38h4v4h-4zM458 38h4v4h-4zM462 38h4v4h-4zM638 38h4v4h-4zM418 42h4v4h-4zM478 42h4v4h-4zM482 42h4v4h-4zM486 42h4v4h-4zM490 42h4v4h-4zM494 42h4v4h-4zM498 42h4v4h-4zM502 42h4v4h-4zM506 42h4v4h-4zM510 42h4v4h-4zM530 46h4v4h-4zM410 50h4v4h-4zM574 50h4v4h-4zM582 54h4v4h-4zM626 54h4v4h-4zM586 62h4v4h-4zM630 66h4v4h-4zM634 74h4v4h-4zM390 82h4v4h-4zM638 82h4v4h-4zM390 86h4v4h-4zM694 86h4v4h-4zM590 94h4v4h-4zM394 98h4v4h-4zM598 110h4v4h-4zM638 110h4v4h-4zM602 114h4v4h-4zM618 122h4v4h-4zM622 122h4v4h-4zM438 126h4v4h-4zM454 150h4v4h-4zM470 150h4v4h-4zM474 150h4v4h-4zM478 150h4v4h-4zM482 150h4v4h-4zM506 154h4v4h-4zM514 158h4v4h-4zM518 162h4v4h-4zM734 170h4v4h-4zM526 182h4v4h-4zM522 194h4v4h-4zM598 194h4v4h-4zM602 194h4v4h-4zM614 198h4v4h-4zM626 206h4v4h-4zM498 210h4v4h-4zM334 222h4v4h-4zM342 226h4v4h-4zM282 230h4v4h-4zM570 234h4v4h-4zM646 234h4v4h-4zM646 238h4v4h-4zM646 242h4v4h-4zM566 246h4v4h-4zM562 250h4v4h-4zM566 250h4v4h-4zM626 250h4v4h-4zM642 250h4v4h-4zM558 254h4v4h-4zM562 254h4v4h-4zM362 258h4v4h-4zM554 258h4v4h-4zM558 258h4v4h-4zM426 262h4v4h-4zM554 262h4v4h-4zM558 262h4v4h-4zM554 266h4v4h-4zM558 266h4v4h-4zM710 334h4v4h-4zM686 346h4v4h-4zM686 350h4v4h-4zM690 358h4v4h-4z"/>
<path fill="#ff120f" d="M746 34h4v4h-4zM342 70h4v4h-4zM486 178h4v4h-4zM590 222h4v4h-4z"/>
<path fill="#ffef8d" d="M94 38h4v4h-4zM26 66h4v4h-4zM86 66h4v4h-4zM82 70h4v4h-4zM38 74h4v4h-4z"/>
<path fill="#ffeb89" d="M98 38h4v4h-4zM98 42h4v4h-4zM98 46h4v4h-4zM18 78h4v4h-4zM30 82h4v4h-4zM42 86h4v4h-4zM66 86h4v4h-4z"/>
<path fill="#ffe784" d="M102 38h4v4h-4zM102 42h4v4h-4zM98 62h4v4h-4zM94 70h4v4h-4zM86 82h4v4h-4zM26 94h4v4h-4z"/>
<path fill="#ffd676" d="M114 38h4v4h-4zM114 42h4v4h-4zM110 66h4v4h-4zM266 138h4v4h-4zM278 150h4v4h-4zM282 158h4v4h-4zM262 170h4v4h-4zM274 170h4v4h-4z"/>
<path fill="#ffd072" d="M118 38h4v4h-4zM110 86h4v4h-4zM262 130h4v4h-4zM286 166h4v4h-4z"/>
<path fill="#ffc96f" d="M122 38h4v4h-4zM118 66h4v4h-4zM274 134h4v4h-4zM278 138h4v4h-4zM290 166h4v4h-4z"/>
<path fill="#ffc26b" d="M126 38h4v4h-4zM122 70h4v4h-4zM122 74h4v4h-4zM122 90h4v4h-4zM122 94h4v4h-4zM266 122h4v4h-4zM290 150h4v4h-4zM278 178h4v4h-4z"/>
<path fill="#ffb563" d="M134 38h4v4h-4z"/>
<path fill="#ffa75c" d="M142 38h4v4h-4zM158 94h4v4h-4z"/>
<path fill="#ffa059" d="M146 38h4v4h-4zM154 82h4v4h-4zM170 90h4v4h-4zM210 90h4v4h-4zM214 90h4v4h-4zM270 102h4v4h-4zM274 106h4v4h-4zM302 150h4v4h-4z"/>
<path fill="#ff7c47" d="M174 38h4v4h-4zM182 54h4v4h-4zM186 58h4v4h-4zM194 62h4v4h-4zM210 66h4v4h-4zM214 66h4v4h-4zM230 66h4v4h-4zM234 66h4v4h-4zM254 66h4v4h-4zM262 70h4v4h-4zM282 90h4v4h-4zM310 142h4v4h-4zM294 190h4v4h-4z"/>
<path fill="#ff7845" d="M178 38h4v4h-4zM194 58h4v4h-4zM206 62h4v4h-4zM266 70h4v4h-4zM278 82h4v4h-4zM290 98h4v4h-4zM314 150h4v4h-4zM282 194h4v4h-4z"/>
<path fill="#ff7443" d="M182 38h4v4h-4zM186 46h4v4h-4zM190 50h4v4h-4zM290 94h4v4h-4zM306 126h4v4h-4zM314 146h4v4h-4zM270 198h4v4h-4z"/>
<path fill="#ff7141" d="M186 38h4v4h-4zM294 98h4v4h-4zM318 162h4v4h-4z"/>
<path fill="#ff6d40" d="M190 38h4v4h-4zM270 66h4v4h-4zM278 74h4v4h-4zM298 102h4v4h-4zM302 110h4v4h-4zM290 194h4v4h-4zM262 202h4v4h-4z"/>
<path fill="#ff613a" d="M206 38h4v4h-4zM210 42h4v4h-4zM230 50h4v4h-4zM234 50h4v4h-4zM254 50h4v4h-4zM286 74h4v4h-4zM306 106h4v4h-4z"/>
<path fill="#ff5332" d="M250 38h4v4h-4zM270 46h4v4h-4zM286 62h4v4h-4zM750 98h4v4h-4zM746 102h4v4h-4zM754 126h4v4h-4zM758 126h4v4h-4zM322 182h4v4h-4zM314 190h4v4h-4z"/>
<path fill="#ff5132" d="M258 38h4v4h-4zM266 42h4v4h-4zM746 98h4v4h-4zM742 106h4v4h-4zM318 122h4v4h-4zM742 122h4v4h-4zM746 126h4v4h-4z"/>
<path fill="#ff452c" d="M278 38h4v4h-4zM310 82h4v4h-4zM738 86h4v4h-4zM322 110h4v4h-4zM758 138h4v4h-4zM762 138h4v4h-4zM314 194h4v4h-4zM290 202h4v4h-4z"/>
<path fill="#ff3b26" d="M290 38h4v4h-4zM298 54h4v4h-4zM306 66h4v4h-4zM746 70h4v4h-4zM318 82h4v4h-4zM326 94h4v4h-4zM726 98h4v4h-4zM330 106h4v4h-4zM330 110h4v4h-4zM330 114h4v4h-4zM330 118h4v4h-4zM330 126h4v4h-4zM362 126h4v4h-4zM358 130h4v4h-4zM366 130h4v4h-4zM334 134h4v4h-4zM338 138h4v4h-4zM354 138h4v4h-4zM374 138h4v4h-4zM342 142h4v4h-4zM354 142h4v4h-4zM358 146h4v4h-4zM362 146h4v4h-4zM366 146h4v4h-4zM370 146h4v4h-4zM342 158h4v4h-4zM326 190h4v4h-4zM298 202h4v4h-4z"/>
<path fill="#fa0000" d="M430 38h4v4h-4zM434 38h4v4h-4zM446 38h4v4h-4zM450 38h4v4h-4zM466 42h4v4h-4zM470 42h4v4h-4zM474 42h4v4h-4zM634 42h4v4h-4zM414 46h4v4h-4zM526 46h4v4h-4zM630 46h4v4h-4zM578 54h4v4h-4zM406 58h4v4h-4zM582 58h4v4h-4zM670 58h4v4h-4zM586 66h4v4h-4zM586 70h4v4h-4zM394 74h4v4h-4zM586 74h4v4h-4zM586 78h4v4h-4zM586 82h4v4h-4zM590 98h4v4h-4zM642 98h4v4h-4zM398 102h4v4h-4zM594 106h4v4h-4zM414 110h4v4h-4zM426 114h4v4h-4zM434 118h4v4h-4zM606 118h4v4h-4zM438 122h4v4h-4zM614 122h4v4h-4zM626 122h4v4h-4zM442 130h4v4h-4zM442 134h4v4h-4zM698 134h4v4h-4zM446 142h4v4h-4zM450 146h4v4h-4zM458 150h4v4h-4zM462 150h4v4h-4zM466 150h4v4h-4zM486 150h4v4h-4zM490 150h4v4h-4zM510 154h4v4h-4zM522 166h4v4h-4zM526 174h4v4h-4zM738 174h4v4h-4zM526 178h4v4h-4zM750 182h4v4h-4zM526 186h4v4h-4zM762 186h4v4h-4zM594 194h4v4h-4zM606 194h4v4h-4zM518 202h4v4h-4zM514 206h4v4h-4zM502 210h4v4h-4zM478 214h4v4h-4zM458 218h4v4h-4zM294 222h4v4h-4zM574 222h4v4h-4zM642 222h4v4h-4zM278 234h4v4h-4zM274 238h4v4h-4zM354 238h4v4h-4zM270 242h4v4h-4zM430 242h4v4h-4zM566 242h4v4h-4zM266 246h4v4h-4zM358 246h4v4h-4zM562 246h4v4h-4zM646 246h4v4h-4zM558 250h4v4h-4zM570 250h4v4h-4zM574 250h4v4h-4zM622 250h4v4h-4zM554 254h4v4h-4zM566 254h4v4h-4zM550 258h4v4h-4zM562 258h4v4h-4zM550 262h4v4h-4zM562 262h4v4h-4zM554 270h4v4h-4zM558 270h4v4h-4zM554 274h4v4h-4zM558 274h4v4h-4zM378 278h4v4h-4zM694 330h4v4h-4z"/>
<path fill="#f90000" d="M438 38h4v4h-4zM442 38h4v4h-4zM658 38h4v4h-4zM422 42h4v4h-4zM458 42h4v4h-4zM462 42h4v4h-4zM662 42h4v4h-4zM474 46h4v4h-4zM478 46h4v4h-4zM482 46h4v4h-4zM486 46h4v4h-4zM490 46h4v4h-4zM494 46h4v4h-4zM522 46h4v4h-4zM570 50h4v4h-4zM630 50h4v4h-4zM630 58h4v4h-4zM630 62h4v4h-4zM402 66h4v4h-4zM398 70h4v4h-4zM634 70h4v4h-4zM678 70h4v4h-4zM682 74h4v4h-4zM638 78h4v4h-4zM470 86h4v4h-4zM474 86h4v4h-4zM586 86h4v4h-4zM462 90h4v4h-4zM466 90h4v4h-4zM470 90h4v4h-4zM474 90h4v4h-4zM478 90h4v4h-4zM586 90h4v4h-4zM642 90h4v4h-4zM458 94h4v4h-4zM462 94h4v4h-4zM466 94h4v4h-4zM470 94h4v4h-4zM474 94h4v4h-4zM478 94h4v4h-4zM482 94h4v4h-4zM486 94h4v4h-4zM642 94h4v4h-4zM462 98h4v4h-4zM466 98h4v4h-4zM470 98h4v4h-4zM474 98h4v4h-4zM478 98h4v4h-4zM482 98h4v4h-4zM486 98h4v4h-4zM490 98h4v4h-4zM466 102h4v4h-4zM470 102h4v4h-4zM474 102h4v4h-4zM478 102h4v4h-4zM482 102h4v4h-4zM486 102h4v4h-4zM490 102h4v4h-4zM494 102h4v4h-4zM590 102h4v4h-4zM642 102h4v4h-4zM406 106h4v4h-4zM474 106h4v4h-4zM478 106h4v4h-4zM482 106h4v4h-4zM486 106h4v4h-4zM490 106h4v4h-4zM494 106h4v4h-4zM498 106h4v4h-4zM502 106h4v4h-4zM418 110h4v4h-4zM478 110h4v4h-4zM482 110h4v4h-4zM486 110h4v4h-4zM490 110h4v4h-4zM494 110h4v4h-4zM498 110h4v4h-4zM502 110h4v4h-4zM506 110h4v4h-4zM430 114h4v4h-4zM434 114h4v4h-4zM482 114h4v4h-4zM486 114h4v4h-4zM490 114h4v4h-4zM494 114h4v4h-4zM498 114h4v4h-4zM502 114h4v4h-4zM506 114h4v4h-4zM510 114h4v4h-4zM638 114h4v4h-4zM438 118h4v4h-4zM490 118h4v4h-4zM494 118h4v4h-4zM498 118h4v4h-4zM502 118h4v4h-4zM506 118h4v4h-4zM510 118h4v4h-4zM634 118h4v4h-4zM694 118h4v4h-4zM502 122h4v4h-4zM506 122h4v4h-4zM442 126h4v4h-4zM446 138h4v4h-4zM706 146h4v4h-4zM494 150h4v4h-4zM498 150h4v4h-4zM502 150h4v4h-4zM710 150h4v4h-4zM518 158h4v4h-4zM526 170h4v4h-4zM758 186h4v4h-4zM526 190h4v4h-4zM522 198h4v4h-4zM586 198h4v4h-4zM582 202h4v4h-4zM622 202h4v4h-4zM506 210h4v4h-4zM578 210h4v4h-4zM442 226h4v4h-4zM346 230h4v4h-4zM438 230h4v4h-4zM570 230h4v4h-4zM646 230h4v4h-4zM350 234h4v4h-4zM566 238h4v4h-4zM562 242h4v4h-4zM558 246h4v4h-4zM262 250h4v4h-4zM554 250h4v4h-4zM578 250h4v4h-4zM582 250h4v4h-4zM618 250h4v4h-4zM550 254h4v4h-4zM570 254h4v4h-4zM566 258h4v4h-4zM426 266h4v4h-4zM550 266h4v4h-4zM562 266h4v4h-4zM550 270h4v4h-4zM414 278h4v4h-4zM558 278h4v4h-4zM394 282h4v4h-4zM398 282h4v4h-4zM690 334h4v4h-4zM686 342h4v4h-4zM686 354h4v4h-4z"/>
<path fill="#f80000" d="M642 38h4v4h-4zM454 42h4v4h-4zM466 46h4v4h-4zM470 46h4v4h-4zM498 46h4v4h-4zM502 46h4v4h-4zM506 46h4v4h-4zM510 46h4v4h-4zM514 46h4v4h-4zM518 46h4v4h-4zM634 46h4v4h-4zM566 50h4v4h-4zM666 50h4v4h-4zM410 54h4v4h-4zM574 54h4v4h-4zM630 54h4v4h-4zM582 62h4v4h-4zM674 66h4v4h-4zM394 78h4v4h-4zM686 78h4v4h-4zM462 82h4v4h-4zM466 82h4v4h-4zM470 82h4v4h-4zM474 82h4v4h-4zM478 82h4v4h-4zM690 82h4v4h-4zM454 86h4v4h-4zM458 86h4v4h-4zM462 86h4v4h-4zM466 86h4v4h-4zM478 86h4v4h-4zM482 86h4v4h-4zM642 86h4v4h-4zM450 90h4v4h-4zM454 90h4v4h-4zM458 90h4v4h-4zM482 90h4v4h-4zM486 90h4v4h-4zM694 90h4v4h-4zM394 94h4v4h-4zM446 94h4v4h-4zM450 94h4v4h-4zM454 94h4v4h-4zM490 94h4v4h-4zM586 94h4v4h-4zM446 98h4v4h-4zM450 98h4v4h-4zM454 98h4v4h-4zM458 98h4v4h-4zM494 98h4v4h-4zM498 98h4v4h-4zM450 102h4v4h-4zM454 102h4v4h-4zM458 102h4v4h-4zM462 102h4v4h-4zM498 102h4v4h-4zM502 102h4v4h-4zM454 106h4v4h-4zM458 106h4v4h-4zM462 106h4v4h-4zM466 106h4v4h-4zM470 106h4v4h-4zM506 106h4v4h-4zM642 106h4v4h-4zM422 110h4v4h-4zM426 110h4v4h-4zM430 110h4v4h-4zM470 110h4v4h-4zM474 110h4v4h-4zM510 110h4v4h-4zM594 110h4v4h-4zM694 110h4v4h-4zM438 114h4v4h-4zM442 114h4v4h-4zM474 114h4v4h-4zM478 114h4v4h-4zM514 114h4v4h-4zM598 114h4v4h-4zM694 114h4v4h-4zM442 118h4v4h-4zM482 118h4v4h-4zM486 118h4v4h-4zM514 118h4v4h-4zM442 122h4v4h-4zM486 122h4v4h-4zM490 122h4v4h-4zM494 122h4v4h-4zM498 122h4v4h-4zM510 122h4v4h-4zM610 122h4v4h-4zM630 122h4v4h-4zM694 122h4v4h-4zM498 126h4v4h-4zM502 126h4v4h-4zM506 126h4v4h-4zM446 130h4v4h-4zM446 134h4v4h-4zM450 142h4v4h-4zM702 142h4v4h-4zM454 146h4v4h-4zM466 146h4v4h-4zM470 146h4v4h-4zM474 146h4v4h-4zM478 146h4v4h-4zM482 146h4v4h-4zM486 146h4v4h-4zM490 146h4v4h-4zM506 150h4v4h-4zM510 150h4v4h-4zM514 154h4v4h-4zM714 154h4v4h-4zM522 162h4v4h-4zM742 178h4v4h-4zM590 194h4v4h-4zM610 194h4v4h-4zM634 210h4v4h-4zM482 214h4v4h-4zM638 214h4v4h-4zM574 218h4v4h-4zM330 222h4v4h-4zM338 226h4v4h-4zM646 226h4v4h-4zM430 246h4v4h-4zM554 246h4v4h-4zM358 250h4v4h-4zM550 250h4v4h-4zM586 250h4v4h-4zM614 250h4v4h-4zM362 262h4v4h-4zM366 270h4v4h-4zM562 270h4v4h-4zM370 274h4v4h-4zM550 274h4v4h-4zM562 274h4v4h-4zM554 278h4v4h-4zM390 282h4v4h-4zM402 282h4v4h-4zM702 326h4v4h-4zM710 330h4v4h-4zM706 358h4v4h-4z"/>
<path fill="#f70000" d="M646 38h4v4h-4zM654 38h4v4h-4zM426 42h4v4h-4zM446 42h4v4h-4zM450 42h4v4h-4zM638 42h4v4h-4zM418 46h4v4h-4zM458 46h4v4h-4zM462 46h4v4h-4zM414 50h4v4h-4zM466 50h4v4h-4zM470 50h4v4h-4zM474 50h4v4h-4zM478 50h4v4h-4zM482 50h4v4h-4zM486 50h4v4h-4zM490 50h4v4h-4zM494 50h4v4h-4zM538 50h4v4h-4zM542 50h4v4h-4zM562 50h4v4h-4zM578 58h4v4h-4zM406 62h4v4h-4zM582 66h4v4h-4zM634 66h4v4h-4zM582 70h4v4h-4zM398 74h4v4h-4zM470 74h4v4h-4zM474 74h4v4h-4zM582 74h4v4h-4zM638 74h4v4h-4zM462 78h4v4h-4zM466 78h4v4h-4zM470 78h4v4h-4zM474 78h4v4h-4zM478 78h4v4h-4zM482 78h4v4h-4zM394 82h4v4h-4zM454 82h4v4h-4zM458 82h4v4h-4zM482 82h4v4h-4zM486 82h4v4h-4zM446 86h4v4h-4zM450 86h4v4h-4zM486 86h4v4h-4zM490 86h4v4h-4zM394 90h4v4h-4zM442 90h4v4h-4zM446 90h4v4h-4zM490 90h4v4h-4zM494 90h4v4h-4zM442 94h4v4h-4zM494 94h4v4h-4zM498 94h4v4h-4zM694 94h4v4h-4zM442 98h4v4h-4zM502 98h4v4h-4zM586 98h4v4h-4zM442 102h4v4h-4zM446 102h4v4h-4zM506 102h4v4h-4zM410 106h4v4h-4zM438 106h4v4h-4zM442 106h4v4h-4zM446 106h4v4h-4zM450 106h4v4h-4zM510 106h4v4h-4zM590 106h4v4h-4zM694 106h4v4h-4zM434 110h4v4h-4zM438 110h4v4h-4zM442 110h4v4h-4zM446 110h4v4h-4zM450 110h4v4h-4zM454 110h4v4h-4zM458 110h4v4h-4zM462 110h4v4h-4zM466 110h4v4h-4zM514 110h4v4h-4zM642 110h4v4h-4zM446 114h4v4h-4zM450 114h4v4h-4zM466 114h4v4h-4zM470 114h4v4h-4zM446 118h4v4h-4zM474 118h4v4h-4zM478 118h4v4h-4zM602 118h4v4h-4zM446 122h4v4h-4zM478 122h4v4h-4zM482 122h4v4h-4zM514 122h4v4h-4zM446 126h4v4h-4zM486 126h4v4h-4zM490 126h4v4h-4zM494 126h4v4h-4zM510 126h4v4h-4zM514 126h4v4h-4zM618 126h4v4h-4zM622 126h4v4h-4zM694 126h4v4h-4zM494 130h4v4h-4zM498 130h4v4h-4zM502 130h4v4h-4zM506 130h4v4h-4zM450 138h4v4h-4zM482 142h4v4h-4zM458 146h4v4h-4zM462 146h4v4h-4zM494 146h4v4h-4zM498 146h4v4h-4zM502 146h4v4h-4zM506 146h4v4h-4zM718 158h4v4h-4zM722 162h4v4h-4zM526 166h4v4h-4zM530 178h4v4h-4zM530 182h4v4h-4zM746 182h4v4h-4zM754 186h4v4h-4zM526 194h4v4h-4zM618 198h4v4h-4zM522 202h4v4h-4zM518 206h4v4h-4zM578 206h4v4h-4zM630 206h4v4h-4zM510 210h4v4h-4zM486 214h4v4h-4zM462 218h4v4h-4zM642 218h4v4h-4zM298 222h4v4h-4zM290 226h4v4h-4zM566 234h4v4h-4zM434 238h4v4h-4zM562 238h4v4h-4zM354 242h4v4h-4zM558 242h4v4h-4zM550 246h4v4h-4zM546 250h4v4h-4zM590 250h4v4h-4zM594 250h4v4h-4zM610 250h4v4h-4zM646 250h4v4h-4zM546 254h4v4h-4zM574 254h4v4h-4zM546 258h4v4h-4zM546 262h4v4h-4zM566 262h4v4h-4zM698 326h4v4h-4zM706 326h4v4h-4zM694 362h4v4h-4zM698 362h4v4h-4z"/>
<path fill="#f60000" d="M650 38h4v4h-4zM430 42h4v4h-4zM434 42h4v4h-4zM438 42h4v4h-4zM442 42h4v4h-4zM454 46h4v4h-4zM462 50h4v4h-4zM498 50h4v4h-4zM502 50h4v4h-4zM526 50h4v4h-4zM530 50h4v4h-4zM534 50h4v4h-4zM546 50h4v4h-4zM550 50h4v4h-4zM554 50h4v4h-4zM558 50h4v4h-4zM634 50h4v4h-4zM466 54h4v4h-4zM470 54h4v4h-4zM474 54h4v4h-4zM478 54h4v4h-4zM482 54h4v4h-4zM486 54h4v4h-4zM490 54h4v4h-4zM570 54h4v4h-4zM410 58h4v4h-4zM470 58h4v4h-4zM474 58h4v4h-4zM478 58h4v4h-4zM578 62h4v4h-4zM634 62h4v4h-4zM670 62h4v4h-4zM470 66h4v4h-4zM474 66h4v4h-4zM402 70h4v4h-4zM466 70h4v4h-4zM470 70h4v4h-4zM474 70h4v4h-4zM478 70h4v4h-4zM458 74h4v4h-4zM462 74h4v4h-4zM466 74h4v4h-4zM478 74h4v4h-4zM482 74h4v4h-4zM454 78h4v4h-4zM458 78h4v4h-4zM486 78h4v4h-4zM582 78h4v4h-4zM446 82h4v4h-4zM450 82h4v4h-4zM490 82h4v4h-4zM582 82h4v4h-4zM642 82h4v4h-4zM394 86h4v4h-4zM442 86h4v4h-4zM494 86h4v4h-4zM582 86h4v4h-4zM498 90h4v4h-4zM582 90h4v4h-4zM438 94h4v4h-4zM502 94h4v4h-4zM398 98h4v4h-4zM438 98h4v4h-4zM506 98h4v4h-4zM694 98h4v4h-4zM402 102h4v4h-4zM438 102h4v4h-4zM510 102h4v4h-4zM586 102h4v4h-4zM694 102h4v4h-4zM414 106h4v4h-4zM426 106h4v4h-4zM430 106h4v4h-4zM434 106h4v4h-4zM514 106h4v4h-4zM518 110h4v4h-4zM454 114h4v4h-4zM458 114h4v4h-4zM462 114h4v4h-4zM518 114h4v4h-4zM450 118h4v4h-4zM454 118h4v4h-4zM458 118h4v4h-4zM462 118h4v4h-4zM466 118h4v4h-4zM470 118h4v4h-4zM518 118h4v4h-4zM638 118h4v4h-4zM450 122h4v4h-4zM470 122h4v4h-4zM474 122h4v4h-4zM518 122h4v4h-4zM606 122h4v4h-4zM450 126h4v4h-4zM478 126h4v4h-4zM482 126h4v4h-4zM614 126h4v4h-4zM626 126h4v4h-4zM450 130h4v4h-4zM482 130h4v4h-4zM486 130h4v4h-4zM490 130h4v4h-4zM510 130h4v4h-4zM450 134h4v4h-4zM486 134h4v4h-4zM490 134h4v4h-4zM494 134h4v4h-4zM498 134h4v4h-4zM502 134h4v4h-4zM506 134h4v4h-4zM482 138h4v4h-4zM486 138h4v4h-4zM490 138h4v4h-4zM494 138h4v4h-4zM498 138h4v4h-4zM502 138h4v4h-4zM506 138h4v4h-4zM698 138h4v4h-4zM454 142h4v4h-4zM466 142h4v4h-4zM470 142h4v4h-4zM474 142h4v4h-4zM478 142h4v4h-4zM486 142h4v4h-4zM490 142h4v4h-4zM494 142h4v4h-4zM498 142h4v4h-4zM502 142h4v4h-4zM506 142h4v4h-4zM510 146h4v4h-4zM514 150h4v4h-4zM518 154h4v4h-4zM522 158h4v4h-4zM526 162h4v4h-4zM726 166h4v4h-4zM530 170h4v4h-4zM530 174h4v4h-4zM530 186h4v4h-4zM598 190h4v4h-4zM602 190h4v4h-4zM526 198h4v4h-4zM626 202h4v4h-4zM514 210h4v4h-4zM490 214h4v4h-4zM494 214h4v4h-4zM326 222h4v4h-4zM450 222h4v4h-4zM570 226h4v4h-4zM286 230h4v4h-4zM554 242h4v4h-4zM430 250h4v4h-4zM598 250h4v4h-4zM602 250h4v4h-4zM606 250h4v4h-4zM358 254h4v4h-4zM430 254h4v4h-4zM634 254h4v4h-4zM638 254h4v4h-4zM430 258h4v4h-4zM570 258h4v4h-4zM362 266h4v4h-4zM546 266h4v4h-4zM566 266h4v4h-4zM426 270h4v4h-4zM422 274h4v4h-4zM374 278h4v4h-4zM550 278h4v4h-4zM562 278h4v4h-4zM386 282h4v4h-4zM406 282h4v4h-4zM558 282h4v4h-4zM686 338h4v4h-4zM710 354h4v4h-4z"/>
<path fill="#ff1912" d="M678 38h4v4h-4zM702 70h4v4h-4zM710 126h4v4h-4zM742 158h4v4h-4zM390 178h4v4h-4zM474 182h4v4h-4zM338 206h4v4h-4zM602 226h4v4h-4zM262 230h4v4h-4zM378 254h4v4h-4zM410 262h4v4h-4z"/>
<path fill="#ff2b1d" d="M690 38h4v4h-4zM698 38h4v4h-4zM738 58h4v4h-4zM318 66h4v4h-4zM718 70h4v4h-4zM370 194h4v4h-4zM454 194h4v4h-4zM370 198h4v4h-4zM446 202h4v4h-4zM382 230h4v4h-4z"/>
<path fill="#fff391" d="M26 42h4v4h-4zM90 42h4v4h-4zM30 46h4v4h-4zM38 58h4v4h-4zM86 58h4v4h-4zM42 62h4v4h-4zM78 66h4v4h-4z"/>
<path fill="#fff08d" d="M94 42h4v4h-4zM94 46h4v4h-4zM14 58h4v4h-4zM18 58h4v4h-4zM22 62h4v4h-4zM26 62h4v4h-4zM30 66h4v4h-4zM34 70h4v4h-4zM42 74h4v4h-4zM50 78h4v4h-4zM54 78h4v4h-4zM58 78h4v4h-4zM62 78h4v4h-4zM66 78h4v4h-4z"/>
<path fill="#ffcf72" d="M118 42h4v4h-4zM114 66h4v4h-4zM110 90h4v4h-4zM266 174h4v4h-4zM270 174h4v4h-4z"/>
<path fill="#ffc86e" d="M122 42h4v4h-4zM118 70h4v4h-4zM118 74h4v4h-4zM266 126h4v4h-4zM282 142h4v4h-4z"/>
<path fill="#ffc16a" d="M126 42h4v4h-4zM262 118h4v4h-4zM294 162h4v4h-4zM294 166h4v4h-4z"/>
<path fill="#ffbb67" d="M130 42h4v4h-4zM262 114h4v4h-4zM286 138h4v4h-4zM286 178h4v4h-4z"/>
<path fill="#ffb463" d="M134 42h4v4h-4zM134 86h4v4h-4zM278 182h4v4h-4z"/>
<path fill="#ffad5f" d="M138 42h4v4h-4zM138 78h4v4h-4zM298 150h4v4h-4zM286 182h4v4h-4z"/>
<path fill="#ffa65c" d="M142 42h4v4h-4zM142 74h4v4h-4zM146 82h4v4h-4zM150 86h4v4h-4zM154 90h4v4h-4zM214 94h4v4h-4zM270 106h4v4h-4zM274 110h4v4h-4zM278 114h4v4h-4zM274 186h4v4h-4z"/>
<path fill="#ff9f59" d="M146 42h4v4h-4zM146 66h4v4h-4zM266 98h4v4h-4zM278 110h4v4h-4zM282 186h4v4h-4z"/>
<path fill="#ff9956" d="M150 42h4v4h-4zM150 58h4v4h-4zM154 70h4v4h-4zM182 86h4v4h-4zM206 86h4v4h-4zM266 94h4v4h-4zM278 106h4v4h-4z"/>
<path fill="#ff9353" d="M154 42h4v4h-4zM154 46h4v4h-4zM162 70h4v4h-4zM166 74h4v4h-4zM174 78h4v4h-4zM194 82h4v4h-4zM198 82h4v4h-4zM202 82h4v4h-4zM206 82h4v4h-4zM254 82h4v4h-4zM266 90h4v4h-4zM278 102h4v4h-4z"/>
<path fill="#ff8149" d="M170 42h4v4h-4zM194 66h4v4h-4zM310 178h4v4h-4z"/>
<path fill="#ff7d47" d="M174 42h4v4h-4zM178 50h4v4h-4zM238 66h4v4h-4zM314 170h4v4h-4zM262 198h4v4h-4z"/>
<path fill="#ff7946" d="M178 42h4v4h-4zM182 50h4v4h-4zM186 54h4v4h-4zM202 62h4v4h-4z"/>
<path fill="#ff6f40" d="M190 42h4v4h-4zM198 50h4v4h-4zM222 58h4v4h-4zM238 58h4v4h-4zM290 90h4v4h-4z"/>
<path fill="#ff693d" d="M198 42h4v4h-4zM222 54h4v4h-4zM246 54h4v4h-4zM310 126h4v4h-4z"/>
<path fill="#ff5f38" d="M214 42h4v4h-4zM310 114h4v4h-4z"/>
<path fill="#ff5935" d="M226 42h4v4h-4zM274 54h4v4h-4zM278 58h4v4h-4zM322 142h4v4h-4z"/>
<path fill="#ff4129" d="M286 42h4v4h-4zM754 74h4v4h-4zM310 78h4v4h-4zM730 98h4v4h-4zM334 142h4v4h-4zM334 170h4v4h-4zM330 182h4v4h-4z"/>
<path fill="#ff1a14" d="M362 42h4v4h-4zM382 46h4v4h-4zM726 46h4v4h-4zM682 50h4v4h-4zM710 114h4v4h-4zM418 186h4v4h-4zM410 190h4v4h-4zM350 210h4v4h-4zM406 266h4v4h-4z"/>
<path fill="#f50000" d="M642 42h4v4h-4zM658 42h4v4h-4zM422 46h4v4h-4zM446 46h4v4h-4zM450 46h4v4h-4zM638 46h4v4h-4zM662 46h4v4h-4zM454 50h4v4h-4zM458 50h4v4h-4zM506 50h4v4h-4zM510 50h4v4h-4zM518 50h4v4h-4zM522 50h4v4h-4zM462 54h4v4h-4zM494 54h4v4h-4zM634 54h4v4h-4zM666 54h4v4h-4zM462 58h4v4h-4zM466 58h4v4h-4zM482 58h4v4h-4zM486 58h4v4h-4zM490 58h4v4h-4zM574 58h4v4h-4zM634 58h4v4h-4zM462 62h4v4h-4zM466 62h4v4h-4zM470 62h4v4h-4zM474 62h4v4h-4zM478 62h4v4h-4zM482 62h4v4h-4zM486 62h4v4h-4zM406 66h4v4h-4zM462 66h4v4h-4zM466 66h4v4h-4zM478 66h4v4h-4zM482 66h4v4h-4zM486 66h4v4h-4zM578 66h4v4h-4zM458 70h4v4h-4zM462 70h4v4h-4zM482 70h4v4h-4zM486 70h4v4h-4zM638 70h4v4h-4zM454 74h4v4h-4zM486 74h4v4h-4zM490 74h4v4h-4zM398 78h4v4h-4zM450 78h4v4h-4zM490 78h4v4h-4zM642 78h4v4h-4zM442 82h4v4h-4zM494 82h4v4h-4zM498 86h4v4h-4zM438 90h4v4h-4zM502 90h4v4h-4zM506 94h4v4h-4zM582 94h4v4h-4zM646 94h4v4h-4zM434 98h4v4h-4zM510 98h4v4h-4zM646 98h4v4h-4zM434 102h4v4h-4zM514 102h4v4h-4zM418 106h4v4h-4zM422 106h4v4h-4zM518 106h4v4h-4zM522 110h4v4h-4zM590 110h4v4h-4zM522 114h4v4h-4zM594 114h4v4h-4zM598 118h4v4h-4zM454 122h4v4h-4zM458 122h4v4h-4zM462 122h4v4h-4zM466 122h4v4h-4zM634 122h4v4h-4zM454 126h4v4h-4zM458 126h4v4h-4zM466 126h4v4h-4zM470 126h4v4h-4zM474 126h4v4h-4zM518 126h4v4h-4zM454 130h4v4h-4zM474 130h4v4h-4zM478 130h4v4h-4zM514 130h4v4h-4zM694 130h4v4h-4zM454 134h4v4h-4zM474 134h4v4h-4zM478 134h4v4h-4zM482 134h4v4h-4zM510 134h4v4h-4zM454 138h4v4h-4zM470 138h4v4h-4zM474 138h4v4h-4zM478 138h4v4h-4zM510 138h4v4h-4zM458 142h4v4h-4zM462 142h4v4h-4zM510 142h4v4h-4zM514 146h4v4h-4zM518 150h4v4h-4zM730 170h4v4h-4zM734 174h4v4h-4zM750 186h4v4h-4zM530 190h4v4h-4zM594 190h4v4h-4zM606 190h4v4h-4zM762 190h4v4h-4zM586 194h4v4h-4zM614 194h4v4h-4zM582 198h4v4h-4zM498 214h4v4h-4zM502 214h4v4h-4zM574 214h4v4h-4zM466 218h4v4h-4zM302 222h4v4h-4zM322 222h4v4h-4zM646 222h4v4h-4zM342 230h4v4h-4zM282 234h4v4h-4zM650 234h4v4h-4zM278 238h4v4h-4zM350 238h4v4h-4zM558 238h4v4h-4zM650 238h4v4h-4zM274 242h4v4h-4zM550 242h4v4h-4zM650 242h4v4h-4zM270 246h4v4h-4zM546 246h4v4h-4zM266 250h4v4h-4zM262 254h4v4h-4zM578 254h4v4h-4zM630 254h4v4h-4zM642 254h4v4h-4zM430 262h4v4h-4zM546 270h4v4h-4zM418 278h4v4h-4zM554 282h4v4h-4zM714 338h4v4h-4zM714 342h4v4h-4zM686 358h4v4h-4zM690 362h4v4h-4z"/>
<path fill="#f30000" d="M646 42h4v4h-4zM426 46h4v4h-4zM430 46h4v4h-4zM434 46h4v4h-4zM438 46h4v4h-4zM418 50h4v4h-4zM446 50h4v4h-4zM638 50h4v4h-4zM450 54h4v4h-4zM506 54h4v4h-4zM454 58h4v4h-4zM498 58h4v4h-4zM570 58h4v4h-4zM666 58h4v4h-4zM454 62h4v4h-4zM494 62h4v4h-4zM574 62h4v4h-4zM454 66h4v4h-4zM494 66h4v4h-4zM670 66h4v4h-4zM450 70h4v4h-4zM494 70h4v4h-4zM402 74h4v4h-4zM446 74h4v4h-4zM498 74h4v4h-4zM578 74h4v4h-4zM642 74h4v4h-4zM442 78h4v4h-4zM498 78h4v4h-4zM578 78h4v4h-4zM682 78h4v4h-4zM398 82h4v4h-4zM438 82h4v4h-4zM502 82h4v4h-4zM578 82h4v4h-4zM686 82h4v4h-4zM506 86h4v4h-4zM578 86h4v4h-4zM646 86h4v4h-4zM434 90h4v4h-4zM510 90h4v4h-4zM398 94h4v4h-4zM514 94h4v4h-4zM430 98h4v4h-4zM518 98h4v4h-4zM422 102h4v4h-4zM522 102h4v4h-4zM582 102h4v4h-4zM646 106h4v4h-4zM526 110h4v4h-4zM526 114h4v4h-4zM618 130h4v4h-4zM622 130h4v4h-4zM518 134h4v4h-4zM518 146h4v4h-4zM522 150h4v4h-4zM530 162h4v4h-4zM534 170h4v4h-4zM534 174h4v4h-4zM534 178h4v4h-4zM534 182h4v4h-4zM742 182h4v4h-4zM634 206h4v4h-4zM574 210h4v4h-4zM638 210h4v4h-4zM510 214h4v4h-4zM642 214h4v4h-4zM470 218h4v4h-4zM310 222h4v4h-4zM314 222h4v4h-4zM294 226h4v4h-4zM554 238h4v4h-4zM434 242h4v4h-4zM546 242h4v4h-4zM542 246h4v4h-4zM574 258h4v4h-4zM542 262h4v4h-4zM430 266h4v4h-4zM366 274h4v4h-4zM566 274h4v4h-4zM550 282h4v4h-4zM702 322h4v4h-4zM710 326h4v4h-4zM714 334h4v4h-4z"/>
<path fill="#f20000" d="M650 42h4v4h-4zM654 42h4v4h-4zM642 46h4v4h-4zM442 50h4v4h-4zM446 54h4v4h-4zM510 54h4v4h-4zM514 54h4v4h-4zM518 54h4v4h-4zM522 54h4v4h-4zM526 54h4v4h-4zM530 54h4v4h-4zM534 54h4v4h-4zM538 54h4v4h-4zM562 54h4v4h-4zM638 54h4v4h-4zM414 58h4v4h-4zM450 58h4v4h-4zM502 58h4v4h-4zM506 58h4v4h-4zM638 58h4v4h-4zM450 62h4v4h-4zM498 62h4v4h-4zM502 62h4v4h-4zM638 62h4v4h-4zM410 66h4v4h-4zM450 66h4v4h-4zM498 66h4v4h-4zM574 66h4v4h-4zM406 70h4v4h-4zM446 70h4v4h-4zM498 70h4v4h-4zM442 74h4v4h-4zM438 78h4v4h-4zM502 78h4v4h-4zM506 82h4v4h-4zM646 82h4v4h-4zM398 86h4v4h-4zM434 86h4v4h-4zM398 90h4v4h-4zM578 90h4v4h-4zM430 94h4v4h-4zM578 94h4v4h-4zM402 98h4v4h-4zM426 98h4v4h-4zM410 102h4v4h-4zM414 102h4v4h-4zM418 102h4v4h-4zM526 106h4v4h-4zM586 110h4v4h-4zM646 110h4v4h-4zM590 114h4v4h-4zM526 118h4v4h-4zM594 118h4v4h-4zM642 118h4v4h-4zM638 122h4v4h-4zM522 126h4v4h-4zM606 126h4v4h-4zM614 130h4v4h-4zM626 130h4v4h-4zM694 134h4v4h-4zM518 138h4v4h-4zM518 142h4v4h-4zM702 146h4v4h-4zM706 150h4v4h-4zM526 154h4v4h-4zM534 186h4v4h-4zM746 186h4v4h-4zM610 190h4v4h-4zM754 190h4v4h-4zM582 194h4v4h-4zM618 194h4v4h-4zM530 198h4v4h-4zM578 198h4v4h-4zM522 210h4v4h-4zM514 214h4v4h-4zM474 218h4v4h-4zM646 218h4v4h-4zM330 226h4v4h-4zM650 226h4v4h-4zM338 230h4v4h-4zM558 234h4v4h-4zM550 238h4v4h-4zM542 242h4v4h-4zM354 250h4v4h-4zM582 254h4v4h-4zM622 254h4v4h-4zM358 262h4v4h-4zM542 266h4v4h-4zM362 270h4v4h-4zM370 278h4v4h-4zM546 278h4v4h-4zM558 286h4v4h-4zM706 322h4v4h-4z"/>
<path fill="#fff290" d="M22 46h4v4h-4zM34 58h4v4h-4zM42 66h4v4h-4zM74 70h4v4h-4z"/>
<path fill="#ffdb79" d="M110 46h4v4h-4zM110 50h4v4h-4zM106 66h4v4h-4zM94 94h4v4h-4zM270 146h4v4h-4zM274 150h4v4h-4zM278 158h4v4h-4zM278 162h4v4h-4zM262 166h4v4h-4zM274 166h4v4h-4z"/>
<path fill="#ffd575" d="M114 46h4v4h-4zM106 82h4v4h-4zM102 94h4v4h-4zM282 166h4v4h-4zM278 170h4v4h-4z"/>
<path fill="#ffce71" d="M118 46h4v4h-4zM110 94h4v4h-4zM270 134h4v4h-4zM278 142h4v4h-4zM286 154h4v4h-4zM262 174h4v4h-4z"/>
<path fill="#ffc76e" d="M122 46h4v4h-4z"/>
<path fill="#ffc06a" d="M126 46h4v4h-4zM286 142h4v4h-4z"/>
<path fill="#ffba66" d="M130 46h4v4h-4zM130 94h4v4h-4z"/>
<path fill="#ffb362" d="M134 46h4v4h-4zM134 82h4v4h-4zM274 118h4v4h-4z"/>
<path fill="#ffac5f" d="M138 46h4v4h-4zM142 86h4v4h-4zM270 110h4v4h-4zM274 114h4v4h-4zM278 118h4v4h-4zM262 186h4v4h-4z"/>
<path fill="#ffa55c" d="M142 46h4v4h-4zM162 94h4v4h-4zM210 94h4v4h-4zM266 102h4v4h-4zM290 130h4v4h-4zM302 174h4v4h-4z"/>
<path fill="#ff9f58" d="M146 46h4v4h-4zM150 74h4v4h-4zM162 86h4v4h-4zM174 90h4v4h-4zM206 90h4v4h-4zM254 90h4v4h-4zM290 126h4v4h-4z"/>
<path fill="#ff9955" d="M150 46h4v4h-4zM150 50h4v4h-4zM150 54h4v4h-4zM162 78h4v4h-4zM186 86h4v4h-4zM190 86h4v4h-4zM198 86h4v4h-4zM202 86h4v4h-4zM254 86h4v4h-4z"/>
<path fill="#ff864c" d="M166 46h4v4h-4zM174 62h4v4h-4zM190 70h4v4h-4zM270 194h4v4h-4z"/>
<path fill="#ff824a" d="M170 46h4v4h-4zM174 54h4v4h-4zM182 62h4v4h-4zM190 66h4v4h-4zM210 70h4v4h-4zM214 70h4v4h-4zM218 70h4v4h-4zM222 70h4v4h-4zM226 70h4v4h-4zM230 70h4v4h-4zM254 70h4v4h-4zM262 74h4v4h-4zM290 106h4v4h-4zM290 190h4v4h-4zM274 194h4v4h-4z"/>
<path fill="#ff7e48" d="M174 46h4v4h-4zM190 62h4v4h-4zM202 66h4v4h-4zM246 66h4v4h-4zM270 78h4v4h-4zM274 82h4v4h-4zM306 134h4v4h-4z"/>
<path fill="#ff7142" d="M190 46h4v4h-4zM194 50h4v4h-4zM302 114h4v4h-4z"/>
<path fill="#ff693e" d="M202 46h4v4h-4zM298 98h4v4h-4zM302 106h4v4h-4z"/>
<path fill="#f40000" d="M442 46h4v4h-4zM450 50h4v4h-4zM514 50h4v4h-4zM414 54h4v4h-4zM454 54h4v4h-4zM458 54h4v4h-4zM498 54h4v4h-4zM502 54h4v4h-4zM566 54h4v4h-4zM458 58h4v4h-4zM494 58h4v4h-4zM410 62h4v4h-4zM458 62h4v4h-4zM490 62h4v4h-4zM458 66h4v4h-4zM490 66h4v4h-4zM638 66h4v4h-4zM454 70h4v4h-4zM490 70h4v4h-4zM578 70h4v4h-4zM674 70h4v4h-4zM450 74h4v4h-4zM494 74h4v4h-4zM678 74h4v4h-4zM446 78h4v4h-4zM494 78h4v4h-4zM498 82h4v4h-4zM438 86h4v4h-4zM502 86h4v4h-4zM690 86h4v4h-4zM506 90h4v4h-4zM646 90h4v4h-4zM434 94h4v4h-4zM510 94h4v4h-4zM514 98h4v4h-4zM582 98h4v4h-4zM406 102h4v4h-4zM426 102h4v4h-4zM430 102h4v4h-4zM518 102h4v4h-4zM646 102h4v4h-4zM522 106h4v4h-4zM586 106h4v4h-4zM642 114h4v4h-4zM522 118h4v4h-4zM522 122h4v4h-4zM602 122h4v4h-4zM462 126h4v4h-4zM610 126h4v4h-4zM630 126h4v4h-4zM458 130h4v4h-4zM462 130h4v4h-4zM466 130h4v4h-4zM470 130h4v4h-4zM518 130h4v4h-4zM458 134h4v4h-4zM462 134h4v4h-4zM466 134h4v4h-4zM470 134h4v4h-4zM514 134h4v4h-4zM458 138h4v4h-4zM462 138h4v4h-4zM466 138h4v4h-4zM514 138h4v4h-4zM514 142h4v4h-4zM522 154h4v4h-4zM526 158h4v4h-4zM530 166h4v4h-4zM738 178h4v4h-4zM590 190h4v4h-4zM758 190h4v4h-4zM530 194h4v4h-4zM622 198h4v4h-4zM526 202h4v4h-4zM578 202h4v4h-4zM522 206h4v4h-4zM518 210h4v4h-4zM506 214h4v4h-4zM306 222h4v4h-4zM318 222h4v4h-4zM570 222h4v4h-4zM334 226h4v4h-4zM566 230h4v4h-4zM650 230h4v4h-4zM346 234h4v4h-4zM438 234h4v4h-4zM562 234h4v4h-4zM354 246h4v4h-4zM650 246h4v4h-4zM542 250h4v4h-4zM542 254h4v4h-4zM626 254h4v4h-4zM358 258h4v4h-4zM542 258h4v4h-4zM570 262h4v4h-4zM566 270h4v4h-4zM546 274h4v4h-4zM382 282h4v4h-4zM410 282h4v4h-4zM562 282h4v4h-4zM694 326h4v4h-4zM690 330h4v4h-4zM714 346h4v4h-4zM702 362h4v4h-4z"/>
<path fill="#ef0000" d="M646 46h4v4h-4zM422 54h4v4h-4zM434 54h4v4h-4zM642 54h4v4h-4zM662 54h4v4h-4zM418 58h4v4h-4zM438 58h4v4h-4zM522 58h4v4h-4zM526 58h4v4h-4zM438 62h4v4h-4zM514 62h4v4h-4zM642 62h4v4h-4zM414 66h4v4h-4zM438 66h4v4h-4zM510 66h4v4h-4zM570 66h4v4h-4zM666 66h4v4h-4zM438 70h4v4h-4zM510 70h4v4h-4zM434 74h4v4h-4zM510 74h4v4h-4zM406 78h4v4h-4zM510 78h4v4h-4zM678 78h4v4h-4zM430 82h4v4h-4zM514 82h4v4h-4zM402 86h4v4h-4zM650 86h4v4h-4zM426 90h4v4h-4zM402 94h4v4h-4zM422 94h4v4h-4zM574 94h4v4h-4zM690 94h4v4h-4zM410 98h4v4h-4zM414 98h4v4h-4zM418 98h4v4h-4zM690 98h4v4h-4zM530 102h4v4h-4zM650 102h4v4h-4zM690 102h4v4h-4zM650 106h4v4h-4zM534 110h4v4h-4zM582 110h4v4h-4zM534 114h4v4h-4zM586 114h4v4h-4zM590 118h4v4h-4zM526 126h4v4h-4zM606 130h4v4h-4zM618 134h4v4h-4zM622 134h4v4h-4zM526 146h4v4h-4zM530 154h4v4h-4zM534 158h4v4h-4zM538 166h4v4h-4zM738 182h4v4h-4zM538 186h4v4h-4zM590 186h4v4h-4zM606 186h4v4h-4zM742 186h4v4h-4zM582 190h4v4h-4zM578 194h4v4h-4zM758 194h4v4h-4zM526 210h4v4h-4zM642 210h4v4h-4zM522 214h4v4h-4zM570 214h4v4h-4zM490 218h4v4h-4zM494 218h4v4h-4zM498 218h4v4h-4zM502 218h4v4h-4zM506 218h4v4h-4zM510 218h4v4h-4zM298 226h4v4h-4zM326 226h4v4h-4zM550 234h4v4h-4zM438 238h4v4h-4zM614 254h4v4h-4zM578 258h4v4h-4zM638 258h4v4h-4zM434 262h4v4h-4zM538 262h4v4h-4zM574 262h4v4h-4zM358 266h4v4h-4zM542 274h4v4h-4zM546 282h4v4h-4zM562 286h4v4h-4zM710 322h4v4h-4z"/>
<path fill="#ee0000" d="M650 46h4v4h-4zM654 46h4v4h-4zM426 54h4v4h-4zM430 54h4v4h-4zM422 58h4v4h-4zM434 58h4v4h-4zM530 58h4v4h-4zM534 58h4v4h-4zM562 58h4v4h-4zM642 58h4v4h-4zM662 58h4v4h-4zM418 62h4v4h-4zM434 62h4v4h-4zM518 62h4v4h-4zM566 62h4v4h-4zM434 66h4v4h-4zM514 66h4v4h-4zM414 70h4v4h-4zM434 70h4v4h-4zM514 70h4v4h-4zM570 70h4v4h-4zM646 70h4v4h-4zM410 74h4v4h-4zM430 74h4v4h-4zM514 74h4v4h-4zM430 78h4v4h-4zM514 78h4v4h-4zM650 78h4v4h-4zM426 82h4v4h-4zM518 82h4v4h-4zM650 82h4v4h-4zM682 82h4v4h-4zM426 86h4v4h-4zM518 86h4v4h-4zM686 86h4v4h-4zM402 90h4v4h-4zM422 90h4v4h-4zM522 90h4v4h-4zM418 94h4v4h-4zM526 94h4v4h-4zM530 98h4v4h-4zM574 98h4v4h-4zM534 102h4v4h-4zM574 102h4v4h-4zM534 106h4v4h-4zM578 106h4v4h-4zM646 118h4v4h-4zM530 122h4v4h-4zM594 122h4v4h-4zM642 122h4v4h-4zM598 126h4v4h-4zM638 126h4v4h-4zM526 130h4v4h-4zM690 130h4v4h-4zM614 134h4v4h-4zM626 134h4v4h-4zM694 138h4v4h-4zM526 142h4v4h-4zM530 150h4v4h-4zM538 162h4v4h-4zM542 174h4v4h-4zM542 178h4v4h-4zM586 186h4v4h-4zM538 190h4v4h-4zM622 194h4v4h-4zM754 194h4v4h-4zM534 198h4v4h-4zM574 198h4v4h-4zM530 206h4v4h-4zM638 206h4v4h-4zM570 210h4v4h-4zM526 214h4v4h-4zM646 214h4v4h-4zM514 218h4v4h-4zM518 218h4v4h-4zM566 222h4v4h-4zM302 226h4v4h-4zM322 226h4v4h-4zM334 230h4v4h-4zM558 230h4v4h-4zM542 234h4v4h-4zM546 234h4v4h-4zM654 234h4v4h-4zM538 238h4v4h-4zM654 238h4v4h-4zM654 242h4v4h-4zM350 246h4v4h-4zM534 246h4v4h-4zM534 250h4v4h-4zM590 254h4v4h-4zM354 258h4v4h-4zM634 258h4v4h-4zM642 258h4v4h-4zM434 266h4v4h-4zM570 270h4v4h-4zM362 274h4v4h-4zM366 278h4v4h-4zM374 282h4v4h-4zM566 282h4v4h-4zM550 286h4v4h-4zM702 318h4v4h-4zM694 322h4v4h-4zM690 326h4v4h-4zM714 326h4v4h-4zM682 342h4v4h-4zM710 358h4v4h-4zM706 362h4v4h-4zM698 366h4v4h-4z"/>
<path fill="#f00000" d="M658 46h4v4h-4zM426 50h4v4h-4zM430 50h4v4h-4zM642 50h4v4h-4zM438 54h4v4h-4zM550 54h4v4h-4zM554 54h4v4h-4zM442 58h4v4h-4zM514 58h4v4h-4zM518 58h4v4h-4zM414 62h4v4h-4zM442 62h4v4h-4zM510 62h4v4h-4zM570 62h4v4h-4zM442 66h4v4h-4zM506 66h4v4h-4zM642 66h4v4h-4zM410 70h4v4h-4zM506 70h4v4h-4zM670 70h4v4h-4zM406 74h4v4h-4zM438 74h4v4h-4zM506 74h4v4h-4zM574 74h4v4h-4zM646 74h4v4h-4zM674 74h4v4h-4zM434 78h4v4h-4zM574 78h4v4h-4zM402 82h4v4h-4zM510 82h4v4h-4zM574 82h4v4h-4zM430 86h4v4h-4zM514 86h4v4h-4zM574 86h4v4h-4zM518 90h4v4h-4zM574 90h4v4h-4zM650 90h4v4h-4zM426 94h4v4h-4zM522 94h4v4h-4zM650 94h4v4h-4zM406 98h4v4h-4zM526 98h4v4h-4zM650 98h4v4h-4zM578 102h4v4h-4zM530 106h4v4h-4zM690 106h4v4h-4zM646 114h4v4h-4zM530 118h4v4h-4zM602 126h4v4h-4zM690 126h4v4h-4zM630 130h4v4h-4zM522 134h4v4h-4zM522 138h4v4h-4zM522 142h4v4h-4zM698 142h4v4h-4zM526 150h4v4h-4zM534 162h4v4h-4zM718 162h4v4h-4zM722 166h4v4h-4zM538 170h4v4h-4zM726 170h4v4h-4zM538 174h4v4h-4zM730 174h4v4h-4zM538 178h4v4h-4zM734 178h4v4h-4zM538 182h4v4h-4zM594 186h4v4h-4zM614 190h4v4h-4zM750 190h4v4h-4zM534 194h4v4h-4zM762 194h4v4h-4zM626 198h4v4h-4zM530 202h4v4h-4zM574 202h4v4h-4zM482 218h4v4h-4zM486 218h4v4h-4zM454 222h4v4h-4zM650 222h4v4h-4zM286 234h4v4h-4zM342 234h4v4h-4zM554 234h4v4h-4zM282 238h4v4h-4zM346 238h4v4h-4zM542 238h4v4h-4zM278 242h4v4h-4zM538 242h4v4h-4zM274 246h4v4h-4zM270 250h4v4h-4zM434 250h4v4h-4zM266 254h4v4h-4zM354 254h4v4h-4zM434 254h4v4h-4zM586 254h4v4h-4zM618 254h4v4h-4zM262 258h4v4h-4zM434 258h4v4h-4zM538 258h4v4h-4zM430 270h4v4h-4zM422 278h4v4h-4zM414 282h4v4h-4zM682 346h4v4h-4zM714 350h4v4h-4zM682 354h4v4h-4zM686 362h4v4h-4z"/>
<path fill="#fff18f" d="M14 50h4v4h-4zM18 50h4v4h-4zM86 62h4v4h-4zM42 70h4v4h-4z"/>
<path fill="#ffea88" d="M98 50h4v4h-4zM90 70h4v4h-4zM18 82h4v4h-4zM78 82h4v4h-4zM30 86h4v4h-4zM50 90h4v4h-4zM54 90h4v4h-4zM58 90h4v4h-4z"/>
<path fill="#ffe07e" d="M106 50h4v4h-4zM102 66h4v4h-4zM90 90h4v4h-4zM86 94h4v4h-4zM262 150h4v4h-4zM262 154h4v4h-4zM266 154h4v4h-4zM262 158h4v4h-4zM266 158h4v4h-4z"/>
<path fill="#ffd475" d="M114 50h4v4h-4zM110 70h4v4h-4zM106 86h4v4h-4zM262 134h4v4h-4zM282 154h4v4h-4z"/>
<path fill="#ffcd71" d="M118 50h4v4h-4zM114 74h4v4h-4zM114 78h4v4h-4zM266 130h4v4h-4zM282 146h4v4h-4zM278 174h4v4h-4z"/>
<path fill="#ffc66d" d="M122 50h4v4h-4zM118 86h4v4h-4zM118 90h4v4h-4zM118 94h4v4h-4zM262 122h4v4h-4zM286 146h4v4h-4zM290 154h4v4h-4zM290 170h4v4h-4z"/>
<path fill="#ffbf69" d="M126 50h4v4h-4zM294 170h4v4h-4zM282 178h4v4h-4z"/>
<path fill="#ffb965" d="M130 50h4v4h-4zM130 86h4v4h-4zM274 122h4v4h-4z"/>
<path fill="#ffb262" d="M134 50h4v4h-4zM134 78h4v4h-4zM138 90h4v4h-4zM270 114h4v4h-4zM278 122h4v4h-4zM290 138h4v4h-4zM298 154h4v4h-4z"/>
<path fill="#ffab5e" d="M138 50h4v4h-4zM150 94h4v4h-4zM302 166h4v4h-4z"/>
<path fill="#ffa45b" d="M142 50h4v4h-4zM142 54h4v4h-4zM142 66h4v4h-4zM146 78h4v4h-4zM158 90h4v4h-4zM234 90h4v4h-4zM238 90h4v4h-4zM242 90h4v4h-4zM166 94h4v4h-4zM202 94h4v4h-4zM262 98h4v4h-4zM282 118h4v4h-4z"/>
<path fill="#ff9e58" d="M146 50h4v4h-4zM146 54h4v4h-4zM146 58h4v4h-4zM146 62h4v4h-4zM154 78h4v4h-4zM158 82h4v4h-4zM238 86h4v4h-4zM178 90h4v4h-4zM182 90h4v4h-4zM194 90h4v4h-4zM198 90h4v4h-4zM202 90h4v4h-4zM262 94h4v4h-4zM282 114h4v4h-4z"/>
<path fill="#ff8b4e" d="M162 50h4v4h-4zM258 78h4v4h-4z"/>
<path fill="#ff874c" d="M166 50h4v4h-4zM170 58h4v4h-4zM282 98h4v4h-4zM286 190h4v4h-4z"/>
<path fill="#ff834b" d="M170 50h4v4h-4zM186 66h4v4h-4zM202 70h4v4h-4zM270 82h4v4h-4zM274 86h4v4h-4z"/>
<path fill="#ff653b" d="M218 50h4v4h-4zM290 82h4v4h-4zM310 122h4v4h-4zM306 190h4v4h-4zM282 198h4v4h-4z"/>
<path fill="#f10000" d="M422 50h4v4h-4zM434 50h4v4h-4zM438 50h4v4h-4zM662 50h4v4h-4zM418 54h4v4h-4zM442 54h4v4h-4zM542 54h4v4h-4zM546 54h4v4h-4zM558 54h4v4h-4zM446 58h4v4h-4zM510 58h4v4h-4zM566 58h4v4h-4zM446 62h4v4h-4zM506 62h4v4h-4zM666 62h4v4h-4zM446 66h4v4h-4zM502 66h4v4h-4zM442 70h4v4h-4zM502 70h4v4h-4zM574 70h4v4h-4zM642 70h4v4h-4zM502 74h4v4h-4zM402 78h4v4h-4zM506 78h4v4h-4zM646 78h4v4h-4zM434 82h4v4h-4zM510 86h4v4h-4zM430 90h4v4h-4zM514 90h4v4h-4zM690 90h4v4h-4zM518 94h4v4h-4zM422 98h4v4h-4zM522 98h4v4h-4zM578 98h4v4h-4zM526 102h4v4h-4zM582 106h4v4h-4zM530 110h4v4h-4zM690 110h4v4h-4zM530 114h4v4h-4zM690 114h4v4h-4zM690 118h4v4h-4zM526 122h4v4h-4zM598 122h4v4h-4zM690 122h4v4h-4zM634 126h4v4h-4zM522 130h4v4h-4zM610 130h4v4h-4zM522 146h4v4h-4zM710 154h4v4h-4zM530 158h4v4h-4zM714 158h4v4h-4zM534 166h4v4h-4zM598 186h4v4h-4zM602 186h4v4h-4zM534 190h4v4h-4zM586 190h4v4h-4zM630 202h4v4h-4zM526 206h4v4h-4zM574 206h4v4h-4zM518 214h4v4h-4zM478 218h4v4h-4zM570 218h4v4h-4zM446 226h4v4h-4zM566 226h4v4h-4zM290 230h4v4h-4zM442 230h4v4h-4zM562 230h4v4h-4zM546 238h4v4h-4zM350 242h4v4h-4zM434 246h4v4h-4zM538 246h4v4h-4zM538 250h4v4h-4zM650 250h4v4h-4zM538 254h4v4h-4zM646 254h4v4h-4zM570 266h4v4h-4zM542 270h4v4h-4zM426 274h4v4h-4zM566 278h4v4h-4zM378 282h4v4h-4zM554 286h4v4h-4zM698 322h4v4h-4zM714 330h4v4h-4zM686 334h4v4h-4zM682 350h4v4h-4z"/>
<path fill="#ed0000" d="M646 50h4v4h-4zM658 50h4v4h-4zM426 58h4v4h-4zM430 58h4v4h-4zM538 58h4v4h-4zM542 58h4v4h-4zM558 58h4v4h-4zM422 62h4v4h-4zM426 62h4v4h-4zM430 62h4v4h-4zM522 62h4v4h-4zM526 62h4v4h-4zM662 62h4v4h-4zM418 66h4v4h-4zM422 66h4v4h-4zM426 66h4v4h-4zM430 66h4v4h-4zM518 66h4v4h-4zM566 66h4v4h-4zM646 66h4v4h-4zM418 70h4v4h-4zM422 70h4v4h-4zM426 70h4v4h-4zM430 70h4v4h-4zM518 70h4v4h-4zM666 70h4v4h-4zM414 74h4v4h-4zM426 74h4v4h-4zM518 74h4v4h-4zM570 74h4v4h-4zM650 74h4v4h-4zM670 74h4v4h-4zM410 78h4v4h-4zM422 78h4v4h-4zM426 78h4v4h-4zM518 78h4v4h-4zM570 78h4v4h-4zM674 78h4v4h-4zM406 82h4v4h-4zM422 82h4v4h-4zM522 82h4v4h-4zM570 82h4v4h-4zM406 86h4v4h-4zM422 86h4v4h-4zM522 86h4v4h-4zM570 86h4v4h-4zM406 90h4v4h-4zM418 90h4v4h-4zM526 90h4v4h-4zM570 90h4v4h-4zM406 94h4v4h-4zM410 94h4v4h-4zM414 94h4v4h-4zM530 94h4v4h-4zM570 94h4v4h-4zM534 98h4v4h-4zM570 98h4v4h-4zM538 106h4v4h-4zM574 106h4v4h-4zM538 110h4v4h-4zM578 110h4v4h-4zM650 110h4v4h-4zM582 114h4v4h-4zM534 118h4v4h-4zM586 118h4v4h-4zM530 126h4v4h-4zM602 130h4v4h-4zM634 130h4v4h-4zM526 134h4v4h-4zM610 134h4v4h-4zM526 138h4v4h-4zM530 146h4v4h-4zM534 154h4v4h-4zM538 158h4v4h-4zM542 166h4v4h-4zM542 170h4v4h-4zM542 182h4v4h-4zM542 186h4v4h-4zM610 186h4v4h-4zM578 190h4v4h-4zM618 190h4v4h-4zM746 190h4v4h-4zM538 194h4v4h-4zM574 194h4v4h-4zM534 202h4v4h-4zM634 202h4v4h-4zM570 206h4v4h-4zM530 210h4v4h-4zM522 218h4v4h-4zM650 218h4v4h-4zM306 226h4v4h-4zM318 226h4v4h-4zM562 226h4v4h-4zM294 230h4v4h-4zM554 230h4v4h-4zM654 230h4v4h-4zM538 234h4v4h-4zM534 238h4v4h-4zM438 242h4v4h-4zM534 242h4v4h-4zM654 246h4v4h-4zM270 254h4v4h-4zM534 254h4v4h-4zM594 254h4v4h-4zM598 254h4v4h-4zM602 254h4v4h-4zM606 254h4v4h-4zM610 254h4v4h-4zM650 254h4v4h-4zM266 258h4v4h-4zM630 258h4v4h-4zM538 266h4v4h-4zM358 270h4v4h-4zM430 274h4v4h-4zM542 278h4v4h-4zM418 282h4v4h-4zM390 286h4v4h-4zM394 286h4v4h-4zM398 286h4v4h-4zM402 286h4v4h-4zM706 318h4v4h-4zM686 330h4v4h-4zM682 358h4v4h-4z"/>
<path fill="#ec0000" d="M650 50h4v4h-4zM646 54h4v4h-4zM658 54h4v4h-4zM546 58h4v4h-4zM550 58h4v4h-4zM554 58h4v4h-4zM646 58h4v4h-4zM530 62h4v4h-4zM534 62h4v4h-4zM562 62h4v4h-4zM646 62h4v4h-4zM522 66h4v4h-4zM526 66h4v4h-4zM662 66h4v4h-4zM522 70h4v4h-4zM566 70h4v4h-4zM650 70h4v4h-4zM418 74h4v4h-4zM422 74h4v4h-4zM522 74h4v4h-4zM666 74h4v4h-4zM414 78h4v4h-4zM418 78h4v4h-4zM522 78h4v4h-4zM654 78h4v4h-4zM410 82h4v4h-4zM414 82h4v4h-4zM418 82h4v4h-4zM566 82h4v4h-4zM654 82h4v4h-4zM410 86h4v4h-4zM414 86h4v4h-4zM418 86h4v4h-4zM526 86h4v4h-4zM566 86h4v4h-4zM654 86h4v4h-4zM410 90h4v4h-4zM414 90h4v4h-4zM530 90h4v4h-4zM566 90h4v4h-4zM654 90h4v4h-4zM534 94h4v4h-4zM566 94h4v4h-4zM654 94h4v4h-4zM538 98h4v4h-4zM654 98h4v4h-4zM538 102h4v4h-4zM570 102h4v4h-4zM654 102h4v4h-4zM542 106h4v4h-4zM538 114h4v4h-4zM650 114h4v4h-4zM686 114h4v4h-4zM538 118h4v4h-4zM686 118h4v4h-4zM534 122h4v4h-4zM590 122h4v4h-4zM646 122h4v4h-4zM686 122h4v4h-4zM594 126h4v4h-4zM642 126h4v4h-4zM530 130h4v4h-4zM606 134h4v4h-4zM630 134h4v4h-4zM690 134h4v4h-4zM618 138h4v4h-4zM622 138h4v4h-4zM530 142h4v4h-4zM534 150h4v4h-4zM702 150h4v4h-4zM542 162h4v4h-4zM546 170h4v4h-4zM546 174h4v4h-4zM546 178h4v4h-4zM590 182h4v4h-4zM594 182h4v4h-4zM598 182h4v4h-4zM602 182h4v4h-4zM734 182h4v4h-4zM582 186h4v4h-4zM738 186h4v4h-4zM542 190h4v4h-4zM750 194h4v4h-4zM538 198h4v4h-4zM630 198h4v4h-4zM762 198h4v4h-4zM570 202h4v4h-4zM534 206h4v4h-4zM530 214h4v4h-4zM526 218h4v4h-4zM566 218h4v4h-4zM458 222h4v4h-4zM514 222h4v4h-4zM518 222h4v4h-4zM522 222h4v4h-4zM310 226h4v4h-4zM314 226h4v4h-4zM654 226h4v4h-4zM330 230h4v4h-4zM538 230h4v4h-4zM542 230h4v4h-4zM546 230h4v4h-4zM550 230h4v4h-4zM290 234h4v4h-4zM338 234h4v4h-4zM442 234h4v4h-4zM534 234h4v4h-4zM286 238h4v4h-4zM342 238h4v4h-4zM282 242h4v4h-4zM346 242h4v4h-4zM278 246h4v4h-4zM438 246h4v4h-4zM274 250h4v4h-4zM350 250h4v4h-4zM534 258h4v4h-4zM582 258h4v4h-4zM626 258h4v4h-4zM646 258h4v4h-4zM262 262h4v4h-4zM354 262h4v4h-4zM574 266h4v4h-4zM434 270h4v4h-4zM538 270h4v4h-4zM570 274h4v4h-4zM426 278h4v4h-4zM370 282h4v4h-4zM386 286h4v4h-4zM406 286h4v4h-4zM554 290h4v4h-4zM558 290h4v4h-4zM698 318h4v4h-4zM710 318h4v4h-4zM682 338h4v4h-4z"/>
<path fill="#eb0000" d="M654 50h4v4h-4zM650 54h4v4h-4zM650 58h4v4h-4zM658 58h4v4h-4zM538 62h4v4h-4zM650 62h4v4h-4zM658 62h4v4h-4zM530 66h4v4h-4zM562 66h4v4h-4zM650 66h4v4h-4zM654 66h4v4h-4zM658 66h4v4h-4zM526 70h4v4h-4zM654 70h4v4h-4zM658 70h4v4h-4zM662 70h4v4h-4zM526 74h4v4h-4zM566 74h4v4h-4zM654 74h4v4h-4zM658 74h4v4h-4zM662 74h4v4h-4zM526 78h4v4h-4zM566 78h4v4h-4zM670 78h4v4h-4zM526 82h4v4h-4zM678 82h4v4h-4zM530 86h4v4h-4zM682 86h4v4h-4zM534 90h4v4h-4zM562 90h4v4h-4zM686 90h4v4h-4zM538 94h4v4h-4zM562 94h4v4h-4zM542 98h4v4h-4zM566 98h4v4h-4zM542 102h4v4h-4zM566 102h4v4h-4zM570 106h4v4h-4zM654 106h4v4h-4zM686 106h4v4h-4zM542 110h4v4h-4zM574 110h4v4h-4zM686 110h4v4h-4zM542 114h4v4h-4zM578 114h4v4h-4zM582 118h4v4h-4zM650 118h4v4h-4zM686 126h4v4h-4zM598 130h4v4h-4zM638 130h4v4h-4zM530 134h4v4h-4zM530 138h4v4h-4zM614 138h4v4h-4zM626 138h4v4h-4zM694 142h4v4h-4zM534 146h4v4h-4zM698 146h4v4h-4zM538 154h4v4h-4zM706 154h4v4h-4zM542 158h4v4h-4zM710 158h4v4h-4zM546 166h4v4h-4zM726 174h4v4h-4zM730 178h4v4h-4zM546 182h4v4h-4zM586 182h4v4h-4zM606 182h4v4h-4zM546 186h4v4h-4zM578 186h4v4h-4zM614 186h4v4h-4zM574 190h4v4h-4zM742 190h4v4h-4zM542 194h4v4h-4zM570 194h4v4h-4zM626 194h4v4h-4zM570 198h4v4h-4zM758 198h4v4h-4zM538 202h4v4h-4zM642 206h4v4h-4zM534 210h4v4h-4zM646 210h4v4h-4zM534 214h4v4h-4zM530 218h4v4h-4zM498 222h4v4h-4zM502 222h4v4h-4zM506 222h4v4h-4zM510 222h4v4h-4zM526 222h4v4h-4zM530 222h4v4h-4zM654 222h4v4h-4zM450 226h4v4h-4zM526 226h4v4h-4zM530 226h4v4h-4zM534 226h4v4h-4zM538 226h4v4h-4zM558 226h4v4h-4zM530 230h4v4h-4zM534 230h4v4h-4zM530 234h4v4h-4zM530 238h4v4h-4zM530 242h4v4h-4zM530 246h4v4h-4zM438 250h4v4h-4zM654 250h4v4h-4zM438 254h4v4h-4zM438 258h4v4h-4zM438 262h4v4h-4zM578 262h4v4h-4zM538 274h4v4h-4zM362 278h4v4h-4zM542 282h4v4h-4zM382 286h4v4h-4zM546 286h4v4h-4zM566 286h4v4h-4zM714 322h4v4h-4zM718 334h4v4h-4zM718 338h4v4h-4zM714 354h4v4h-4zM702 366h4v4h-4z"/>
<path fill="#ffe582" d="M102 54h4v4h-4zM98 66h4v4h-4z"/>
<path fill="#ffdf7d" d="M106 54h4v4h-4zM102 70h4v4h-4zM98 78h4v4h-4zM94 86h4v4h-4zM266 150h4v4h-4zM270 154h4v4h-4zM270 158h4v4h-4zM266 162h4v4h-4z"/>
<path fill="#ffda78" d="M110 54h4v4h-4zM106 70h4v4h-4zM102 82h4v4h-4zM98 90h4v4h-4zM266 142h4v4h-4z"/>
<path fill="#ffd374" d="M114 54h4v4h-4zM110 74h4v4h-4zM106 90h4v4h-4zM270 138h4v4h-4zM274 142h4v4h-4zM278 146h4v4h-4z"/>
<path fill="#ffcc70" d="M118 54h4v4h-4zM114 82h4v4h-4zM286 170h4v4h-4z"/>
<path fill="#ffc56c" d="M122 54h4v4h-4zM286 174h4v4h-4zM262 178h4v4h-4zM266 178h4v4h-4zM270 178h4v4h-4z"/>
<path fill="#ffbe69" d="M126 54h4v4h-4zM274 126h4v4h-4z"/>
<path fill="#ff8c4f" d="M162 54h4v4h-4zM166 62h4v4h-4zM174 70h4v4h-4zM182 74h4v4h-4zM262 82h4v4h-4zM282 102h4v4h-4zM262 194h4v4h-4z"/>
<path fill="#ff884d" d="M166 54h4v4h-4zM202 74h4v4h-4zM206 74h4v4h-4zM210 74h4v4h-4zM214 74h4v4h-4zM218 74h4v4h-4zM222 74h4v4h-4zM254 74h4v4h-4zM266 82h4v4h-4zM278 94h4v4h-4zM306 142h4v4h-4zM310 154h4v4h-4zM310 174h4v4h-4zM298 186h4v4h-4z"/>
<path fill="#ff7f48" d="M178 54h4v4h-4zM182 58h4v4h-4zM294 110h4v4h-4zM302 126h4v4h-4zM314 162h4v4h-4zM314 166h4v4h-4z"/>
<path fill="#ff7543" d="M194 54h4v4h-4zM202 58h4v4h-4zM222 62h4v4h-4zM226 62h4v4h-4zM230 62h4v4h-4z"/>
<path fill="#ff7041" d="M202 54h4v4h-4zM214 58h4v4h-4zM246 58h4v4h-4zM262 62h4v4h-4zM286 86h4v4h-4zM318 158h4v4h-4zM318 166h4v4h-4z"/>
<path fill="#ff6d3f" d="M210 54h4v4h-4zM310 130h4v4h-4z"/>
<path fill="#ff6b3f" d="M214 54h4v4h-4zM286 82h4v4h-4zM306 118h4v4h-4z"/>
<path fill="#ea0000" d="M654 54h4v4h-4zM654 58h4v4h-4zM542 62h4v4h-4zM546 62h4v4h-4zM558 62h4v4h-4zM654 62h4v4h-4zM534 66h4v4h-4zM530 70h4v4h-4zM562 70h4v4h-4zM530 74h4v4h-4zM562 74h4v4h-4zM530 78h4v4h-4zM562 78h4v4h-4zM658 78h4v4h-4zM662 78h4v4h-4zM666 78h4v4h-4zM530 82h4v4h-4zM534 82h4v4h-4zM562 82h4v4h-4zM658 82h4v4h-4zM674 82h4v4h-4zM534 86h4v4h-4zM562 86h4v4h-4zM658 86h4v4h-4zM538 90h4v4h-4zM542 90h4v4h-4zM558 90h4v4h-4zM658 90h4v4h-4zM542 94h4v4h-4zM546 94h4v4h-4zM558 94h4v4h-4zM686 94h4v4h-4zM546 98h4v4h-4zM550 98h4v4h-4zM554 98h4v4h-4zM558 98h4v4h-4zM562 98h4v4h-4zM686 98h4v4h-4zM546 102h4v4h-4zM550 102h4v4h-4zM554 102h4v4h-4zM558 102h4v4h-4zM562 102h4v4h-4zM686 102h4v4h-4zM546 106h4v4h-4zM550 106h4v4h-4zM562 106h4v4h-4zM566 106h4v4h-4zM546 110h4v4h-4zM570 110h4v4h-4zM654 110h4v4h-4zM546 114h4v4h-4zM574 114h4v4h-4zM542 118h4v4h-4zM578 118h4v4h-4zM538 122h4v4h-4zM586 122h4v4h-4zM534 126h4v4h-4zM590 126h4v4h-4zM686 130h4v4h-4zM602 134h4v4h-4zM634 134h4v4h-4zM610 138h4v4h-4zM534 142h4v4h-4zM618 142h4v4h-4zM538 150h4v4h-4zM542 154h4v4h-4zM546 162h4v4h-4zM714 162h4v4h-4zM550 166h4v4h-4zM718 166h4v4h-4zM550 170h4v4h-4zM722 170h4v4h-4zM550 174h4v4h-4zM550 178h4v4h-4zM550 182h4v4h-4zM582 182h4v4h-4zM610 182h4v4h-4zM550 186h4v4h-4zM574 186h4v4h-4zM546 190h4v4h-4zM570 190h4v4h-4zM622 190h4v4h-4zM746 194h4v4h-4zM542 198h4v4h-4zM754 198h4v4h-4zM638 202h4v4h-4zM538 206h4v4h-4zM566 206h4v4h-4zM538 210h4v4h-4zM566 210h4v4h-4zM566 214h4v4h-4zM650 214h4v4h-4zM534 218h4v4h-4zM462 222h4v4h-4zM466 222h4v4h-4zM486 222h4v4h-4zM490 222h4v4h-4zM494 222h4v4h-4zM534 222h4v4h-4zM538 222h4v4h-4zM562 222h4v4h-4zM518 226h4v4h-4zM522 226h4v4h-4zM542 226h4v4h-4zM546 226h4v4h-4zM550 226h4v4h-4zM554 226h4v4h-4zM298 230h4v4h-4zM326 230h4v4h-4zM446 230h4v4h-4zM526 230h4v4h-4zM334 234h4v4h-4zM346 246h4v4h-4zM530 250h4v4h-4zM274 254h4v4h-4zM350 254h4v4h-4zM270 258h4v4h-4zM622 258h4v4h-4zM266 262h4v4h-4zM534 262h4v4h-4zM354 266h4v4h-4zM438 266h4v4h-4zM358 274h4v4h-4zM570 278h4v4h-4zM366 282h4v4h-4zM422 282h4v4h-4zM410 286h4v4h-4zM550 290h4v4h-4zM562 290h4v4h-4zM702 314h4v4h-4zM706 314h4v4h-4zM694 318h4v4h-4zM690 322h4v4h-4zM718 342h4v4h-4zM682 362h4v4h-4zM686 366h4v4h-4z"/>
<path fill="#ff261a" d="M738 54h4v4h-4zM378 114h4v4h-4zM398 134h4v4h-4zM398 158h4v4h-4zM382 166h4v4h-4zM462 194h4v4h-4zM430 210h4v4h-4zM394 262h4v4h-4z"/>
<path fill="#ffe886" d="M98 58h4v4h-4zM90 74h4v4h-4zM14 86h4v4h-4zM78 86h4v4h-4zM26 90h4v4h-4zM70 90h4v4h-4zM46 94h4v4h-4zM50 94h4v4h-4zM54 94h4v4h-4zM58 94h4v4h-4z"/>
<path fill="#ffe381" d="M102 58h4v4h-4zM98 70h4v4h-4zM94 78h4v4h-4z"/>
<path fill="#ffde7c" d="M106 58h4v4h-4zM98 82h4v4h-4zM90 94h4v4h-4zM262 146h4v4h-4zM274 158h4v4h-4zM262 162h4v4h-4zM270 162h4v4h-4z"/>
<path fill="#ffd877" d="M110 58h4v4h-4zM106 74h4v4h-4zM102 86h4v4h-4zM262 138h4v4h-4z"/>
<path fill="#ffd273" d="M114 58h4v4h-4zM110 78h4v4h-4zM266 134h4v4h-4z"/>
<path fill="#ffcb70" d="M118 58h4v4h-4zM114 86h4v4h-4zM262 126h4v4h-4z"/>
<path fill="#ffb764" d="M130 58h4v4h-4zM134 94h4v4h-4zM274 182h4v4h-4z"/>
<path fill="#ffa95e" d="M138 58h4v4h-4zM138 66h4v4h-4zM302 170h4v4h-4z"/>
<path fill="#ffa35b" d="M142 58h4v4h-4zM142 62h4v4h-4zM150 82h4v4h-4zM154 86h4v4h-4zM230 90h4v4h-4zM170 94h4v4h-4zM198 94h4v4h-4z"/>
<path fill="#ff9553" d="M154 58h4v4h-4zM170 78h4v4h-4zM182 82h4v4h-4zM218 82h4v4h-4zM302 142h4v4h-4z"/>
<path fill="#ff9151" d="M158 58h4v4h-4zM162 66h4v4h-4zM182 78h4v4h-4zM242 78h4v4h-4z"/>
<path fill="#ff8d4f" d="M162 58h4v4h-4zM290 114h4v4h-4zM310 162h4v4h-4z"/>
<path fill="#ff814a" d="M178 58h4v4h-4zM282 94h4v4h-4z"/>
<path fill="#ff7a46" d="M190 58h4v4h-4zM258 66h4v4h-4zM294 106h4v4h-4zM302 122h4v4h-4z"/>
<path fill="#fff492" d="M46 62h4v4h-4z"/>
<path fill="#ffe280" d="M102 62h4v4h-4zM90 86h4v4h-4zM86 90h4v4h-4zM82 94h4v4h-4z"/>
<path fill="#ffdd7b" d="M106 62h4v4h-4zM102 74h4v4h-4zM94 90h4v4h-4zM266 146h4v4h-4zM270 150h4v4h-4zM274 154h4v4h-4zM274 162h4v4h-4z"/>
<path fill="#ff9252" d="M158 62h4v4h-4zM178 78h4v4h-4zM262 86h4v4h-4zM282 106h4v4h-4zM290 118h4v4h-4zM306 150h4v4h-4z"/>
<path fill="#ff7544" d="M218 62h4v4h-4zM234 62h4v4h-4zM302 118h4v4h-4zM306 186h4v4h-4zM298 190h4v4h-4z"/>
<path fill="#e90000" d="M550 62h4v4h-4zM554 62h4v4h-4zM538 66h4v4h-4zM542 66h4v4h-4zM558 66h4v4h-4zM534 70h4v4h-4zM534 74h4v4h-4zM534 78h4v4h-4zM538 82h4v4h-4zM558 82h4v4h-4zM662 82h4v4h-4zM666 82h4v4h-4zM670 82h4v4h-4zM538 86h4v4h-4zM542 86h4v4h-4zM554 86h4v4h-4zM558 86h4v4h-4zM678 86h4v4h-4zM546 90h4v4h-4zM550 90h4v4h-4zM554 90h4v4h-4zM550 94h4v4h-4zM554 94h4v4h-4zM658 94h4v4h-4zM658 98h4v4h-4zM658 102h4v4h-4zM554 106h4v4h-4zM558 106h4v4h-4zM550 110h4v4h-4zM554 110h4v4h-4zM558 110h4v4h-4zM562 110h4v4h-4zM566 110h4v4h-4zM550 114h4v4h-4zM570 114h4v4h-4zM654 114h4v4h-4zM546 118h4v4h-4zM542 122h4v4h-4zM582 122h4v4h-4zM650 122h4v4h-4zM538 126h4v4h-4zM646 126h4v4h-4zM534 130h4v4h-4zM594 130h4v4h-4zM642 130h4v4h-4zM534 134h4v4h-4zM534 138h4v4h-4zM606 138h4v4h-4zM630 138h4v4h-4zM690 138h4v4h-4zM614 142h4v4h-4zM622 142h4v4h-4zM538 146h4v4h-4zM542 150h4v4h-4zM546 158h4v4h-4zM550 162h4v4h-4zM554 170h4v4h-4zM554 174h4v4h-4zM554 178h4v4h-4zM590 178h4v4h-4zM594 178h4v4h-4zM598 178h4v4h-4zM602 178h4v4h-4zM554 182h4v4h-4zM578 182h4v4h-4zM554 186h4v4h-4zM570 186h4v4h-4zM618 186h4v4h-4zM734 186h4v4h-4zM550 190h4v4h-4zM566 190h4v4h-4zM738 190h4v4h-4zM546 194h4v4h-4zM566 194h4v4h-4zM566 198h4v4h-4zM634 198h4v4h-4zM750 198h4v4h-4zM542 202h4v4h-4zM566 202h4v4h-4zM762 202h4v4h-4zM538 214h4v4h-4zM538 218h4v4h-4zM654 218h4v4h-4zM470 222h4v4h-4zM474 222h4v4h-4zM478 222h4v4h-4zM482 222h4v4h-4zM542 222h4v4h-4zM558 222h4v4h-4zM510 226h4v4h-4zM514 226h4v4h-4zM302 230h4v4h-4zM322 230h4v4h-4zM522 230h4v4h-4zM658 230h4v4h-4zM294 234h4v4h-4zM526 234h4v4h-4zM658 234h4v4h-4zM338 238h4v4h-4zM442 238h4v4h-4zM526 238h4v4h-4zM658 238h4v4h-4zM342 242h4v4h-4zM282 246h4v4h-4zM278 250h4v4h-4zM530 254h4v4h-4zM654 254h4v4h-4zM350 258h4v4h-4zM586 258h4v4h-4zM618 258h4v4h-4zM650 258h4v4h-4zM262 266h4v4h-4zM534 266h4v4h-4zM354 270h4v4h-4zM574 270h4v4h-4zM434 274h4v4h-4zM430 278h4v4h-4zM538 278h4v4h-4zM378 286h4v4h-4zM698 314h4v4h-4zM710 314h4v4h-4zM714 318h4v4h-4zM686 326h4v4h-4zM718 330h4v4h-4zM682 334h4v4h-4z"/>
<path fill="#ffec8a" d="M90 66h4v4h-4zM18 74h4v4h-4zM26 78h4v4h-4zM54 86h4v4h-4zM58 86h4v4h-4z"/>
<path fill="#ffe986" d="M94 66h4v4h-4zM86 78h4v4h-4zM82 82h4v4h-4zM18 86h4v4h-4zM30 90h4v4h-4z"/>
<path fill="#ff9755" d="M154 66h4v4h-4zM238 82h4v4h-4zM242 82h4v4h-4zM270 190h4v4h-4z"/>
<path fill="#ff8b4f" d="M170 66h4v4h-4zM186 74h4v4h-4zM310 158h4v4h-4zM310 170h4v4h-4zM282 190h4v4h-4z"/>
<path fill="#ff874d" d="M178 66h4v4h-4zM186 70h4v4h-4zM262 78h4v4h-4zM290 110h4v4h-4z"/>
<path fill="#ff854c" d="M182 66h4v4h-4zM258 74h4v4h-4z"/>
<path fill="#ff7d48" d="M206 66h4v4h-4zM242 66h4v4h-4zM250 66h4v4h-4zM266 74h4v4h-4zM278 86h4v4h-4zM290 102h4v4h-4zM314 158h4v4h-4zM278 194h4v4h-4z"/>
<path fill="#ff5d38" d="M282 66h4v4h-4z"/>
<path fill="#e80000" d="M546 66h4v4h-4zM550 66h4v4h-4zM554 66h4v4h-4zM538 70h4v4h-4zM542 70h4v4h-4zM558 70h4v4h-4zM538 74h4v4h-4zM558 74h4v4h-4zM538 78h4v4h-4zM542 78h4v4h-4zM554 78h4v4h-4zM558 78h4v4h-4zM542 82h4v4h-4zM546 82h4v4h-4zM550 82h4v4h-4zM554 82h4v4h-4zM546 86h4v4h-4zM550 86h4v4h-4zM662 86h4v4h-4zM662 90h4v4h-4zM682 90h4v4h-4zM658 106h4v4h-4zM658 110h4v4h-4zM682 110h4v4h-4zM554 114h4v4h-4zM558 114h4v4h-4zM562 114h4v4h-4zM566 114h4v4h-4zM682 114h4v4h-4zM550 118h4v4h-4zM570 118h4v4h-4zM574 118h4v4h-4zM654 118h4v4h-4zM682 118h4v4h-4zM546 122h4v4h-4zM578 122h4v4h-4zM682 122h4v4h-4zM586 126h4v4h-4zM538 130h4v4h-4zM538 134h4v4h-4zM598 134h4v4h-4zM638 134h4v4h-4zM686 134h4v4h-4zM538 138h4v4h-4zM538 142h4v4h-4zM610 142h4v4h-4zM626 142h4v4h-4zM542 146h4v4h-4zM546 154h4v4h-4zM550 158h4v4h-4zM554 166h4v4h-4zM558 174h4v4h-4zM558 178h4v4h-4zM586 178h4v4h-4zM606 178h4v4h-4zM558 182h4v4h-4zM562 182h4v4h-4zM566 182h4v4h-4zM570 182h4v4h-4zM574 182h4v4h-4zM614 182h4v4h-4zM730 182h4v4h-4zM558 186h4v4h-4zM562 186h4v4h-4zM566 186h4v4h-4zM554 190h4v4h-4zM558 190h4v4h-4zM562 190h4v4h-4zM550 194h4v4h-4zM562 194h4v4h-4zM630 194h4v4h-4zM742 194h4v4h-4zM546 198h4v4h-4zM562 198h4v4h-4zM546 202h4v4h-4zM562 202h4v4h-4zM758 202h4v4h-4zM542 206h4v4h-4zM646 206h4v4h-4zM542 210h4v4h-4zM650 210h4v4h-4zM542 214h4v4h-4zM542 218h4v4h-4zM562 218h4v4h-4zM546 222h4v4h-4zM550 222h4v4h-4zM554 222h4v4h-4zM506 226h4v4h-4zM658 226h4v4h-4zM306 230h4v4h-4zM318 230h4v4h-4zM518 230h4v4h-4zM330 234h4v4h-4zM522 234h4v4h-4zM290 238h4v4h-4zM286 242h4v4h-4zM442 242h4v4h-4zM526 242h4v4h-4zM658 242h4v4h-4zM346 250h4v4h-4zM442 254h4v4h-4zM442 258h4v4h-4zM442 262h4v4h-4zM634 262h4v4h-4zM638 262h4v4h-4zM642 262h4v4h-4zM438 270h4v4h-4zM358 278h4v4h-4zM570 282h4v4h-4zM374 286h4v4h-4zM414 286h4v4h-4zM542 286h4v4h-4zM718 326h4v4h-4zM718 346h4v4h-4zM678 350h4v4h-4zM678 354h4v4h-4z"/>
<path fill="#ffed8b" d="M18 70h4v4h-4zM86 70h4v4h-4zM26 74h4v4h-4zM82 74h4v4h-4zM34 78h4v4h-4z"/>
<path fill="#ffce72" d="M114 70h4v4h-4zM274 138h4v4h-4zM274 174h4v4h-4z"/>
<path fill="#ffa55b" d="M142 70h4v4h-4zM206 94h4v4h-4zM254 94h4v4h-4zM302 154h4v4h-4z"/>
<path fill="#ff9d57" d="M150 70h4v4h-4zM246 86h4v4h-4zM306 166h4v4h-4z"/>
<path fill="#ff834a" d="M206 70h4v4h-4zM234 70h4v4h-4zM266 78h4v4h-4zM278 90h4v4h-4zM306 138h4v4h-4z"/>
<path fill="#ff7342" d="M270 70h4v4h-4zM278 78h4v4h-4zM314 178h4v4h-4z"/>
<path fill="#e70000" d="M546 70h4v4h-4zM550 70h4v4h-4zM554 70h4v4h-4zM542 74h4v4h-4zM546 74h4v4h-4zM550 74h4v4h-4zM554 74h4v4h-4zM546 78h4v4h-4zM550 78h4v4h-4zM666 86h4v4h-4zM670 86h4v4h-4zM674 86h4v4h-4zM678 90h4v4h-4zM662 94h4v4h-4zM682 94h4v4h-4zM662 98h4v4h-4zM682 98h4v4h-4zM682 102h4v4h-4zM682 106h4v4h-4zM658 114h4v4h-4zM554 118h4v4h-4zM558 118h4v4h-4zM562 118h4v4h-4zM566 118h4v4h-4zM550 122h4v4h-4zM574 122h4v4h-4zM542 126h4v4h-4zM546 126h4v4h-4zM582 126h4v4h-4zM650 126h4v4h-4zM682 126h4v4h-4zM542 130h4v4h-4zM590 130h4v4h-4zM602 138h4v4h-4zM634 138h4v4h-4zM542 142h4v4h-4zM618 146h4v4h-4zM622 146h4v4h-4zM694 146h4v4h-4zM546 150h4v4h-4zM698 150h4v4h-4zM550 154h4v4h-4zM554 162h4v4h-4zM558 166h4v4h-4zM558 170h4v4h-4zM562 174h4v4h-4zM562 178h4v4h-4zM566 178h4v4h-4zM570 178h4v4h-4zM574 178h4v4h-4zM578 178h4v4h-4zM582 178h4v4h-4zM726 178h4v4h-4zM626 190h4v4h-4zM554 194h4v4h-4zM558 194h4v4h-4zM550 198h4v4h-4zM554 198h4v4h-4zM558 198h4v4h-4zM746 198h4v4h-4zM550 202h4v4h-4zM642 202h4v4h-4zM754 202h4v4h-4zM546 206h4v4h-4zM562 206h4v4h-4zM546 210h4v4h-4zM562 210h4v4h-4zM546 214h4v4h-4zM562 214h4v4h-4zM654 214h4v4h-4zM546 218h4v4h-4zM550 218h4v4h-4zM558 218h4v4h-4zM658 222h4v4h-4zM502 226h4v4h-4zM310 230h4v4h-4zM314 230h4v4h-4zM514 230h4v4h-4zM298 234h4v4h-4zM522 238h4v4h-4zM442 246h4v4h-4zM526 246h4v4h-4zM658 246h4v4h-4zM442 250h4v4h-4zM278 254h4v4h-4zM274 258h4v4h-4zM530 258h4v4h-4zM590 258h4v4h-4zM614 258h4v4h-4zM270 262h4v4h-4zM350 262h4v4h-4zM582 262h4v4h-4zM630 262h4v4h-4zM646 262h4v4h-4zM266 266h4v4h-4zM442 266h4v4h-4zM578 266h4v4h-4zM534 270h4v4h-4zM362 282h4v4h-4zM426 282h4v4h-4zM546 290h4v4h-4zM554 294h4v4h-4zM558 294h4v4h-4zM702 310h4v4h-4zM706 310h4v4h-4zM694 314h4v4h-4zM678 346h4v4h-4zM678 358h4v4h-4zM710 362h4v4h-4z"/>
<path fill="#ff2219" d="M710 70h4v4h-4zM714 94h4v4h-4zM714 98h4v4h-4zM370 102h4v4h-4zM754 158h4v4h-4z"/>
<path fill="#ffec89" d="M14 74h4v4h-4zM22 78h4v4h-4zM34 82h4v4h-4zM74 82h4v4h-4zM46 86h4v4h-4zM50 86h4v4h-4zM62 86h4v4h-4z"/>
<path fill="#ffab5f" d="M138 74h4v4h-4zM146 90h4v4h-4zM266 106h4v4h-4zM290 134h4v4h-4z"/>
<path fill="#ff9855" d="M158 74h4v4h-4zM170 82h4v4h-4zM194 86h4v4h-4zM262 90h4v4h-4zM282 110h4v4h-4zM290 122h4v4h-4z"/>
<path fill="#ff9152" d="M170 74h4v4h-4z"/>
<path fill="#ff8f51" d="M174 74h4v4h-4zM250 78h4v4h-4zM294 186h4v4h-4z"/>
<path fill="#ff7945" d="M270 74h4v4h-4zM274 78h4v4h-4zM306 130h4v4h-4zM314 174h4v4h-4zM266 198h4v4h-4z"/>
<path fill="#ff5b37" d="M290 74h4v4h-4zM302 194h4v4h-4z"/>
<path fill="#ffdc79" d="M102 78h4v4h-4z"/>
<path fill="#ffc76d" d="M118 78h4v4h-4zM118 82h4v4h-4z"/>
<path fill="#ffc26a" d="M122 78h4v4h-4zM122 82h4v4h-4zM122 86h4v4h-4z"/>
<path fill="#ff9754" d="M166 78h4v4h-4zM174 82h4v4h-4zM234 82h4v4h-4zM306 154h4v4h-4zM306 174h4v4h-4z"/>
<path fill="#ff8d50" d="M202 78h4v4h-4zM206 78h4v4h-4zM210 78h4v4h-4zM254 78h4v4h-4zM278 98h4v4h-4zM306 146h4v4h-4zM310 166h4v4h-4z"/>
<path fill="#ff472c" d="M306 78h4v4h-4zM746 82h4v4h-4zM318 98h4v4h-4zM322 118h4v4h-4zM330 142h4v4h-4z"/>
<path fill="#ffe482" d="M90 82h4v4h-4zM86 86h4v4h-4zM82 90h4v4h-4z"/>
<path fill="#ff9d58" d="M166 86h4v4h-4zM230 86h4v4h-4zM234 86h4v4h-4zM242 86h4v4h-4zM186 90h4v4h-4zM190 90h4v4h-4zM302 178h4v4h-4z"/>
<path fill="#ffe785" d="M14 90h4v4h-4zM18 90h4v4h-4zM74 90h4v4h-4zM30 94h4v4h-4zM34 94h4v4h-4zM66 94h4v4h-4z"/>
<path fill="#ffe885" d="M22 90h4v4h-4zM38 94h4v4h-4zM42 94h4v4h-4zM62 94h4v4h-4z"/>
<path fill="#ffb966" d="M130 90h4v4h-4zM294 174h4v4h-4zM262 182h4v4h-4zM266 182h4v4h-4z"/>
<path fill="#e60000" d="M666 90h4v4h-4zM670 90h4v4h-4zM674 90h4v4h-4zM666 94h4v4h-4zM662 102h4v4h-4zM662 106h4v4h-4zM658 118h4v4h-4zM554 122h4v4h-4zM558 122h4v4h-4zM562 122h4v4h-4zM566 122h4v4h-4zM570 122h4v4h-4zM654 122h4v4h-4zM550 126h4v4h-4zM578 126h4v4h-4zM546 130h4v4h-4zM586 130h4v4h-4zM646 130h4v4h-4zM682 130h4v4h-4zM542 134h4v4h-4zM594 134h4v4h-4zM642 134h4v4h-4zM542 138h4v4h-4zM546 142h4v4h-4zM606 142h4v4h-4zM630 142h4v4h-4zM690 142h4v4h-4zM546 146h4v4h-4zM614 146h4v4h-4zM626 146h4v4h-4zM550 150h4v4h-4zM702 154h4v4h-4zM554 158h4v4h-4zM706 158h4v4h-4zM558 162h4v4h-4zM562 170h4v4h-4zM718 170h4v4h-4zM566 174h4v4h-4zM590 174h4v4h-4zM594 174h4v4h-4zM598 174h4v4h-4zM722 174h4v4h-4zM610 178h4v4h-4zM622 186h4v4h-4zM734 190h4v4h-4zM738 194h4v4h-4zM638 198h4v4h-4zM742 198h4v4h-4zM554 202h4v4h-4zM558 202h4v4h-4zM750 202h4v4h-4zM550 206h4v4h-4zM554 206h4v4h-4zM558 206h4v4h-4zM550 210h4v4h-4zM558 210h4v4h-4zM550 214h4v4h-4zM558 214h4v4h-4zM554 218h4v4h-4zM454 226h4v4h-4zM494 226h4v4h-4zM498 226h4v4h-4zM510 230h4v4h-4zM326 234h4v4h-4zM446 234h4v4h-4zM518 234h4v4h-4zM334 238h4v4h-4zM522 242h4v4h-4zM286 246h4v4h-4zM342 246h4v4h-4zM282 250h4v4h-4zM526 250h4v4h-4zM658 250h4v4h-4zM346 254h4v4h-4zM594 258h4v4h-4zM610 258h4v4h-4zM530 262h4v4h-4zM350 266h4v4h-4zM262 270h4v4h-4zM354 274h4v4h-4zM438 274h4v4h-4zM534 274h4v4h-4zM574 274h4v4h-4zM434 278h4v4h-4zM538 282h4v4h-4zM370 286h4v4h-4zM418 286h4v4h-4zM566 290h4v4h-4zM698 310h4v4h-4zM710 310h4v4h-4zM714 314h4v4h-4zM690 318h4v4h-4zM718 322h4v4h-4zM682 330h4v4h-4zM678 342h4v4h-4zM682 366h4v4h-4zM706 366h4v4h-4z"/>
<path fill="#ffe481" d="M78 94h4v4h-4z"/>
<path fill="#ffd977" d="M98 94h4v4h-4z"/>
<path fill="#ffb363" d="M138 94h4v4h-4zM294 146h4v4h-4z"/>
<path fill="#ffad60" d="M146 94h4v4h-4zM294 142h4v4h-4z"/>
<path fill="#ff2117" d="M362 94h4v4h-4zM378 110h4v4h-4zM378 186h4v4h-4zM350 206h4v4h-4zM458 206h4v4h-4zM358 210h4v4h-4zM438 210h4v4h-4zM282 214h4v4h-4z"/>
<path fill="#e50000" d="M670 94h4v4h-4zM674 94h4v4h-4zM678 94h4v4h-4zM666 98h4v4h-4zM678 98h4v4h-4zM666 102h4v4h-4zM678 102h4v4h-4zM678 106h4v4h-4zM662 110h4v4h-4zM678 110h4v4h-4zM662 114h4v4h-4zM678 114h4v4h-4zM678 118h4v4h-4zM678 122h4v4h-4zM554 126h4v4h-4zM558 126h4v4h-4zM570 126h4v4h-4zM574 126h4v4h-4zM654 126h4v4h-4zM550 130h4v4h-4zM582 130h4v4h-4zM546 134h4v4h-4zM550 134h4v4h-4zM590 134h4v4h-4zM546 138h4v4h-4zM598 138h4v4h-4zM638 138h4v4h-4zM686 138h4v4h-4zM550 142h4v4h-4zM550 146h4v4h-4zM610 146h4v4h-4zM554 150h4v4h-4zM554 154h4v4h-4zM558 158h4v4h-4zM710 162h4v4h-4zM562 166h4v4h-4zM714 166h4v4h-4zM566 170h4v4h-4zM570 174h4v4h-4zM574 174h4v4h-4zM578 174h4v4h-4zM582 174h4v4h-4zM586 174h4v4h-4zM602 174h4v4h-4zM606 174h4v4h-4zM618 182h4v4h-4zM730 186h4v4h-4zM634 194h4v4h-4zM746 202h4v4h-4zM758 206h4v4h-4zM762 206h4v4h-4zM554 210h4v4h-4zM554 214h4v4h-4zM658 218h4v4h-4zM490 226h4v4h-4zM506 230h4v4h-4zM302 234h4v4h-4zM514 234h4v4h-4zM294 238h4v4h-4zM518 238h4v4h-4zM290 242h4v4h-4zM338 242h4v4h-4zM526 254h4v4h-4zM446 258h4v4h-4zM598 258h4v4h-4zM602 258h4v4h-4zM606 258h4v4h-4zM654 258h4v4h-4zM446 262h4v4h-4zM626 262h4v4h-4zM650 262h4v4h-4zM442 270h4v4h-4zM358 282h4v4h-4zM366 286h4v4h-4zM570 286h4v4h-4zM550 294h4v4h-4zM562 294h4v4h-4zM686 322h4v4h-4zM718 350h4v4h-4zM714 358h4v4h-4zM678 362h4v4h-4z"/>
<path fill="#e40000" d="M670 98h4v4h-4zM674 98h4v4h-4zM670 102h4v4h-4zM674 102h4v4h-4zM666 106h4v4h-4zM674 106h4v4h-4zM666 110h4v4h-4zM674 110h4v4h-4zM662 118h4v4h-4zM658 122h4v4h-4zM562 126h4v4h-4zM566 126h4v4h-4zM678 126h4v4h-4zM554 130h4v4h-4zM558 130h4v4h-4zM578 130h4v4h-4zM650 130h4v4h-4zM554 134h4v4h-4zM586 134h4v4h-4zM682 134h4v4h-4zM550 138h4v4h-4zM554 138h4v4h-4zM594 138h4v4h-4zM554 142h4v4h-4zM602 142h4v4h-4zM634 142h4v4h-4zM554 146h4v4h-4zM606 146h4v4h-4zM614 150h4v4h-4zM618 150h4v4h-4zM622 150h4v4h-4zM558 154h4v4h-4zM562 162h4v4h-4zM566 166h4v4h-4zM570 170h4v4h-4zM574 170h4v4h-4zM610 174h4v4h-4zM614 178h4v4h-4zM726 182h4v4h-4zM630 190h4v4h-4zM734 194h4v4h-4zM738 198h4v4h-4zM646 202h4v4h-4zM650 206h4v4h-4zM750 206h4v4h-4zM754 206h4v4h-4zM654 210h4v4h-4zM482 226h4v4h-4zM486 226h4v4h-4zM450 230h4v4h-4zM502 230h4v4h-4zM662 230h4v4h-4zM306 234h4v4h-4zM322 234h4v4h-4zM662 234h4v4h-4zM330 238h4v4h-4zM446 238h4v4h-4zM522 246h4v4h-4zM342 250h4v4h-4zM282 254h4v4h-4zM446 254h4v4h-4zM658 254h4v4h-4zM278 258h4v4h-4zM346 258h4v4h-4zM274 262h4v4h-4zM270 266h4v4h-4zM446 266h4v4h-4zM530 266h4v4h-4zM266 270h4v4h-4zM350 270h4v4h-4zM354 278h4v4h-4zM534 278h4v4h-4zM430 282h4v4h-4zM422 286h4v4h-4zM390 290h4v4h-4zM394 290h4v4h-4zM398 290h4v4h-4zM402 290h4v4h-4zM542 290h4v4h-4zM702 306h4v4h-4zM706 306h4v4h-4zM710 306h4v4h-4zM694 310h4v4h-4zM714 310h4v4h-4zM718 318h4v4h-4z"/>
<path fill="#e30000" d="M670 106h4v4h-4zM670 110h4v4h-4zM666 114h4v4h-4zM670 114h4v4h-4zM674 114h4v4h-4zM666 118h4v4h-4zM670 118h4v4h-4zM674 118h4v4h-4zM662 122h4v4h-4zM674 122h4v4h-4zM658 126h4v4h-4zM562 130h4v4h-4zM566 130h4v4h-4zM570 130h4v4h-4zM574 130h4v4h-4zM678 130h4v4h-4zM558 134h4v4h-4zM562 134h4v4h-4zM582 134h4v4h-4zM646 134h4v4h-4zM558 138h4v4h-4zM558 142h4v4h-4zM598 142h4v4h-4zM558 146h4v4h-4zM630 146h4v4h-4zM558 150h4v4h-4zM610 150h4v4h-4zM562 154h4v4h-4zM562 158h4v4h-4zM566 162h4v4h-4zM570 166h4v4h-4zM578 170h4v4h-4zM582 170h4v4h-4zM586 170h4v4h-4zM590 170h4v4h-4zM594 170h4v4h-4zM598 170h4v4h-4zM602 170h4v4h-4zM606 170h4v4h-4zM722 178h4v4h-4zM626 186h4v4h-4zM730 190h4v4h-4zM642 198h4v4h-4zM742 202h4v4h-4zM658 214h4v4h-4zM662 222h4v4h-4zM478 226h4v4h-4zM662 226h4v4h-4zM498 230h4v4h-4zM310 234h4v4h-4zM314 234h4v4h-4zM318 234h4v4h-4zM510 234h4v4h-4zM298 238h4v4h-4zM514 238h4v4h-4zM662 238h4v4h-4zM294 242h4v4h-4zM518 242h4v4h-4zM290 246h4v4h-4zM446 246h4v4h-4zM286 250h4v4h-4zM446 250h4v4h-4zM522 250h4v4h-4zM526 258h4v4h-4zM346 262h4v4h-4zM586 262h4v4h-4zM622 262h4v4h-4zM446 270h4v4h-4zM578 270h4v4h-4zM262 274h4v4h-4zM442 274h4v4h-4zM438 278h4v4h-4zM574 278h4v4h-4zM362 286h4v4h-4zM538 286h4v4h-4zM382 290h4v4h-4zM386 290h4v4h-4zM406 290h4v4h-4zM546 294h4v4h-4zM698 306h4v4h-4zM690 314h4v4h-4zM682 326h4v4h-4zM678 338h4v4h-4zM702 370h4v4h-4z"/>
<path fill="#ffb162" d="M266 110h4v4h-4z"/>
<path fill="#e20000" d="M666 122h4v4h-4zM670 122h4v4h-4zM662 126h4v4h-4zM674 126h4v4h-4zM654 130h4v4h-4zM566 134h4v4h-4zM570 134h4v4h-4zM574 134h4v4h-4zM578 134h4v4h-4zM650 134h4v4h-4zM562 138h4v4h-4zM590 138h4v4h-4zM642 138h4v4h-4zM682 138h4v4h-4zM562 142h4v4h-4zM686 142h4v4h-4zM562 146h4v4h-4zM602 146h4v4h-4zM690 146h4v4h-4zM562 150h4v4h-4zM606 150h4v4h-4zM626 150h4v4h-4zM694 150h4v4h-4zM610 154h4v4h-4zM614 154h4v4h-4zM618 154h4v4h-4zM566 158h4v4h-4zM570 162h4v4h-4zM574 166h4v4h-4zM610 170h4v4h-4zM614 174h4v4h-4zM718 174h4v4h-4zM618 178h4v4h-4zM622 182h4v4h-4zM726 186h4v4h-4zM638 194h4v4h-4zM734 198h4v4h-4zM738 202h4v4h-4zM746 206h4v4h-4zM754 210h4v4h-4zM758 210h4v4h-4zM762 210h4v4h-4zM458 226h4v4h-4zM470 226h4v4h-4zM474 226h4v4h-4zM494 230h4v4h-4zM506 234h4v4h-4zM326 238h4v4h-4zM334 242h4v4h-4zM446 242h4v4h-4zM662 242h4v4h-4zM338 246h4v4h-4zM662 246h4v4h-4zM342 254h4v4h-4zM282 258h4v4h-4zM658 258h4v4h-4zM278 262h4v4h-4zM654 262h4v4h-4zM274 266h4v4h-4zM638 266h4v4h-4zM642 266h4v4h-4zM270 270h4v4h-4zM530 270h4v4h-4zM350 274h4v4h-4zM354 282h4v4h-4zM434 282h4v4h-4zM534 282h4v4h-4zM378 290h4v4h-4zM410 290h4v4h-4zM566 294h4v4h-4zM702 302h4v4h-4zM706 302h4v4h-4zM714 306h4v4h-4zM718 314h4v4h-4zM686 318h4v4h-4zM722 330h4v4h-4zM722 334h4v4h-4zM678 366h4v4h-4zM682 370h4v4h-4z"/>
<path fill="#e10000" d="M666 126h4v4h-4zM670 126h4v4h-4zM658 130h4v4h-4zM674 130h4v4h-4zM678 134h4v4h-4zM566 138h4v4h-4zM570 138h4v4h-4zM574 138h4v4h-4zM578 138h4v4h-4zM582 138h4v4h-4zM586 138h4v4h-4zM566 142h4v4h-4zM594 142h4v4h-4zM638 142h4v4h-4zM566 146h4v4h-4zM598 146h4v4h-4zM634 146h4v4h-4zM566 150h4v4h-4zM566 154h4v4h-4zM606 154h4v4h-4zM622 154h4v4h-4zM698 154h4v4h-4zM570 158h4v4h-4zM702 158h4v4h-4zM574 162h4v4h-4zM578 166h4v4h-4zM582 166h4v4h-4zM586 166h4v4h-4zM594 166h4v4h-4zM598 166h4v4h-4zM602 166h4v4h-4zM606 166h4v4h-4zM714 170h4v4h-4zM634 190h4v4h-4zM730 194h4v4h-4zM650 202h4v4h-4zM654 206h4v4h-4zM742 206h4v4h-4zM658 210h4v4h-4zM750 210h4v4h-4zM662 218h4v4h-4zM462 226h4v4h-4zM466 226h4v4h-4zM490 230h4v4h-4zM302 238h4v4h-4zM510 238h4v4h-4zM514 242h4v4h-4zM518 246h4v4h-4zM286 254h4v4h-4zM450 254h4v4h-4zM522 254h4v4h-4zM450 258h4v4h-4zM450 262h4v4h-4zM526 262h4v4h-4zM618 262h4v4h-4zM346 266h4v4h-4zM450 266h4v4h-4zM582 266h4v4h-4zM634 266h4v4h-4zM646 266h4v4h-4zM266 274h4v4h-4zM446 274h4v4h-4zM530 274h4v4h-4zM350 278h4v4h-4zM442 278h4v4h-4zM358 286h4v4h-4zM426 286h4v4h-4zM374 290h4v4h-4zM570 290h4v4h-4zM554 298h4v4h-4zM558 298h4v4h-4zM698 302h4v4h-4zM710 302h4v4h-4zM694 306h4v4h-4zM690 310h4v4h-4zM718 310h4v4h-4zM722 326h4v4h-4zM678 334h4v4h-4zM722 338h4v4h-4zM674 354h4v4h-4zM718 354h4v4h-4z"/>
<path fill="#ffc96e" d="M270 130h4v4h-4zM290 158h4v4h-4z"/>
<path fill="#ffaf60" d="M286 130h4v4h-4z"/>
<path fill="#e00000" d="M662 130h4v4h-4zM666 130h4v4h-4zM670 130h4v4h-4zM654 134h4v4h-4zM674 134h4v4h-4zM646 138h4v4h-4zM570 142h4v4h-4zM574 142h4v4h-4zM586 142h4v4h-4zM590 142h4v4h-4zM570 146h4v4h-4zM570 150h4v4h-4zM602 150h4v4h-4zM630 150h4v4h-4zM570 154h4v4h-4zM574 158h4v4h-4zM606 158h4v4h-4zM610 158h4v4h-4zM614 158h4v4h-4zM618 158h4v4h-4zM578 162h4v4h-4zM602 162h4v4h-4zM606 162h4v4h-4zM610 162h4v4h-4zM614 162h4v4h-4zM706 162h4v4h-4zM590 166h4v4h-4zM610 166h4v4h-4zM614 166h4v4h-4zM710 166h4v4h-4zM614 170h4v4h-4zM618 174h4v4h-4zM722 182h4v4h-4zM630 186h4v4h-4zM726 190h4v4h-4zM646 198h4v4h-4zM734 202h4v4h-4zM738 206h4v4h-4zM746 210h4v4h-4zM662 214h4v4h-4zM486 230h4v4h-4zM450 234h4v4h-4zM502 234h4v4h-4zM306 238h4v4h-4zM322 238h4v4h-4zM298 242h4v4h-4zM330 242h4v4h-4zM294 246h4v4h-4zM290 250h4v4h-4zM338 250h4v4h-4zM662 250h4v4h-4zM342 258h4v4h-4zM282 262h4v4h-4zM590 262h4v4h-4zM614 262h4v4h-4zM278 266h4v4h-4zM630 266h4v4h-4zM650 266h4v4h-4zM346 270h4v4h-4zM450 270h4v4h-4zM262 278h4v4h-4zM574 282h4v4h-4zM370 290h4v4h-4zM414 290h4v4h-4zM538 290h4v4h-4zM542 294h4v4h-4zM550 298h4v4h-4zM562 298h4v4h-4zM702 298h4v4h-4zM706 298h4v4h-4zM710 298h4v4h-4zM714 302h4v4h-4zM682 322h4v4h-4zM722 322h4v4h-4zM722 342h4v4h-4zM674 350h4v4h-4zM674 358h4v4h-4zM710 366h4v4h-4z"/>
<path fill="#ffb564" d="M286 134h4v4h-4zM298 158h4v4h-4z"/>
<path fill="#df0000" d="M658 134h4v4h-4zM678 138h4v4h-4zM578 142h4v4h-4zM582 142h4v4h-4zM642 142h4v4h-4zM682 142h4v4h-4zM574 146h4v4h-4zM578 146h4v4h-4zM594 146h4v4h-4zM574 150h4v4h-4zM598 150h4v4h-4zM574 154h4v4h-4zM602 154h4v4h-4zM626 154h4v4h-4zM578 158h4v4h-4zM602 158h4v4h-4zM622 158h4v4h-4zM582 162h4v4h-4zM586 162h4v4h-4zM594 162h4v4h-4zM598 162h4v4h-4zM618 162h4v4h-4zM622 178h4v4h-4zM626 182h4v4h-4zM642 194h4v4h-4zM730 198h4v4h-4zM742 210h4v4h-4zM750 214h4v4h-4zM754 214h4v4h-4zM758 214h4v4h-4zM762 214h4v4h-4zM666 222h4v4h-4zM666 226h4v4h-4zM454 230h4v4h-4zM482 230h4v4h-4zM666 230h4v4h-4zM498 234h4v4h-4zM666 234h4v4h-4zM310 238h4v4h-4zM314 238h4v4h-4zM318 238h4v4h-4zM506 238h4v4h-4zM334 246h4v4h-4zM450 250h4v4h-4zM518 250h4v4h-4zM662 254h4v4h-4zM286 258h4v4h-4zM342 262h4v4h-4zM658 262h4v4h-4zM526 266h4v4h-4zM274 270h4v4h-4zM270 274h4v4h-4zM346 274h4v4h-4zM450 274h4v4h-4zM578 274h4v4h-4zM530 278h4v4h-4zM350 282h4v4h-4zM438 282h4v4h-4zM354 286h4v4h-4zM430 286h4v4h-4zM534 286h4v4h-4zM366 290h4v4h-4zM418 290h4v4h-4zM706 294h4v4h-4zM698 298h4v4h-4zM694 302h4v4h-4zM690 306h4v4h-4zM718 306h4v4h-4zM686 314h4v4h-4zM722 318h4v4h-4zM674 346h4v4h-4zM674 362h4v4h-4zM714 362h4v4h-4z"/>
<path fill="#de0000" d="M662 134h4v4h-4zM666 134h4v4h-4zM670 134h4v4h-4zM650 138h4v4h-4zM582 146h4v4h-4zM586 146h4v4h-4zM590 146h4v4h-4zM638 146h4v4h-4zM686 146h4v4h-4zM578 150h4v4h-4zM594 150h4v4h-4zM690 150h4v4h-4zM578 154h4v4h-4zM598 154h4v4h-4zM582 158h4v4h-4zM598 158h4v4h-4zM590 162h4v4h-4zM618 166h4v4h-4zM618 170h4v4h-4zM718 178h4v4h-4zM722 186h4v4h-4zM638 190h4v4h-4zM726 194h4v4h-4zM654 202h4v4h-4zM730 202h4v4h-4zM658 206h4v4h-4zM734 206h4v4h-4zM738 210h4v4h-4zM746 214h4v4h-4zM666 218h4v4h-4zM478 230h4v4h-4zM494 234h4v4h-4zM450 238h4v4h-4zM666 238h4v4h-4zM302 242h4v4h-4zM326 242h4v4h-4zM450 242h4v4h-4zM510 242h4v4h-4zM298 246h4v4h-4zM450 246h4v4h-4zM514 246h4v4h-4zM294 250h4v4h-4zM290 254h4v4h-4zM338 254h4v4h-4zM454 258h4v4h-4zM522 258h4v4h-4zM662 258h4v4h-4zM454 262h4v4h-4zM594 262h4v4h-4zM610 262h4v4h-4zM282 266h4v4h-4zM454 266h4v4h-4zM626 266h4v4h-4zM654 266h4v4h-4zM454 270h4v4h-4zM266 278h4v4h-4zM446 278h4v4h-4zM362 290h4v4h-4zM698 294h4v4h-4zM702 294h4v4h-4zM710 294h4v4h-4zM546 298h4v4h-4zM694 298h4v4h-4zM714 298h4v4h-4zM718 302h4v4h-4zM722 314h4v4h-4zM678 330h4v4h-4zM722 346h4v4h-4zM678 370h4v4h-4zM706 370h4v4h-4z"/>
<path fill="#ff3222" d="M386 138h4v4h-4zM334 190h4v4h-4zM318 198h4v4h-4zM394 238h4v4h-4z"/>
<path fill="#dd0000" d="M654 138h4v4h-4zM674 138h4v4h-4zM646 142h4v4h-4zM582 150h4v4h-4zM586 150h4v4h-4zM590 150h4v4h-4zM634 150h4v4h-4zM582 154h4v4h-4zM586 154h4v4h-4zM594 154h4v4h-4zM630 154h4v4h-4zM694 154h4v4h-4zM586 158h4v4h-4zM590 158h4v4h-4zM594 158h4v4h-4zM626 158h4v4h-4zM622 162h4v4h-4zM622 174h4v4h-4zM714 174h4v4h-4zM634 186h4v4h-4zM650 198h4v4h-4zM726 198h4v4h-4zM730 206h4v4h-4zM662 210h4v4h-4zM734 210h4v4h-4zM666 214h4v4h-4zM742 214h4v4h-4zM754 218h4v4h-4zM758 218h4v4h-4zM762 218h4v4h-4zM474 230h4v4h-4zM490 234h4v4h-4zM502 238h4v4h-4zM306 242h4v4h-4zM322 242h4v4h-4zM666 242h4v4h-4zM330 246h4v4h-4zM334 250h4v4h-4zM454 254h4v4h-4zM518 254h4v4h-4zM290 258h4v4h-4zM286 262h4v4h-4zM606 262h4v4h-4zM342 266h4v4h-4zM586 266h4v4h-4zM278 270h4v4h-4zM526 270h4v4h-4zM274 274h4v4h-4zM346 278h4v4h-4zM262 282h4v4h-4zM442 282h4v4h-4zM530 282h4v4h-4zM434 286h4v4h-4zM574 286h4v4h-4zM358 290h4v4h-4zM422 290h4v4h-4zM702 290h4v4h-4zM706 290h4v4h-4zM710 290h4v4h-4zM570 294h4v4h-4zM714 294h4v4h-4zM566 298h4v4h-4zM690 302h4v4h-4zM686 310h4v4h-4zM722 310h4v4h-4zM682 318h4v4h-4zM674 342h4v4h-4zM674 366h4v4h-4z"/>
<path fill="#dc0000" d="M658 138h4v4h-4zM662 138h4v4h-4zM666 138h4v4h-4zM670 138h4v4h-4zM678 142h4v4h-4zM590 154h4v4h-4zM698 158h4v4h-4zM702 162h4v4h-4zM622 166h4v4h-4zM622 170h4v4h-4zM710 170h4v4h-4zM626 178h4v4h-4zM630 182h4v4h-4zM718 182h4v4h-4zM722 190h4v4h-4zM646 194h4v4h-4zM726 202h4v4h-4zM738 214h4v4h-4zM742 218h4v4h-4zM746 218h4v4h-4zM750 218h4v4h-4zM470 230h4v4h-4zM486 234h4v4h-4zM498 238h4v4h-4zM310 242h4v4h-4zM314 242h4v4h-4zM318 242h4v4h-4zM506 242h4v4h-4zM302 246h4v4h-4zM510 246h4v4h-4zM666 246h4v4h-4zM298 250h4v4h-4zM454 250h4v4h-4zM514 250h4v4h-4zM294 254h4v4h-4zM338 258h4v4h-4zM522 262h4v4h-4zM598 262h4v4h-4zM602 262h4v4h-4zM662 262h4v4h-4zM286 266h4v4h-4zM458 266h4v4h-4zM622 266h4v4h-4zM658 266h4v4h-4zM282 270h4v4h-4zM342 270h4v4h-4zM582 270h4v4h-4zM638 270h4v4h-4zM642 270h4v4h-4zM646 270h4v4h-4zM650 270h4v4h-4zM454 274h4v4h-4zM526 274h4v4h-4zM270 278h4v4h-4zM450 278h4v4h-4zM350 286h4v4h-4zM702 286h4v4h-4zM706 286h4v4h-4zM710 286h4v4h-4zM354 290h4v4h-4zM698 290h4v4h-4zM714 290h4v4h-4zM538 294h4v4h-4zM694 294h4v4h-4zM690 298h4v4h-4zM718 298h4v4h-4zM554 302h4v4h-4zM558 302h4v4h-4zM686 306h4v4h-4zM678 326h4v4h-4z"/>
<path fill="#db0000" d="M650 142h4v4h-4zM674 142h4v4h-4zM642 146h4v4h-4zM682 146h4v4h-4zM626 162h4v4h-4zM706 166h4v4h-4zM642 190h4v4h-4zM722 194h4v4h-4zM658 202h4v4h-4zM662 206h4v4h-4zM726 206h4v4h-4zM666 210h4v4h-4zM730 210h4v4h-4zM734 214h4v4h-4zM670 218h4v4h-4zM738 218h4v4h-4zM670 222h4v4h-4zM670 226h4v4h-4zM458 230h4v4h-4zM462 230h4v4h-4zM466 230h4v4h-4zM670 230h4v4h-4zM454 234h4v4h-4zM482 234h4v4h-4zM494 238h4v4h-4zM502 242h4v4h-4zM326 246h4v4h-4zM666 250h4v4h-4zM334 254h4v4h-4zM458 258h4v4h-4zM518 258h4v4h-4zM290 262h4v4h-4zM338 262h4v4h-4zM458 262h4v4h-4zM458 270h4v4h-4zM634 270h4v4h-4zM278 274h4v4h-4zM342 274h4v4h-4zM454 278h4v4h-4zM578 278h4v4h-4zM266 282h4v4h-4zM346 282h4v4h-4zM446 282h4v4h-4zM702 282h4v4h-4zM706 282h4v4h-4zM710 282h4v4h-4zM438 286h4v4h-4zM698 286h4v4h-4zM714 286h4v4h-4zM426 290h4v4h-4zM534 290h4v4h-4zM694 290h4v4h-4zM394 294h4v4h-4zM398 294h4v4h-4zM402 294h4v4h-4zM690 294h4v4h-4zM718 294h4v4h-4zM542 298h4v4h-4zM550 302h4v4h-4zM562 302h4v4h-4zM722 306h4v4h-4zM682 314h4v4h-4zM674 338h4v4h-4zM718 358h4v4h-4z"/>
<path fill="#da0000" d="M654 142h4v4h-4zM670 142h4v4h-4zM638 150h4v4h-4zM686 150h4v4h-4zM634 154h4v4h-4zM630 158h4v4h-4zM626 174h4v4h-4zM714 178h4v4h-4zM638 186h4v4h-4zM718 186h4v4h-4zM654 198h4v4h-4zM722 198h4v4h-4zM722 202h4v4h-4zM726 210h4v4h-4zM670 214h4v4h-4zM730 214h4v4h-4zM734 218h4v4h-4zM742 222h4v4h-4zM746 222h4v4h-4zM750 222h4v4h-4zM754 222h4v4h-4zM758 222h4v4h-4zM762 222h4v4h-4zM670 234h4v4h-4zM454 238h4v4h-4zM454 242h4v4h-4zM306 246h4v4h-4zM322 246h4v4h-4zM454 246h4v4h-4zM506 246h4v4h-4zM302 250h4v4h-4zM330 250h4v4h-4zM510 250h4v4h-4zM298 254h4v4h-4zM458 254h4v4h-4zM514 254h4v4h-4zM666 254h4v4h-4zM294 258h4v4h-4zM666 258h4v4h-4zM290 266h4v4h-4zM338 266h4v4h-4zM522 266h4v4h-4zM618 266h4v4h-4zM662 266h4v4h-4zM286 270h4v4h-4zM654 270h4v4h-4zM458 274h4v4h-4zM274 278h4v4h-4zM526 278h4v4h-4zM702 278h4v4h-4zM706 278h4v4h-4zM710 278h4v4h-4zM270 282h4v4h-4zM450 282h4v4h-4zM698 282h4v4h-4zM714 282h4v4h-4zM530 286h4v4h-4zM694 286h4v4h-4zM718 286h4v4h-4zM350 290h4v4h-4zM574 290h4v4h-4zM690 290h4v4h-4zM718 290h4v4h-4zM378 294h4v4h-4zM382 294h4v4h-4zM386 294h4v4h-4zM390 294h4v4h-4zM406 294h4v4h-4zM722 298h4v4h-4zM686 302h4v4h-4zM722 302h4v4h-4zM678 322h4v4h-4zM722 350h4v4h-4zM674 370h4v4h-4z"/>
<path fill="#d90000" d="M658 142h4v4h-4zM662 142h4v4h-4zM666 142h4v4h-4zM646 146h4v4h-4zM678 146h4v4h-4zM690 154h4v4h-4zM626 166h4v4h-4zM626 170h4v4h-4zM630 178h4v4h-4zM634 182h4v4h-4zM718 190h4v4h-4zM650 194h4v4h-4zM722 206h4v4h-4zM722 210h4v4h-4zM726 214h4v4h-4zM674 218h4v4h-4zM726 218h4v4h-4zM730 218h4v4h-4zM674 222h4v4h-4zM734 222h4v4h-4zM738 222h4v4h-4zM478 234h4v4h-4zM490 238h4v4h-4zM670 238h4v4h-4zM498 242h4v4h-4zM310 246h4v4h-4zM314 246h4v4h-4zM318 246h4v4h-4zM334 258h4v4h-4zM294 262h4v4h-4zM462 262h4v4h-4zM666 262h4v4h-4zM462 266h4v4h-4zM462 270h4v4h-4zM522 270h4v4h-4zM630 270h4v4h-4zM658 270h4v4h-4zM282 274h4v4h-4zM462 274h4v4h-4zM702 274h4v4h-4zM706 274h4v4h-4zM710 274h4v4h-4zM714 274h4v4h-4zM278 278h4v4h-4zM342 278h4v4h-4zM458 278h4v4h-4zM698 278h4v4h-4zM714 278h4v4h-4zM694 282h4v4h-4zM718 282h4v4h-4zM266 286h4v4h-4zM346 286h4v4h-4zM442 286h4v4h-4zM690 286h4v4h-4zM430 290h4v4h-4zM362 294h4v4h-4zM366 294h4v4h-4zM370 294h4v4h-4zM374 294h4v4h-4zM410 294h4v4h-4zM686 294h4v4h-4zM722 294h4v4h-4zM686 298h4v4h-4zM546 302h4v4h-4zM682 310h4v4h-4zM726 318h4v4h-4zM726 322h4v4h-4zM726 326h4v4h-4zM726 330h4v4h-4zM674 334h4v4h-4zM726 334h4v4h-4zM670 354h4v4h-4zM670 358h4v4h-4zM670 362h4v4h-4z"/>
<path fill="#d70000" d="M650 146h4v4h-4zM674 146h4v4h-4zM642 150h4v4h-4zM682 150h4v4h-4zM638 154h4v4h-4zM634 158h4v4h-4zM698 162h4v4h-4zM630 166h4v4h-4zM702 166h4v4h-4zM706 170h4v4h-4zM630 174h4v4h-4zM714 182h4v4h-4zM642 186h4v4h-4zM658 198h4v4h-4zM714 210h4v4h-4zM714 214h4v4h-4zM718 214h4v4h-4zM678 218h4v4h-4zM718 218h4v4h-4zM678 222h4v4h-4zM718 222h4v4h-4zM722 222h4v4h-4zM726 226h4v4h-4zM730 226h4v4h-4zM762 226h4v4h-4zM674 230h4v4h-4zM734 230h4v4h-4zM738 230h4v4h-4zM742 230h4v4h-4zM746 230h4v4h-4zM462 234h4v4h-4zM466 234h4v4h-4zM470 234h4v4h-4zM458 238h4v4h-4zM482 238h4v4h-4zM490 242h4v4h-4zM458 246h4v4h-4zM498 246h4v4h-4zM670 246h4v4h-4zM310 250h4v4h-4zM322 250h4v4h-4zM506 250h4v4h-4zM462 254h4v4h-4zM510 254h4v4h-4zM514 258h4v4h-4zM298 262h4v4h-4zM334 262h4v4h-4zM294 266h4v4h-4zM466 266h4v4h-4zM666 266h4v4h-4zM706 266h4v4h-4zM710 266h4v4h-4zM714 266h4v4h-4zM718 266h4v4h-4zM466 270h4v4h-4zM626 270h4v4h-4zM698 270h4v4h-4zM702 270h4v4h-4zM718 270h4v4h-4zM338 274h4v4h-4zM466 274h4v4h-4zM522 274h4v4h-4zM582 274h4v4h-4zM642 274h4v4h-4zM646 274h4v4h-4zM650 274h4v4h-4zM654 274h4v4h-4zM694 274h4v4h-4zM282 278h4v4h-4zM690 278h4v4h-4zM722 278h4v4h-4zM458 282h4v4h-4zM686 282h4v4h-4zM722 282h4v4h-4zM270 286h4v4h-4zM686 286h4v4h-4zM346 290h4v4h-4zM530 290h4v4h-4zM418 294h4v4h-4zM574 294h4v4h-4zM538 298h4v4h-4zM682 298h4v4h-4zM682 302h4v4h-4zM726 302h4v4h-4zM554 306h4v4h-4zM558 306h4v4h-4zM726 306h4v4h-4zM674 330h4v4h-4zM726 338h4v4h-4zM670 366h4v4h-4zM714 366h4v4h-4zM710 370h4v4h-4z"/>
<path fill="#d60000" d="M654 146h4v4h-4zM658 146h4v4h-4zM662 146h4v4h-4zM666 146h4v4h-4zM670 146h4v4h-4zM686 154h4v4h-4zM630 170h4v4h-4zM634 178h4v4h-4zM638 182h4v4h-4zM714 186h4v4h-4zM654 194h4v4h-4zM714 202h4v4h-4zM670 206h4v4h-4zM714 206h4v4h-4zM674 210h4v4h-4zM710 210h4v4h-4zM678 214h4v4h-4zM698 214h4v4h-4zM702 214h4v4h-4zM706 214h4v4h-4zM710 214h4v4h-4zM682 218h4v4h-4zM706 218h4v4h-4zM710 218h4v4h-4zM714 218h4v4h-4zM714 222h4v4h-4zM678 226h4v4h-4zM718 226h4v4h-4zM722 226h4v4h-4zM722 230h4v4h-4zM726 230h4v4h-4zM730 230h4v4h-4zM750 230h4v4h-4zM754 230h4v4h-4zM674 234h4v4h-4zM730 234h4v4h-4zM734 234h4v4h-4zM738 234h4v4h-4zM478 238h4v4h-4zM458 242h4v4h-4zM314 250h4v4h-4zM318 250h4v4h-4zM462 250h4v4h-4zM502 250h4v4h-4zM670 250h4v4h-4zM306 254h4v4h-4zM326 254h4v4h-4zM670 254h4v4h-4zM302 258h4v4h-4zM330 258h4v4h-4zM466 258h4v4h-4zM670 258h4v4h-4zM466 262h4v4h-4zM670 262h4v4h-4zM706 262h4v4h-4zM710 262h4v4h-4zM714 262h4v4h-4zM718 262h4v4h-4zM334 266h4v4h-4zM518 266h4v4h-4zM610 266h4v4h-4zM702 266h4v4h-4zM722 266h4v4h-4zM294 270h4v4h-4zM586 270h4v4h-4zM666 270h4v4h-4zM694 270h4v4h-4zM722 270h4v4h-4zM290 274h4v4h-4zM638 274h4v4h-4zM658 274h4v4h-4zM690 274h4v4h-4zM722 274h4v4h-4zM338 278h4v4h-4zM466 278h4v4h-4zM686 278h4v4h-4zM278 282h4v4h-4zM462 282h4v4h-4zM342 286h4v4h-4zM450 286h4v4h-4zM526 286h4v4h-4zM578 286h4v4h-4zM682 286h4v4h-4zM438 290h4v4h-4zM682 290h4v4h-4zM350 294h4v4h-4zM422 294h4v4h-4zM682 294h4v4h-4zM726 294h4v4h-4zM726 298h4v4h-4zM542 302h4v4h-4zM550 306h4v4h-4zM562 306h4v4h-4zM678 314h4v4h-4zM670 346h4v4h-4z"/>
<path fill="#d50000" d="M646 150h4v4h-4zM678 150h4v4h-4zM690 158h4v4h-4zM634 162h4v4h-4zM710 178h4v4h-4zM650 190h4v4h-4zM714 190h4v4h-4zM714 194h4v4h-4zM714 198h4v4h-4zM666 202h4v4h-4zM710 206h4v4h-4zM678 210h4v4h-4zM690 210h4v4h-4zM694 210h4v4h-4zM698 210h4v4h-4zM702 210h4v4h-4zM706 210h4v4h-4zM682 214h4v4h-4zM686 214h4v4h-4zM690 214h4v4h-4zM694 214h4v4h-4zM686 218h4v4h-4zM690 218h4v4h-4zM694 218h4v4h-4zM698 218h4v4h-4zM702 218h4v4h-4zM682 222h4v4h-4zM702 222h4v4h-4zM706 222h4v4h-4zM710 222h4v4h-4zM710 226h4v4h-4zM714 226h4v4h-4zM678 230h4v4h-4zM714 230h4v4h-4zM718 230h4v4h-4zM758 230h4v4h-4zM718 234h4v4h-4zM722 234h4v4h-4zM726 234h4v4h-4zM742 234h4v4h-4zM746 234h4v4h-4zM462 238h4v4h-4zM470 238h4v4h-4zM474 238h4v4h-4zM722 238h4v4h-4zM726 238h4v4h-4zM730 238h4v4h-4zM734 238h4v4h-4zM482 242h4v4h-4zM486 242h4v4h-4zM462 246h4v4h-4zM494 246h4v4h-4zM310 254h4v4h-4zM322 254h4v4h-4zM466 254h4v4h-4zM506 254h4v4h-4zM714 254h4v4h-4zM718 254h4v4h-4zM722 254h4v4h-4zM306 258h4v4h-4zM510 258h4v4h-4zM706 258h4v4h-4zM710 258h4v4h-4zM714 258h4v4h-4zM718 258h4v4h-4zM722 258h4v4h-4zM302 262h4v4h-4zM330 262h4v4h-4zM514 262h4v4h-4zM702 262h4v4h-4zM722 262h4v4h-4zM298 266h4v4h-4zM470 266h4v4h-4zM594 266h4v4h-4zM670 266h4v4h-4zM698 266h4v4h-4zM334 270h4v4h-4zM470 270h4v4h-4zM622 270h4v4h-4zM670 270h4v4h-4zM690 270h4v4h-4zM470 274h4v4h-4zM662 274h4v4h-4zM666 274h4v4h-4zM686 274h4v4h-4zM726 274h4v4h-4zM286 278h4v4h-4zM522 278h4v4h-4zM682 278h4v4h-4zM726 278h4v4h-4zM466 282h4v4h-4zM682 282h4v4h-4zM726 282h4v4h-4zM274 286h4v4h-4zM454 286h4v4h-4zM726 286h4v4h-4zM442 290h4v4h-4zM726 290h4v4h-4zM678 310h4v4h-4zM674 326h4v4h-4zM726 342h4v4h-4zM722 354h4v4h-4zM670 370h4v4h-4z"/>
<path fill="#d30000" d="M650 150h4v4h-4zM674 150h4v4h-4zM682 154h4v4h-4zM694 162h4v4h-4zM634 166h4v4h-4zM634 170h4v4h-4zM706 174h4v4h-4zM638 178h4v4h-4zM642 182h4v4h-4zM710 182h4v4h-4zM658 194h4v4h-4zM710 198h4v4h-4zM670 202h4v4h-4zM706 202h4v4h-4zM678 206h4v4h-4zM690 206h4v4h-4zM694 206h4v4h-4zM686 226h4v4h-4zM690 226h4v4h-4zM694 226h4v4h-4zM698 226h4v4h-4zM682 230h4v4h-4zM702 230h4v4h-4zM678 234h4v4h-4zM706 234h4v4h-4zM758 234h4v4h-4zM710 238h4v4h-4zM746 238h4v4h-4zM750 238h4v4h-4zM466 242h4v4h-4zM470 242h4v4h-4zM474 242h4v4h-4zM674 242h4v4h-4zM710 242h4v4h-4zM738 242h4v4h-4zM742 242h4v4h-4zM466 246h4v4h-4zM470 246h4v4h-4zM482 246h4v4h-4zM486 246h4v4h-4zM710 246h4v4h-4zM734 246h4v4h-4zM470 250h4v4h-4zM494 250h4v4h-4zM706 250h4v4h-4zM730 250h4v4h-4zM734 250h4v4h-4zM470 254h4v4h-4zM502 254h4v4h-4zM706 254h4v4h-4zM730 254h4v4h-4zM310 258h4v4h-4zM314 258h4v4h-4zM322 258h4v4h-4zM506 258h4v4h-4zM674 258h4v4h-4zM730 258h4v4h-4zM306 262h4v4h-4zM326 262h4v4h-4zM474 262h4v4h-4zM694 262h4v4h-4zM730 262h4v4h-4zM302 266h4v4h-4zM474 266h4v4h-4zM678 266h4v4h-4zM682 266h4v4h-4zM686 266h4v4h-4zM690 266h4v4h-4zM730 266h4v4h-4zM474 270h4v4h-4zM618 270h4v4h-4zM730 270h4v4h-4zM474 274h4v4h-4zM518 274h4v4h-4zM630 274h4v4h-4zM290 278h4v4h-4zM582 278h4v4h-4zM654 278h4v4h-4zM658 278h4v4h-4zM662 278h4v4h-4zM666 278h4v4h-4zM670 278h4v4h-4zM674 278h4v4h-4zM286 282h4v4h-4zM470 282h4v4h-4zM674 282h4v4h-4zM278 286h4v4h-4zM338 286h4v4h-4zM462 286h4v4h-4zM446 290h4v4h-4zM526 290h4v4h-4zM578 290h4v4h-4zM430 294h4v4h-4zM530 294h4v4h-4zM534 298h4v4h-4zM574 298h4v4h-4zM538 302h4v4h-4zM566 306h4v4h-4zM674 322h4v4h-4z"/>
<path fill="#d10000" d="M654 150h4v4h-4zM658 150h4v4h-4zM662 150h4v4h-4zM646 154h4v4h-4zM678 154h4v4h-4zM638 162h4v4h-4zM638 174h4v4h-4zM650 186h4v4h-4zM662 194h4v4h-4zM706 198h4v4h-4zM674 202h4v4h-4zM694 202h4v4h-4zM698 202h4v4h-4zM682 234h4v4h-4zM694 234h4v4h-4zM698 234h4v4h-4zM678 238h4v4h-4zM702 238h4v4h-4zM702 242h4v4h-4zM750 242h4v4h-4zM702 246h4v4h-4zM742 246h4v4h-4zM702 250h4v4h-4zM478 254h4v4h-4zM482 254h4v4h-4zM486 254h4v4h-4zM490 254h4v4h-4zM698 254h4v4h-4zM738 254h4v4h-4zM478 258h4v4h-4zM498 258h4v4h-4zM502 258h4v4h-4zM678 258h4v4h-4zM694 258h4v4h-4zM314 262h4v4h-4zM318 262h4v4h-4zM478 262h4v4h-4zM506 262h4v4h-4zM682 262h4v4h-4zM686 262h4v4h-4zM734 262h4v4h-4zM310 266h4v4h-4zM478 266h4v4h-4zM734 266h4v4h-4zM306 270h4v4h-4zM478 270h4v4h-4zM514 270h4v4h-4zM590 270h4v4h-4zM302 274h4v4h-4zM330 274h4v4h-4zM478 274h4v4h-4zM518 278h4v4h-4zM642 278h4v4h-4zM290 282h4v4h-4zM334 282h4v4h-4zM474 282h4v4h-4zM666 282h4v4h-4zM470 286h4v4h-4zM522 286h4v4h-4zM670 286h4v4h-4zM338 290h4v4h-4zM454 290h4v4h-4zM458 290h4v4h-4zM342 294h4v4h-4zM674 294h4v4h-4zM350 298h4v4h-4zM374 298h4v4h-4zM378 298h4v4h-4zM382 298h4v4h-4zM386 298h4v4h-4zM390 298h4v4h-4zM394 298h4v4h-4zM398 298h4v4h-4zM402 298h4v4h-4zM406 298h4v4h-4zM542 306h4v4h-4zM550 310h4v4h-4zM562 310h4v4h-4zM674 314h4v4h-4zM730 326h4v4h-4z"/>
<path fill="#d20000" d="M666 150h4v4h-4zM670 150h4v4h-4zM686 158h4v4h-4zM698 166h4v4h-4zM702 170h4v4h-4zM710 186h4v4h-4zM654 190h4v4h-4zM710 190h4v4h-4zM710 194h4v4h-4zM666 198h4v4h-4zM702 202h4v4h-4zM682 206h4v4h-4zM686 206h4v4h-4zM686 230h4v4h-4zM690 230h4v4h-4zM694 230h4v4h-4zM698 230h4v4h-4zM702 234h4v4h-4zM762 234h4v4h-4zM706 238h4v4h-4zM754 238h4v4h-4zM706 242h4v4h-4zM746 242h4v4h-4zM474 246h4v4h-4zM478 246h4v4h-4zM674 246h4v4h-4zM706 246h4v4h-4zM738 246h4v4h-4zM474 250h4v4h-4zM478 250h4v4h-4zM482 250h4v4h-4zM486 250h4v4h-4zM490 250h4v4h-4zM674 250h4v4h-4zM738 250h4v4h-4zM474 254h4v4h-4zM494 254h4v4h-4zM498 254h4v4h-4zM674 254h4v4h-4zM702 254h4v4h-4zM734 254h4v4h-4zM318 258h4v4h-4zM474 258h4v4h-4zM698 258h4v4h-4zM734 258h4v4h-4zM310 262h4v4h-4zM322 262h4v4h-4zM510 262h4v4h-4zM678 262h4v4h-4zM690 262h4v4h-4zM306 266h4v4h-4zM326 266h4v4h-4zM514 266h4v4h-4zM302 270h4v4h-4zM330 270h4v4h-4zM298 274h4v4h-4zM730 274h4v4h-4zM294 278h4v4h-4zM334 278h4v4h-4zM474 278h4v4h-4zM646 278h4v4h-4zM650 278h4v4h-4zM730 278h4v4h-4zM670 282h4v4h-4zM730 282h4v4h-4zM282 286h4v4h-4zM466 286h4v4h-4zM674 286h4v4h-4zM730 286h4v4h-4zM274 290h4v4h-4zM450 290h4v4h-4zM674 290h4v4h-4zM730 290h4v4h-4zM434 294h4v4h-4zM730 294h4v4h-4zM354 298h4v4h-4zM358 298h4v4h-4zM362 298h4v4h-4zM366 298h4v4h-4zM370 298h4v4h-4zM730 298h4v4h-4zM730 302h4v4h-4zM730 306h4v4h-4zM554 310h4v4h-4zM558 310h4v4h-4zM730 310h4v4h-4zM730 314h4v4h-4zM674 318h4v4h-4zM730 318h4v4h-4zM730 322h4v4h-4zM670 338h4v4h-4zM726 346h4v4h-4zM666 354h4v4h-4zM666 358h4v4h-4zM666 362h4v4h-4zM666 366h4v4h-4z"/>
<path fill="#ffd978" d="M278 154h4v4h-4zM278 166h4v4h-4z"/>
<path fill="#d40000" d="M642 154h4v4h-4zM638 158h4v4h-4zM634 174h4v4h-4zM646 186h4v4h-4zM662 198h4v4h-4zM710 202h4v4h-4zM674 206h4v4h-4zM698 206h4v4h-4zM702 206h4v4h-4zM706 206h4v4h-4zM682 210h4v4h-4zM686 210h4v4h-4zM686 222h4v4h-4zM690 222h4v4h-4zM694 222h4v4h-4zM698 222h4v4h-4zM682 226h4v4h-4zM702 226h4v4h-4zM706 226h4v4h-4zM706 230h4v4h-4zM710 230h4v4h-4zM762 230h4v4h-4zM710 234h4v4h-4zM714 234h4v4h-4zM750 234h4v4h-4zM754 234h4v4h-4zM466 238h4v4h-4zM674 238h4v4h-4zM714 238h4v4h-4zM718 238h4v4h-4zM738 238h4v4h-4zM742 238h4v4h-4zM462 242h4v4h-4zM478 242h4v4h-4zM714 242h4v4h-4zM718 242h4v4h-4zM722 242h4v4h-4zM726 242h4v4h-4zM730 242h4v4h-4zM734 242h4v4h-4zM490 246h4v4h-4zM714 246h4v4h-4zM718 246h4v4h-4zM722 246h4v4h-4zM726 246h4v4h-4zM730 246h4v4h-4zM466 250h4v4h-4zM498 250h4v4h-4zM710 250h4v4h-4zM714 250h4v4h-4zM718 250h4v4h-4zM722 250h4v4h-4zM726 250h4v4h-4zM314 254h4v4h-4zM318 254h4v4h-4zM710 254h4v4h-4zM726 254h4v4h-4zM326 258h4v4h-4zM470 258h4v4h-4zM702 258h4v4h-4zM726 258h4v4h-4zM470 262h4v4h-4zM674 262h4v4h-4zM698 262h4v4h-4zM726 262h4v4h-4zM330 266h4v4h-4zM598 266h4v4h-4zM602 266h4v4h-4zM606 266h4v4h-4zM674 266h4v4h-4zM694 266h4v4h-4zM726 266h4v4h-4zM298 270h4v4h-4zM518 270h4v4h-4zM674 270h4v4h-4zM678 270h4v4h-4zM682 270h4v4h-4zM686 270h4v4h-4zM726 270h4v4h-4zM294 274h4v4h-4zM334 274h4v4h-4zM634 274h4v4h-4zM670 274h4v4h-4zM674 274h4v4h-4zM678 274h4v4h-4zM682 274h4v4h-4zM470 278h4v4h-4zM678 278h4v4h-4zM282 282h4v4h-4zM338 282h4v4h-4zM522 282h4v4h-4zM678 282h4v4h-4zM458 286h4v4h-4zM678 286h4v4h-4zM270 290h4v4h-4zM342 290h4v4h-4zM678 290h4v4h-4zM346 294h4v4h-4zM426 294h4v4h-4zM678 294h4v4h-4zM678 298h4v4h-4zM570 302h4v4h-4zM678 302h4v4h-4zM546 306h4v4h-4zM678 306h4v4h-4zM670 342h4v4h-4zM718 362h4v4h-4z"/>
<path fill="#ce0000" d="M650 154h4v4h-4zM670 154h4v4h-4zM642 162h4v4h-4zM698 170h4v4h-4zM642 174h4v4h-4zM702 174h4v4h-4zM650 182h4v4h-4zM706 182h4v4h-4zM706 186h4v4h-4zM706 190h4v4h-4zM674 198h4v4h-4zM698 198h4v4h-4zM682 242h4v4h-4zM690 242h4v4h-4zM758 242h4v4h-4zM678 246h4v4h-4zM694 246h4v4h-4zM754 246h4v4h-4zM690 250h4v4h-4zM682 254h4v4h-4zM686 254h4v4h-4zM746 254h4v4h-4zM742 258h4v4h-4zM490 266h4v4h-4zM494 266h4v4h-4zM498 266h4v4h-4zM502 266h4v4h-4zM486 270h4v4h-4zM610 270h4v4h-4zM738 270h4v4h-4zM310 274h4v4h-4zM314 274h4v4h-4zM318 274h4v4h-4zM322 274h4v4h-4zM486 274h4v4h-4zM622 274h4v4h-4zM306 278h4v4h-4zM326 278h4v4h-4zM514 278h4v4h-4zM634 278h4v4h-4zM298 282h4v4h-4zM650 282h4v4h-4zM478 286h4v4h-4zM518 286h4v4h-4zM662 286h4v4h-4zM334 290h4v4h-4zM470 290h4v4h-4zM734 290h4v4h-4zM338 294h4v4h-4zM446 294h4v4h-4zM450 294h4v4h-4zM670 294h4v4h-4zM734 294h4v4h-4zM422 298h4v4h-4zM538 306h4v4h-4zM730 334h4v4h-4zM666 346h4v4h-4zM726 350h4v4h-4z"/>
<path fill="#cd0000" d="M654 154h4v4h-4zM658 154h4v4h-4zM662 154h4v4h-4zM666 154h4v4h-4zM646 158h4v4h-4zM678 158h4v4h-4zM686 162h4v4h-4zM642 166h4v4h-4zM642 170h4v4h-4zM646 178h4v4h-4zM662 190h4v4h-4zM670 194h4v4h-4zM702 194h4v4h-4zM678 198h4v4h-4zM682 198h4v4h-4zM690 198h4v4h-4zM694 198h4v4h-4zM686 242h4v4h-4zM762 242h4v4h-4zM682 246h4v4h-4zM686 246h4v4h-4zM690 246h4v4h-4zM682 250h4v4h-4zM686 250h4v4h-4zM750 250h4v4h-4zM742 262h4v4h-4zM490 270h4v4h-4zM494 270h4v4h-4zM502 270h4v4h-4zM506 270h4v4h-4zM594 270h4v4h-4zM490 274h4v4h-4zM510 274h4v4h-4zM738 274h4v4h-4zM310 278h4v4h-4zM322 278h4v4h-4zM486 278h4v4h-4zM738 278h4v4h-4zM302 282h4v4h-4zM326 282h4v4h-4zM482 282h4v4h-4zM514 282h4v4h-4zM646 282h4v4h-4zM294 286h4v4h-4zM330 286h4v4h-4zM582 286h4v4h-4zM286 290h4v4h-4zM474 290h4v4h-4zM666 290h4v4h-4zM278 294h4v4h-4zM454 294h4v4h-4zM458 294h4v4h-4zM342 298h4v4h-4zM426 298h4v4h-4zM578 298h4v4h-4zM670 298h4v4h-4zM734 298h4v4h-4zM734 302h4v4h-4zM734 306h4v4h-4zM542 310h4v4h-4zM554 314h4v4h-4zM558 314h4v4h-4zM562 314h4v4h-4zM670 326h4v4h-4zM718 366h4v4h-4z"/>
<path fill="#cf0000" d="M674 154h4v4h-4zM682 158h4v4h-4zM694 166h4v4h-4zM654 186h4v4h-4zM666 194h4v4h-4zM682 238h4v4h-4zM686 238h4v4h-4zM690 238h4v4h-4zM694 238h4v4h-4zM762 238h4v4h-4zM678 242h4v4h-4zM694 242h4v4h-4zM750 246h4v4h-4zM678 250h4v4h-4zM694 250h4v4h-4zM746 250h4v4h-4zM690 254h4v4h-4zM742 254h4v4h-4zM486 262h4v4h-4zM490 262h4v4h-4zM494 262h4v4h-4zM498 262h4v4h-4zM738 262h4v4h-4zM486 266h4v4h-4zM506 266h4v4h-4zM738 266h4v4h-4zM314 270h4v4h-4zM318 270h4v4h-4zM322 270h4v4h-4zM510 270h4v4h-4zM306 274h4v4h-4zM326 274h4v4h-4zM482 274h4v4h-4zM302 278h4v4h-4zM482 278h4v4h-4zM330 282h4v4h-4zM478 282h4v4h-4zM654 282h4v4h-4zM734 282h4v4h-4zM290 286h4v4h-4zM666 286h4v4h-4zM734 286h4v4h-4zM282 290h4v4h-4zM466 290h4v4h-4zM522 290h4v4h-4zM670 290h4v4h-4zM274 294h4v4h-4zM442 294h4v4h-4zM526 294h4v4h-4zM346 298h4v4h-4zM418 298h4v4h-4zM534 302h4v4h-4zM574 302h4v4h-4zM546 310h4v4h-4zM566 310h4v4h-4zM670 330h4v4h-4zM722 358h4v4h-4zM714 370h4v4h-4zM710 374h4v4h-4z"/>
<path fill="#ffc069" d="M294 158h4v4h-4zM290 174h4v4h-4z"/>
<path fill="#d00000" d="M642 158h4v4h-4zM690 162h4v4h-4zM638 166h4v4h-4zM638 170h4v4h-4zM642 178h4v4h-4zM706 178h4v4h-4zM646 182h4v4h-4zM658 190h4v4h-4zM706 194h4v4h-4zM670 198h4v4h-4zM702 198h4v4h-4zM678 202h4v4h-4zM682 202h4v4h-4zM686 202h4v4h-4zM690 202h4v4h-4zM686 234h4v4h-4zM690 234h4v4h-4zM698 238h4v4h-4zM758 238h4v4h-4zM698 242h4v4h-4zM754 242h4v4h-4zM698 246h4v4h-4zM746 246h4v4h-4zM698 250h4v4h-4zM742 250h4v4h-4zM678 254h4v4h-4zM694 254h4v4h-4zM482 258h4v4h-4zM486 258h4v4h-4zM490 258h4v4h-4zM494 258h4v4h-4zM682 258h4v4h-4zM686 258h4v4h-4zM690 258h4v4h-4zM738 258h4v4h-4zM482 262h4v4h-4zM502 262h4v4h-4zM314 266h4v4h-4zM318 266h4v4h-4zM322 266h4v4h-4zM482 266h4v4h-4zM510 266h4v4h-4zM310 270h4v4h-4zM326 270h4v4h-4zM482 270h4v4h-4zM614 270h4v4h-4zM734 270h4v4h-4zM514 274h4v4h-4zM586 274h4v4h-4zM626 274h4v4h-4zM734 274h4v4h-4zM298 278h4v4h-4zM330 278h4v4h-4zM478 278h4v4h-4zM638 278h4v4h-4zM734 278h4v4h-4zM294 282h4v4h-4zM518 282h4v4h-4zM582 282h4v4h-4zM658 282h4v4h-4zM662 282h4v4h-4zM286 286h4v4h-4zM334 286h4v4h-4zM474 286h4v4h-4zM278 290h4v4h-4zM462 290h4v4h-4zM438 294h4v4h-4zM578 294h4v4h-4zM410 298h4v4h-4zM414 298h4v4h-4zM530 298h4v4h-4zM674 298h4v4h-4zM674 302h4v4h-4zM570 306h4v4h-4zM674 306h4v4h-4zM674 310h4v4h-4zM730 330h4v4h-4zM670 334h4v4h-4zM666 350h4v4h-4zM666 370h4v4h-4z"/>
<path fill="#cb0000" d="M650 158h4v4h-4zM670 158h4v4h-4zM646 162h4v4h-4zM682 162h4v4h-4zM646 174h4v4h-4zM650 178h4v4h-4zM702 178h4v4h-4zM654 182h4v4h-4zM666 190h4v4h-4zM702 190h4v4h-4zM674 194h4v4h-4zM698 194h4v4h-4zM746 262h4v4h-4zM598 270h4v4h-4zM602 270h4v4h-4zM742 270h4v4h-4zM498 274h4v4h-4zM502 274h4v4h-4zM490 278h4v4h-4zM506 278h4v4h-4zM586 278h4v4h-4zM310 282h4v4h-4zM314 282h4v4h-4zM318 282h4v4h-4zM510 282h4v4h-4zM302 286h4v4h-4zM514 286h4v4h-4zM654 286h4v4h-4zM738 286h4v4h-4zM294 290h4v4h-4zM478 290h4v4h-4zM518 290h4v4h-4zM582 290h4v4h-4zM662 290h4v4h-4zM286 294h4v4h-4zM466 294h4v4h-4zM470 294h4v4h-4zM278 298h4v4h-4zM338 298h4v4h-4zM434 298h4v4h-4zM362 302h4v4h-4zM530 302h4v4h-4zM534 306h4v4h-4zM546 314h4v4h-4zM566 314h4v4h-4zM734 314h4v4h-4zM662 354h4v4h-4zM662 370h4v4h-4z"/>
<path fill="#c90000" d="M654 158h4v4h-4zM658 158h4v4h-4zM662 158h4v4h-4zM686 166h4v4h-4zM650 174h4v4h-4zM654 178h4v4h-4zM658 182h4v4h-4zM666 186h4v4h-4zM698 190h4v4h-4zM682 194h4v4h-4zM686 194h4v4h-4zM690 194h4v4h-4zM750 262h4v4h-4zM746 270h4v4h-4zM614 274h4v4h-4zM742 278h4v4h-4zM494 282h4v4h-4zM498 282h4v4h-4zM502 282h4v4h-4zM506 282h4v4h-4zM314 286h4v4h-4zM490 286h4v4h-4zM510 286h4v4h-4zM302 290h4v4h-4zM322 290h4v4h-4zM482 290h4v4h-4zM514 290h4v4h-4zM290 294h4v4h-4zM474 294h4v4h-4zM518 294h4v4h-4zM582 294h4v4h-4zM662 294h4v4h-4zM738 294h4v4h-4zM282 298h4v4h-4zM334 298h4v4h-4zM446 298h4v4h-4zM450 298h4v4h-4zM738 298h4v4h-4zM342 302h4v4h-4zM370 302h4v4h-4zM666 302h4v4h-4zM574 310h4v4h-4zM570 314h4v4h-4zM554 318h4v4h-4zM558 318h4v4h-4zM562 318h4v4h-4zM734 322h4v4h-4zM666 338h4v4h-4zM730 342h4v4h-4zM662 350h4v4h-4zM726 354h4v4h-4zM722 362h4v4h-4z"/>
<path fill="#ca0000" d="M666 158h4v4h-4zM678 162h4v4h-4zM646 166h4v4h-4zM646 170h4v4h-4zM694 170h4v4h-4zM698 174h4v4h-4zM702 182h4v4h-4zM662 186h4v4h-4zM702 186h4v4h-4zM670 190h4v4h-4zM678 194h4v4h-4zM694 194h4v4h-4zM762 246h4v4h-4zM758 250h4v4h-4zM754 254h4v4h-4zM750 258h4v4h-4zM746 266h4v4h-4zM590 274h4v4h-4zM742 274h4v4h-4zM494 278h4v4h-4zM498 278h4v4h-4zM502 278h4v4h-4zM626 278h4v4h-4zM490 282h4v4h-4zM638 282h4v4h-4zM306 286h4v4h-4zM310 286h4v4h-4zM318 286h4v4h-4zM322 286h4v4h-4zM486 286h4v4h-4zM650 286h4v4h-4zM298 290h4v4h-4zM326 290h4v4h-4zM658 290h4v4h-4zM738 290h4v4h-4zM330 294h4v4h-4zM438 298h4v4h-4zM442 298h4v4h-4zM666 298h4v4h-4zM346 302h4v4h-4zM366 302h4v4h-4zM578 302h4v4h-4zM538 310h4v4h-4zM734 318h4v4h-4z"/>
<path fill="#cc0000" d="M674 158h4v4h-4zM690 166h4v4h-4zM658 186h4v4h-4zM686 198h4v4h-4zM758 246h4v4h-4zM754 250h4v4h-4zM750 254h4v4h-4zM746 258h4v4h-4zM742 266h4v4h-4zM498 270h4v4h-4zM606 270h4v4h-4zM494 274h4v4h-4zM506 274h4v4h-4zM618 274h4v4h-4zM314 278h4v4h-4zM318 278h4v4h-4zM510 278h4v4h-4zM630 278h4v4h-4zM306 282h4v4h-4zM322 282h4v4h-4zM486 282h4v4h-4zM642 282h4v4h-4zM738 282h4v4h-4zM298 286h4v4h-4zM326 286h4v4h-4zM482 286h4v4h-4zM658 286h4v4h-4zM290 290h4v4h-4zM330 290h4v4h-4zM282 294h4v4h-4zM334 294h4v4h-4zM462 294h4v4h-4zM522 294h4v4h-4zM666 294h4v4h-4zM430 298h4v4h-4zM526 298h4v4h-4zM350 302h4v4h-4zM354 302h4v4h-4zM358 302h4v4h-4zM670 302h4v4h-4zM574 306h4v4h-4zM670 306h4v4h-4zM570 310h4v4h-4zM670 310h4v4h-4zM734 310h4v4h-4zM550 314h4v4h-4zM670 314h4v4h-4zM670 318h4v4h-4zM670 322h4v4h-4zM730 338h4v4h-4zM666 342h4v4h-4zM662 358h4v4h-4zM662 362h4v4h-4zM662 366h4v4h-4z"/>
<path fill="#d80000" d="M694 158h4v4h-4zM630 162h4v4h-4zM710 174h4v4h-4zM646 190h4v4h-4zM718 194h4v4h-4zM718 198h4v4h-4zM662 202h4v4h-4zM718 202h4v4h-4zM666 206h4v4h-4zM718 206h4v4h-4zM670 210h4v4h-4zM718 210h4v4h-4zM674 214h4v4h-4zM722 214h4v4h-4zM722 218h4v4h-4zM726 222h4v4h-4zM730 222h4v4h-4zM674 226h4v4h-4zM734 226h4v4h-4zM738 226h4v4h-4zM742 226h4v4h-4zM746 226h4v4h-4zM750 226h4v4h-4zM754 226h4v4h-4zM758 226h4v4h-4zM458 234h4v4h-4zM474 234h4v4h-4zM486 238h4v4h-4zM494 242h4v4h-4zM670 242h4v4h-4zM502 246h4v4h-4zM306 250h4v4h-4zM326 250h4v4h-4zM458 250h4v4h-4zM302 254h4v4h-4zM330 254h4v4h-4zM298 258h4v4h-4zM462 258h4v4h-4zM518 262h4v4h-4zM590 266h4v4h-4zM614 266h4v4h-4zM290 270h4v4h-4zM338 270h4v4h-4zM662 270h4v4h-4zM706 270h4v4h-4zM710 270h4v4h-4zM714 270h4v4h-4zM286 274h4v4h-4zM698 274h4v4h-4zM718 274h4v4h-4zM462 278h4v4h-4zM694 278h4v4h-4zM718 278h4v4h-4zM274 282h4v4h-4zM342 282h4v4h-4zM454 282h4v4h-4zM526 282h4v4h-4zM578 282h4v4h-4zM690 282h4v4h-4zM446 286h4v4h-4zM722 286h4v4h-4zM434 290h4v4h-4zM686 290h4v4h-4zM722 290h4v4h-4zM354 294h4v4h-4zM358 294h4v4h-4zM414 294h4v4h-4zM534 294h4v4h-4zM570 298h4v4h-4zM566 302h4v4h-4zM682 306h4v4h-4zM726 310h4v4h-4zM726 314h4v4h-4zM678 318h4v4h-4zM670 350h4v4h-4z"/>
<path fill="#c80000" d="M650 162h4v4h-4zM674 162h4v4h-4zM650 166h4v4h-4zM682 166h4v4h-4zM650 170h4v4h-4zM690 170h4v4h-4zM662 182h4v4h-4zM674 190h4v4h-4zM762 250h4v4h-4zM758 254h4v4h-4zM754 258h4v4h-4zM622 278h4v4h-4zM586 282h4v4h-4zM634 282h4v4h-4zM742 282h4v4h-4zM646 286h4v4h-4zM306 290h4v4h-4zM310 290h4v4h-4zM314 290h4v4h-4zM318 290h4v4h-4zM486 290h4v4h-4zM654 290h4v4h-4zM294 294h4v4h-4zM326 294h4v4h-4zM478 294h4v4h-4zM286 298h4v4h-4zM454 298h4v4h-4zM458 298h4v4h-4zM462 298h4v4h-4zM522 298h4v4h-4zM374 302h4v4h-4zM378 302h4v4h-4zM526 302h4v4h-4zM738 302h4v4h-4zM666 306h4v4h-4zM542 314h4v4h-4zM550 318h4v4h-4zM734 326h4v4h-4zM666 334h4v4h-4z"/>
<path fill="#c70000" d="M654 162h4v4h-4zM666 162h4v4h-4zM670 162h4v4h-4zM678 166h4v4h-4zM654 174h4v4h-4zM694 174h4v4h-4zM658 178h4v4h-4zM698 178h4v4h-4zM670 186h4v4h-4zM698 186h4v4h-4zM678 190h4v4h-4zM682 190h4v4h-4zM694 190h4v4h-4zM750 266h4v4h-4zM610 274h4v4h-4zM746 274h4v4h-4zM494 286h4v4h-4zM498 286h4v4h-4zM502 286h4v4h-4zM506 286h4v4h-4zM642 286h4v4h-4zM742 286h4v4h-4zM510 290h4v4h-4zM298 294h4v4h-4zM322 294h4v4h-4zM482 294h4v4h-4zM658 294h4v4h-4zM290 298h4v4h-4zM330 298h4v4h-4zM466 298h4v4h-4zM470 298h4v4h-4zM582 298h4v4h-4zM662 298h4v4h-4zM338 302h4v4h-4zM382 302h4v4h-4zM386 302h4v4h-4zM390 302h4v4h-4zM394 302h4v4h-4zM398 302h4v4h-4zM402 302h4v4h-4zM406 302h4v4h-4zM410 302h4v4h-4zM414 302h4v4h-4zM418 302h4v4h-4zM530 306h4v4h-4zM578 306h4v4h-4zM738 306h4v4h-4zM534 310h4v4h-4zM666 310h4v4h-4zM546 318h4v4h-4zM566 318h4v4h-4zM666 326h4v4h-4zM666 330h4v4h-4zM662 346h4v4h-4zM658 362h4v4h-4zM658 366h4v4h-4zM714 374h4v4h-4z"/>
<path fill="#c60000" d="M658 162h4v4h-4zM662 162h4v4h-4zM654 166h4v4h-4zM674 166h4v4h-4zM654 170h4v4h-4zM686 170h4v4h-4zM658 174h4v4h-4zM662 178h4v4h-4zM666 182h4v4h-4zM698 182h4v4h-4zM674 186h4v4h-4zM686 190h4v4h-4zM690 190h4v4h-4zM762 254h4v4h-4zM758 258h4v4h-4zM754 262h4v4h-4zM750 270h4v4h-4zM746 278h4v4h-4zM630 282h4v4h-4zM586 286h4v4h-4zM490 290h4v4h-4zM494 290h4v4h-4zM650 290h4v4h-4zM742 290h4v4h-4zM302 294h4v4h-4zM306 294h4v4h-4zM310 294h4v4h-4zM314 294h4v4h-4zM318 294h4v4h-4zM514 294h4v4h-4zM294 298h4v4h-4zM326 298h4v4h-4zM474 298h4v4h-4zM422 302h4v4h-4zM426 302h4v4h-4zM538 314h4v4h-4zM574 314h4v4h-4zM666 314h4v4h-4zM666 318h4v4h-4zM554 322h4v4h-4zM558 322h4v4h-4zM666 322h4v4h-4zM734 330h4v4h-4zM730 346h4v4h-4zM658 358h4v4h-4z"/>
<path fill="#c50000" d="M658 166h4v4h-4zM662 166h4v4h-4zM666 166h4v4h-4zM670 166h4v4h-4zM658 170h4v4h-4zM682 170h4v4h-4zM690 174h4v4h-4zM666 178h4v4h-4zM694 178h4v4h-4zM670 182h4v4h-4zM678 186h4v4h-4zM694 186h4v4h-4zM594 274h4v4h-4zM606 274h4v4h-4zM618 278h4v4h-4zM638 286h4v4h-4zM498 290h4v4h-4zM502 290h4v4h-4zM506 290h4v4h-4zM486 294h4v4h-4zM654 294h4v4h-4zM742 294h4v4h-4zM298 298h4v4h-4zM478 298h4v4h-4zM518 298h4v4h-4zM286 302h4v4h-4zM334 302h4v4h-4zM430 302h4v4h-4zM434 302h4v4h-4zM522 302h4v4h-4zM582 302h4v4h-4zM662 302h4v4h-4zM346 306h4v4h-4zM350 306h4v4h-4zM354 306h4v4h-4zM358 306h4v4h-4zM578 310h4v4h-4zM738 310h4v4h-4zM542 318h4v4h-4zM570 318h4v4h-4zM550 322h4v4h-4zM562 322h4v4h-4zM658 354h4v4h-4zM718 370h4v4h-4z"/>
<path fill="#c40000" d="M662 170h4v4h-4zM666 170h4v4h-4zM670 170h4v4h-4zM674 170h4v4h-4zM678 170h4v4h-4zM662 174h4v4h-4zM666 174h4v4h-4zM686 174h4v4h-4zM670 178h4v4h-4zM674 182h4v4h-4zM694 182h4v4h-4zM682 186h4v4h-4zM686 186h4v4h-4zM690 186h4v4h-4zM754 266h4v4h-4zM598 274h4v4h-4zM602 274h4v4h-4zM750 274h4v4h-4zM590 278h4v4h-4zM626 282h4v4h-4zM746 282h4v4h-4zM586 290h4v4h-4zM646 290h4v4h-4zM490 294h4v4h-4zM510 294h4v4h-4zM302 298h4v4h-4zM318 298h4v4h-4zM322 298h4v4h-4zM658 298h4v4h-4zM290 302h4v4h-4zM330 302h4v4h-4zM438 302h4v4h-4zM442 302h4v4h-4zM342 306h4v4h-4zM362 306h4v4h-4zM526 306h4v4h-4zM662 306h4v4h-4zM530 310h4v4h-4zM738 314h4v4h-4zM566 322h4v4h-4zM734 334h4v4h-4zM662 342h4v4h-4z"/>
<path fill="#c30000" d="M670 174h4v4h-4zM674 174h4v4h-4zM678 174h4v4h-4zM682 174h4v4h-4zM674 178h4v4h-4zM678 178h4v4h-4zM690 178h4v4h-4zM678 182h4v4h-4zM682 182h4v4h-4zM690 182h4v4h-4zM762 258h4v4h-4zM758 262h4v4h-4zM614 278h4v4h-4zM634 286h4v4h-4zM746 286h4v4h-4zM494 294h4v4h-4zM498 294h4v4h-4zM502 294h4v4h-4zM506 294h4v4h-4zM306 298h4v4h-4zM310 298h4v4h-4zM314 298h4v4h-4zM482 298h4v4h-4zM514 298h4v4h-4zM742 298h4v4h-4zM294 302h4v4h-4zM446 302h4v4h-4zM450 302h4v4h-4zM454 302h4v4h-4zM458 302h4v4h-4zM462 302h4v4h-4zM582 306h4v4h-4zM534 314h4v4h-4zM574 318h4v4h-4zM546 322h4v4h-4zM558 326h4v4h-4zM658 350h4v4h-4zM726 358h4v4h-4z"/>
<path fill="#c20000" d="M682 178h4v4h-4zM686 178h4v4h-4zM686 182h4v4h-4zM754 270h4v4h-4zM750 278h4v4h-4zM622 282h4v4h-4zM642 290h4v4h-4zM586 294h4v4h-4zM650 294h4v4h-4zM486 298h4v4h-4zM298 302h4v4h-4zM326 302h4v4h-4zM466 302h4v4h-4zM470 302h4v4h-4zM518 302h4v4h-4zM658 302h4v4h-4zM742 302h4v4h-4zM338 306h4v4h-4zM366 306h4v4h-4zM662 310h4v4h-4zM578 314h4v4h-4zM538 318h4v4h-4zM738 318h4v4h-4zM570 322h4v4h-4zM554 326h4v4h-4zM562 326h4v4h-4zM662 338h4v4h-4zM654 362h4v4h-4zM654 366h4v4h-4z"/>
<path fill="#ff1e15" d="M378 246h4v4h-4zM386 262h4v4h-4z"/>
<path fill="#c00000" d="M762 262h4v4h-4zM754 274h4v4h-4zM610 278h4v4h-4zM750 282h4v4h-4zM638 290h4v4h-4zM646 294h4v4h-4zM494 298h4v4h-4zM506 298h4v4h-4zM586 298h4v4h-4zM306 302h4v4h-4zM310 302h4v4h-4zM314 302h4v4h-4zM318 302h4v4h-4zM478 302h4v4h-4zM290 306h4v4h-4zM742 306h4v4h-4zM526 310h4v4h-4zM582 310h4v4h-4zM662 318h4v4h-4zM574 322h4v4h-4zM662 322h4v4h-4zM738 322h4v4h-4zM546 326h4v4h-4zM662 326h4v4h-4zM662 330h4v4h-4zM662 334h4v4h-4zM734 338h4v4h-4zM658 346h4v4h-4z"/>
<path fill="#c10000" d="M758 266h4v4h-4zM590 282h4v4h-4zM630 286h4v4h-4zM746 290h4v4h-4zM490 298h4v4h-4zM510 298h4v4h-4zM654 298h4v4h-4zM302 302h4v4h-4zM322 302h4v4h-4zM474 302h4v4h-4zM334 306h4v4h-4zM370 306h4v4h-4zM522 306h4v4h-4zM662 314h4v4h-4zM542 322h4v4h-4zM550 326h4v4h-4zM566 326h4v4h-4zM730 350h4v4h-4zM654 358h4v4h-4zM722 366h4v4h-4z"/>
<path fill="#bd0000" d="M762 266h4v4h-4zM606 278h4v4h-4zM754 278h4v4h-4zM750 286h4v4h-4zM634 290h4v4h-4zM642 294h4v4h-4zM490 302h4v4h-4zM494 302h4v4h-4zM506 302h4v4h-4zM302 306h4v4h-4zM322 306h4v4h-4zM378 306h4v4h-4zM406 306h4v4h-4zM410 306h4v4h-4zM414 306h4v4h-4zM418 306h4v4h-4zM422 306h4v4h-4zM426 306h4v4h-4zM430 306h4v4h-4zM342 310h4v4h-4zM354 310h4v4h-4zM658 310h4v4h-4zM742 310h4v4h-4zM582 314h4v4h-4zM574 326h4v4h-4zM738 326h4v4h-4zM546 330h4v4h-4zM658 342h4v4h-4zM654 350h4v4h-4zM650 366h4v4h-4zM714 378h4v4h-4z"/>
<path fill="#be0000" d="M758 270h4v4h-4zM594 278h4v4h-4zM590 286h4v4h-4zM626 286h4v4h-4zM650 298h4v4h-4zM486 302h4v4h-4zM510 302h4v4h-4zM586 302h4v4h-4zM654 302h4v4h-4zM298 306h4v4h-4zM326 306h4v4h-4zM518 306h4v4h-4zM346 310h4v4h-4zM350 310h4v4h-4zM534 318h4v4h-4zM538 322h4v4h-4zM542 326h4v4h-4zM550 330h4v4h-4zM566 330h4v4h-4z"/>
<path fill="#ba0000" d="M762 270h4v4h-4zM594 282h4v4h-4zM754 282h4v4h-4zM638 294h4v4h-4zM650 302h4v4h-4zM746 302h4v4h-4zM486 306h4v4h-4zM510 306h4v4h-4zM298 310h4v4h-4zM330 310h4v4h-4zM362 310h4v4h-4zM518 310h4v4h-4zM586 310h4v4h-4zM658 318h4v4h-4zM578 326h4v4h-4zM574 330h4v4h-4zM738 330h4v4h-4zM546 334h4v4h-4zM570 334h4v4h-4zM554 338h4v4h-4zM558 338h4v4h-4zM654 346h4v4h-4zM730 354h4v4h-4zM726 362h4v4h-4z"/>
<path fill="#bb0000" d="M758 274h4v4h-4zM622 286h4v4h-4zM630 290h4v4h-4zM750 290h4v4h-4zM590 294h4v4h-4zM646 298h4v4h-4zM386 306h4v4h-4zM390 306h4v4h-4zM394 306h4v4h-4zM398 306h4v4h-4zM478 306h4v4h-4zM482 306h4v4h-4zM654 306h4v4h-4zM294 310h4v4h-4zM334 310h4v4h-4zM658 314h4v4h-4zM742 314h4v4h-4zM530 318h4v4h-4zM582 318h4v4h-4zM534 322h4v4h-4zM538 326h4v4h-4zM542 330h4v4h-4zM550 334h4v4h-4zM566 334h4v4h-4zM658 338h4v4h-4zM734 342h4v4h-4zM650 358h4v4h-4zM718 374h4v4h-4z"/>
<path fill="#b60000" d="M762 274h4v4h-4zM602 282h4v4h-4zM614 286h4v4h-4zM594 290h4v4h-4zM638 298h4v4h-4zM370 310h4v4h-4zM462 310h4v4h-4zM466 310h4v4h-4zM470 310h4v4h-4zM478 310h4v4h-4zM482 310h4v4h-4zM486 310h4v4h-4zM490 310h4v4h-4zM494 310h4v4h-4zM502 310h4v4h-4zM506 310h4v4h-4zM298 314h4v4h-4zM342 314h4v4h-4zM346 314h4v4h-4zM518 314h4v4h-4zM654 314h4v4h-4zM522 318h4v4h-4zM534 330h4v4h-4zM578 334h4v4h-4zM538 338h4v4h-4zM574 338h4v4h-4zM542 342h4v4h-4zM570 342h4v4h-4zM554 346h4v4h-4zM558 346h4v4h-4zM734 346h4v4h-4zM646 358h4v4h-4z"/>
<path fill="#bc0000" d="M598 278h4v4h-4zM602 278h4v4h-4zM614 282h4v4h-4zM590 290h4v4h-4zM746 298h4v4h-4zM498 302h4v4h-4zM502 302h4v4h-4zM306 306h4v4h-4zM310 306h4v4h-4zM314 306h4v4h-4zM318 306h4v4h-4zM382 306h4v4h-4zM402 306h4v4h-4zM434 306h4v4h-4zM438 306h4v4h-4zM442 306h4v4h-4zM446 306h4v4h-4zM450 306h4v4h-4zM454 306h4v4h-4zM458 306h4v4h-4zM462 306h4v4h-4zM466 306h4v4h-4zM470 306h4v4h-4zM474 306h4v4h-4zM514 306h4v4h-4zM586 306h4v4h-4zM338 310h4v4h-4zM358 310h4v4h-4zM522 310h4v4h-4zM526 314h4v4h-4zM578 322h4v4h-4zM570 330h4v4h-4zM554 334h4v4h-4zM558 334h4v4h-4zM562 334h4v4h-4zM650 362h4v4h-4z"/>
<path fill="#b80000" d="M758 278h4v4h-4zM594 286h4v4h-4zM618 286h4v4h-4zM626 290h4v4h-4zM634 294h4v4h-4zM750 294h4v4h-4zM642 298h4v4h-4zM590 302h4v4h-4zM306 310h4v4h-4zM310 310h4v4h-4zM314 310h4v4h-4zM318 310h4v4h-4zM322 310h4v4h-4zM366 310h4v4h-4zM514 310h4v4h-4zM654 310h4v4h-4zM526 318h4v4h-4zM742 318h4v4h-4zM530 322h4v4h-4zM534 326h4v4h-4zM578 330h4v4h-4zM574 334h4v4h-4zM546 338h4v4h-4zM570 338h4v4h-4zM554 342h4v4h-4zM558 342h4v4h-4zM646 362h4v4h-4zM646 366h4v4h-4z"/>
<path fill="#b30000" d="M762 278h4v4h-4zM618 290h4v4h-4zM626 294h4v4h-4zM634 298h4v4h-4zM594 302h4v4h-4zM646 306h4v4h-4zM374 310h4v4h-4zM418 310h4v4h-4zM422 310h4v4h-4zM426 310h4v4h-4zM314 314h4v4h-4zM318 314h4v4h-4zM322 314h4v4h-4zM502 314h4v4h-4zM506 314h4v4h-4zM590 318h4v4h-4zM522 322h4v4h-4zM526 326h4v4h-4zM654 326h4v4h-4zM586 330h4v4h-4zM654 330h4v4h-4zM530 334h4v4h-4zM530 338h4v4h-4zM530 342h4v4h-4zM578 342h4v4h-4zM534 346h4v4h-4zM574 346h4v4h-4zM538 350h4v4h-4zM542 350h4v4h-4zM562 350h4v4h-4zM566 350h4v4h-4zM646 350h4v4h-4z"/>
<path fill="#b70000" d="M598 282h4v4h-4zM606 282h4v4h-4zM754 286h4v4h-4zM646 302h4v4h-4zM590 306h4v4h-4zM650 306h4v4h-4zM746 306h4v4h-4zM474 310h4v4h-4zM510 310h4v4h-4zM586 318h4v4h-4zM582 326h4v4h-4zM538 334h4v4h-4zM542 338h4v4h-4zM546 342h4v4h-4zM550 342h4v4h-4zM562 342h4v4h-4zM566 342h4v4h-4zM654 342h4v4h-4zM650 350h4v4h-4zM722 370h4v4h-4z"/>
<path fill="#b90000" d="M610 282h4v4h-4zM590 298h4v4h-4zM490 306h4v4h-4zM494 306h4v4h-4zM498 306h4v4h-4zM502 306h4v4h-4zM506 306h4v4h-4zM302 310h4v4h-4zM326 310h4v4h-4zM522 314h4v4h-4zM586 314h4v4h-4zM582 322h4v4h-4zM658 322h4v4h-4zM658 326h4v4h-4zM538 330h4v4h-4zM658 330h4v4h-4zM542 334h4v4h-4zM658 334h4v4h-4zM550 338h4v4h-4zM562 338h4v4h-4zM566 338h4v4h-4zM650 354h4v4h-4z"/>
<path fill="#bf0000" d="M618 282h4v4h-4zM746 294h4v4h-4zM498 298h4v4h-4zM502 298h4v4h-4zM482 302h4v4h-4zM514 302h4v4h-4zM294 306h4v4h-4zM330 306h4v4h-4zM374 306h4v4h-4zM658 306h4v4h-4zM530 314h4v4h-4zM578 318h4v4h-4zM570 326h4v4h-4zM554 330h4v4h-4zM558 330h4v4h-4zM562 330h4v4h-4zM654 354h4v4h-4z"/>
<path fill="#b50000" d="M758 282h4v4h-4zM622 290h4v4h-4zM594 294h4v4h-4zM630 294h4v4h-4zM750 298h4v4h-4zM454 310h4v4h-4zM458 310h4v4h-4zM498 310h4v4h-4zM590 310h4v4h-4zM302 314h4v4h-4zM334 314h4v4h-4zM338 314h4v4h-4zM350 314h4v4h-4zM514 314h4v4h-4zM526 322h4v4h-4zM586 322h4v4h-4zM530 326h4v4h-4zM582 330h4v4h-4zM534 334h4v4h-4zM738 334h4v4h-4zM654 338h4v4h-4zM538 342h4v4h-4zM542 346h4v4h-4zM546 346h4v4h-4zM550 346h4v4h-4zM562 346h4v4h-4zM566 346h4v4h-4zM650 346h4v4h-4zM646 354h4v4h-4zM642 370h4v4h-4z"/>
<path fill="#af0000" d="M762 282h4v4h-4zM606 290h4v4h-4zM618 294h4v4h-4zM598 298h4v4h-4zM626 298h4v4h-4zM634 302h4v4h-4zM750 306h4v4h-4zM382 310h4v4h-4zM398 310h4v4h-4zM462 314h4v4h-4zM310 318h4v4h-4zM490 318h4v4h-4zM494 318h4v4h-4zM594 318h4v4h-4zM506 322h4v4h-4zM650 322h4v4h-4zM510 326h4v4h-4zM514 326h4v4h-4zM514 330h4v4h-4zM650 330h4v4h-4zM514 334h4v4h-4zM590 334h4v4h-4zM650 334h4v4h-4zM514 338h4v4h-4zM514 342h4v4h-4zM514 346h4v4h-4zM586 346h4v4h-4zM514 350h4v4h-4zM582 350h4v4h-4zM642 350h4v4h-4zM518 354h4v4h-4zM578 354h4v4h-4zM526 358h4v4h-4zM530 358h4v4h-4zM566 358h4v4h-4zM570 358h4v4h-4zM638 358h4v4h-4zM634 370h4v4h-4z"/>
<path fill="#b40000" d="M598 286h4v4h-4zM610 286h4v4h-4zM754 290h4v4h-4zM594 298h4v4h-4zM642 302h4v4h-4zM430 310h4v4h-4zM434 310h4v4h-4zM438 310h4v4h-4zM442 310h4v4h-4zM446 310h4v4h-4zM450 310h4v4h-4zM650 310h4v4h-4zM746 310h4v4h-4zM306 314h4v4h-4zM310 314h4v4h-4zM326 314h4v4h-4zM330 314h4v4h-4zM354 314h4v4h-4zM510 314h4v4h-4zM590 314h4v4h-4zM518 318h4v4h-4zM654 318h4v4h-4zM654 322h4v4h-4zM742 322h4v4h-4zM586 326h4v4h-4zM530 330h4v4h-4zM582 334h4v4h-4zM654 334h4v4h-4zM534 338h4v4h-4zM578 338h4v4h-4zM534 342h4v4h-4zM574 342h4v4h-4zM538 346h4v4h-4zM570 346h4v4h-4zM546 350h4v4h-4zM550 350h4v4h-4zM554 350h4v4h-4zM558 350h4v4h-4zM642 362h4v4h-4zM642 366h4v4h-4z"/>
<path fill="#b20000" d="M602 286h4v4h-4zM606 286h4v4h-4zM598 290h4v4h-4zM750 302h4v4h-4zM594 306h4v4h-4zM410 310h4v4h-4zM414 310h4v4h-4zM358 314h4v4h-4zM478 314h4v4h-4zM482 314h4v4h-4zM486 314h4v4h-4zM490 314h4v4h-4zM494 314h4v4h-4zM498 314h4v4h-4zM650 314h4v4h-4zM514 318h4v4h-4zM518 322h4v4h-4zM590 322h4v4h-4zM522 326h4v4h-4zM526 330h4v4h-4zM526 334h4v4h-4zM526 338h4v4h-4zM582 338h4v4h-4zM526 342h4v4h-4zM650 342h4v4h-4zM526 346h4v4h-4zM530 346h4v4h-4zM530 350h4v4h-4zM534 350h4v4h-4zM570 350h4v4h-4zM538 354h4v4h-4zM542 354h4v4h-4zM546 354h4v4h-4zM550 354h4v4h-4zM554 354h4v4h-4zM558 354h4v4h-4zM562 354h4v4h-4zM642 358h4v4h-4zM730 358h4v4h-4z"/>
<path fill="#b10000" d="M758 286h4v4h-4zM614 290h4v4h-4zM622 294h4v4h-4zM754 294h4v4h-4zM630 298h4v4h-4zM638 302h4v4h-4zM378 310h4v4h-4zM406 310h4v4h-4zM594 310h4v4h-4zM470 314h4v4h-4zM474 314h4v4h-4zM746 314h4v4h-4zM506 318h4v4h-4zM510 318h4v4h-4zM514 322h4v4h-4zM590 326h4v4h-4zM742 326h4v4h-4zM522 330h4v4h-4zM522 334h4v4h-4zM586 334h4v4h-4zM522 338h4v4h-4zM738 338h4v4h-4zM522 342h4v4h-4zM582 342h4v4h-4zM522 346h4v4h-4zM578 346h4v4h-4zM522 350h4v4h-4zM526 350h4v4h-4zM574 350h4v4h-4zM530 354h4v4h-4zM534 354h4v4h-4zM566 354h4v4h-4zM642 354h4v4h-4zM638 366h4v4h-4zM726 366h4v4h-4zM638 370h4v4h-4zM638 374h4v4h-4zM718 378h4v4h-4z"/>
<path fill="#ab0000" d="M762 286h4v4h-4zM606 298h4v4h-4zM618 298h4v4h-4zM602 302h4v4h-4zM626 302h4v4h-4zM638 310h4v4h-4zM750 310h4v4h-4zM370 314h4v4h-4zM430 314h4v4h-4zM434 314h4v4h-4zM438 314h4v4h-4zM642 314h4v4h-4zM354 318h4v4h-4zM486 322h4v4h-4zM598 322h4v4h-4zM646 322h4v4h-4zM494 326h4v4h-4zM598 326h4v4h-4zM646 326h4v4h-4zM502 330h4v4h-4zM598 330h4v4h-4zM646 330h4v4h-4zM502 334h4v4h-4zM642 342h4v4h-4zM506 346h4v4h-4zM506 350h4v4h-4zM594 350h4v4h-4zM594 354h4v4h-4zM634 354h4v4h-4zM590 358h4v4h-4zM518 362h4v4h-4zM582 362h4v4h-4zM630 362h4v4h-4zM526 366h4v4h-4zM530 366h4v4h-4zM570 366h4v4h-4zM574 366h4v4h-4z"/>
<path fill="#b00000" d="M602 290h4v4h-4zM610 290h4v4h-4zM598 294h4v4h-4zM642 306h4v4h-4zM402 310h4v4h-4zM646 310h4v4h-4zM362 314h4v4h-4zM466 314h4v4h-4zM594 314h4v4h-4zM302 318h4v4h-4zM306 318h4v4h-4zM498 318h4v4h-4zM502 318h4v4h-4zM650 318h4v4h-4zM510 322h4v4h-4zM518 326h4v4h-4zM518 330h4v4h-4zM590 330h4v4h-4zM518 334h4v4h-4zM518 338h4v4h-4zM586 338h4v4h-4zM650 338h4v4h-4zM518 342h4v4h-4zM586 342h4v4h-4zM518 346h4v4h-4zM582 346h4v4h-4zM646 346h4v4h-4zM518 350h4v4h-4zM578 350h4v4h-4zM734 350h4v4h-4zM522 354h4v4h-4zM526 354h4v4h-4zM570 354h4v4h-4zM574 354h4v4h-4zM534 358h4v4h-4zM538 358h4v4h-4zM542 358h4v4h-4zM546 358h4v4h-4zM550 358h4v4h-4zM554 358h4v4h-4zM558 358h4v4h-4zM562 358h4v4h-4zM638 362h4v4h-4z"/>
<path fill="#ae0000" d="M758 290h4v4h-4zM602 294h4v4h-4zM754 298h4v4h-4zM598 302h4v4h-4zM598 306h4v4h-4zM638 306h4v4h-4zM386 310h4v4h-4zM390 310h4v4h-4zM394 310h4v4h-4zM642 310h4v4h-4zM366 314h4v4h-4zM454 314h4v4h-4zM458 314h4v4h-4zM646 314h4v4h-4zM322 318h4v4h-4zM326 318h4v4h-4zM330 318h4v4h-4zM334 318h4v4h-4zM338 318h4v4h-4zM342 318h4v4h-4zM346 318h4v4h-4zM482 318h4v4h-4zM486 318h4v4h-4zM498 322h4v4h-4zM502 322h4v4h-4zM594 322h4v4h-4zM506 326h4v4h-4zM594 326h4v4h-4zM650 326h4v4h-4zM510 330h4v4h-4zM590 338h4v4h-4zM510 342h4v4h-4zM590 342h4v4h-4zM646 342h4v4h-4zM510 346h4v4h-4zM586 350h4v4h-4zM514 354h4v4h-4zM582 354h4v4h-4zM638 354h4v4h-4zM518 358h4v4h-4zM522 358h4v4h-4zM574 358h4v4h-4zM530 362h4v4h-4zM534 362h4v4h-4zM538 362h4v4h-4zM542 362h4v4h-4zM546 362h4v4h-4zM550 362h4v4h-4zM554 362h4v4h-4zM558 362h4v4h-4zM562 362h4v4h-4zM634 362h4v4h-4zM634 366h4v4h-4zM634 374h4v4h-4z"/>
<path fill="#a70000" d="M762 290h4v4h-4zM610 306h4v4h-4zM622 306h4v4h-4zM606 310h4v4h-4zM630 310h4v4h-4zM410 314h4v4h-4zM606 314h4v4h-4zM634 314h4v4h-4zM750 314h4v4h-4zM362 318h4v4h-4zM454 318h4v4h-4zM638 318h4v4h-4zM338 322h4v4h-4zM342 322h4v4h-4zM470 322h4v4h-4zM482 326h4v4h-4zM490 330h4v4h-4zM494 334h4v4h-4zM606 334h4v4h-4zM742 334h4v4h-4zM606 338h4v4h-4zM638 338h4v4h-4zM498 342h4v4h-4zM606 342h4v4h-4zM634 342h4v4h-4zM606 346h4v4h-4zM630 346h4v4h-4zM610 350h4v4h-4zM626 350h4v4h-4zM502 354h4v4h-4zM610 354h4v4h-4zM614 354h4v4h-4zM618 354h4v4h-4zM622 354h4v4h-4zM610 358h4v4h-4zM614 358h4v4h-4zM618 358h4v4h-4zM610 362h4v4h-4zM614 362h4v4h-4zM514 366h4v4h-4zM602 366h4v4h-4zM606 366h4v4h-4zM610 366h4v4h-4zM614 366h4v4h-4zM522 370h4v4h-4zM590 370h4v4h-4zM594 370h4v4h-4zM598 370h4v4h-4zM602 370h4v4h-4zM606 370h4v4h-4zM610 370h4v4h-4zM614 370h4v4h-4zM534 374h4v4h-4zM538 374h4v4h-4zM570 374h4v4h-4zM574 374h4v4h-4zM578 374h4v4h-4zM614 374h4v4h-4zM618 374h4v4h-4zM718 382h4v4h-4z"/>
<path fill="#ad0000" d="M606 294h4v4h-4zM614 294h4v4h-4zM622 298h4v4h-4zM630 302h4v4h-4zM598 310h4v4h-4zM450 314h4v4h-4zM350 318h4v4h-4zM478 318h4v4h-4zM746 318h4v4h-4zM494 322h4v4h-4zM502 326h4v4h-4zM506 330h4v4h-4zM594 330h4v4h-4zM510 334h4v4h-4zM594 334h4v4h-4zM510 338h4v4h-4zM646 338h4v4h-4zM590 346h4v4h-4zM642 346h4v4h-4zM510 350h4v4h-4zM590 350h4v4h-4zM586 354h4v4h-4zM578 358h4v4h-4zM582 358h4v4h-4zM634 358h4v4h-4zM526 362h4v4h-4zM566 362h4v4h-4zM570 362h4v4h-4zM722 374h4v4h-4z"/>
<path fill="#ac0000" d="M610 294h4v4h-4zM602 298h4v4h-4zM634 306h4v4h-4zM442 314h4v4h-4zM446 314h4v4h-4zM598 314h4v4h-4zM470 318h4v4h-4zM474 318h4v4h-4zM598 318h4v4h-4zM646 318h4v4h-4zM490 322h4v4h-4zM498 326h4v4h-4zM742 330h4v4h-4zM506 334h4v4h-4zM646 334h4v4h-4zM506 338h4v4h-4zM594 338h4v4h-4zM506 342h4v4h-4zM594 342h4v4h-4zM738 342h4v4h-4zM594 346h4v4h-4zM638 350h4v4h-4zM510 354h4v4h-4zM590 354h4v4h-4zM514 358h4v4h-4zM586 358h4v4h-4zM522 362h4v4h-4zM574 362h4v4h-4zM578 362h4v4h-4zM534 366h4v4h-4zM538 366h4v4h-4zM542 366h4v4h-4zM546 366h4v4h-4zM550 366h4v4h-4zM554 366h4v4h-4zM558 366h4v4h-4zM562 366h4v4h-4zM566 366h4v4h-4zM630 366h4v4h-4zM630 370h4v4h-4z"/>
<path fill="#aa0000" d="M758 294h4v4h-4zM610 298h4v4h-4zM614 298h4v4h-4zM622 302h4v4h-4zM754 302h4v4h-4zM602 306h4v4h-4zM630 306h4v4h-4zM602 310h4v4h-4zM422 314h4v4h-4zM426 314h4v4h-4zM466 318h4v4h-4zM482 322h4v4h-4zM498 330h4v4h-4zM598 334h4v4h-4zM502 338h4v4h-4zM598 338h4v4h-4zM642 338h4v4h-4zM502 342h4v4h-4zM598 342h4v4h-4zM598 346h4v4h-4zM638 346h4v4h-4zM598 350h4v4h-4zM634 350h4v4h-4zM506 354h4v4h-4zM598 354h4v4h-4zM510 358h4v4h-4zM594 358h4v4h-4zM630 358h4v4h-4zM514 362h4v4h-4zM586 362h4v4h-4zM590 362h4v4h-4zM626 362h4v4h-4zM730 362h4v4h-4zM522 366h4v4h-4zM578 366h4v4h-4zM582 366h4v4h-4zM626 366h4v4h-4zM538 370h4v4h-4zM542 370h4v4h-4zM546 370h4v4h-4zM550 370h4v4h-4zM554 370h4v4h-4zM558 370h4v4h-4zM562 370h4v4h-4zM566 370h4v4h-4zM626 370h4v4h-4z"/>
<path fill="#a30000" d="M762 294h4v4h-4zM382 314h4v4h-4zM394 314h4v4h-4zM434 318h4v4h-4zM618 318h4v4h-4zM622 318h4v4h-4zM626 318h4v4h-4zM750 318h4v4h-4zM354 322h4v4h-4zM614 322h4v4h-4zM618 322h4v4h-4zM626 322h4v4h-4zM630 322h4v4h-4zM614 326h4v4h-4zM618 326h4v4h-4zM630 326h4v4h-4zM618 330h4v4h-4zM626 330h4v4h-4zM630 330h4v4h-4zM486 334h4v4h-4zM618 334h4v4h-4zM622 334h4v4h-4zM626 334h4v4h-4zM494 346h4v4h-4zM498 354h4v4h-4zM506 366h4v4h-4zM518 374h4v4h-4zM530 378h4v4h-4zM582 382h4v4h-4zM586 382h4v4h-4zM590 382h4v4h-4zM594 382h4v4h-4zM598 382h4v4h-4zM602 382h4v4h-4zM606 382h4v4h-4z"/>
<path fill="#a60000" d="M758 298h4v4h-4zM614 306h4v4h-4zM618 306h4v4h-4zM754 306h4v4h-4zM610 310h4v4h-4zM626 310h4v4h-4zM378 314h4v4h-4zM406 314h4v4h-4zM450 318h4v4h-4zM606 318h4v4h-4zM346 322h4v4h-4zM606 322h4v4h-4zM638 322h4v4h-4zM606 326h4v4h-4zM638 326h4v4h-4zM606 330h4v4h-4zM638 330h4v4h-4zM638 334h4v4h-4zM494 338h4v4h-4zM634 338h4v4h-4zM610 342h4v4h-4zM630 342h4v4h-4zM498 346h4v4h-4zM610 346h4v4h-4zM614 346h4v4h-4zM626 346h4v4h-4zM738 346h4v4h-4zM614 350h4v4h-4zM618 350h4v4h-4zM622 350h4v4h-4zM518 370h4v4h-4zM530 374h4v4h-4zM582 374h4v4h-4zM586 374h4v4h-4zM590 374h4v4h-4zM594 374h4v4h-4zM598 374h4v4h-4zM602 374h4v4h-4zM606 374h4v4h-4zM610 374h4v4h-4z"/>
<path fill="#9f0000" d="M762 298h4v4h-4zM374 318h4v4h-4zM414 318h4v4h-4zM450 322h4v4h-4zM478 334h4v4h-4zM482 338h4v4h-4zM486 342h4v4h-4zM490 350h4v4h-4zM738 350h4v4h-4zM498 362h4v4h-4zM510 374h4v4h-4zM726 374h4v4h-4zM526 382h4v4h-4zM590 390h4v4h-4z"/>
<path fill="#a90000" d="M606 302h4v4h-4zM618 302h4v4h-4zM634 310h4v4h-4zM418 314h4v4h-4zM602 314h4v4h-4zM638 314h4v4h-4zM358 318h4v4h-4zM462 318h4v4h-4zM602 318h4v4h-4zM642 318h4v4h-4zM478 322h4v4h-4zM746 322h4v4h-4zM490 326h4v4h-4zM494 330h4v4h-4zM498 334h4v4h-4zM642 334h4v4h-4zM602 342h4v4h-4zM638 342h4v4h-4zM502 346h4v4h-4zM602 346h4v4h-4zM602 350h4v4h-4zM602 354h4v4h-4zM630 354h4v4h-4zM734 354h4v4h-4zM598 358h4v4h-4zM626 358h4v4h-4zM594 362h4v4h-4zM622 362h4v4h-4zM518 366h4v4h-4zM586 366h4v4h-4zM590 366h4v4h-4zM622 366h4v4h-4zM530 370h4v4h-4zM534 370h4v4h-4zM570 370h4v4h-4zM574 370h4v4h-4zM578 370h4v4h-4zM622 370h4v4h-4z"/>
<path fill="#a80000" d="M610 302h4v4h-4zM614 302h4v4h-4zM606 306h4v4h-4zM626 306h4v4h-4zM374 314h4v4h-4zM414 314h4v4h-4zM458 318h4v4h-4zM334 322h4v4h-4zM474 322h4v4h-4zM602 322h4v4h-4zM642 322h4v4h-4zM486 326h4v4h-4zM602 326h4v4h-4zM642 326h4v4h-4zM602 330h4v4h-4zM642 330h4v4h-4zM602 334h4v4h-4zM498 338h4v4h-4zM602 338h4v4h-4zM634 346h4v4h-4zM502 350h4v4h-4zM606 350h4v4h-4zM630 350h4v4h-4zM606 354h4v4h-4zM626 354h4v4h-4zM506 358h4v4h-4zM602 358h4v4h-4zM606 358h4v4h-4zM622 358h4v4h-4zM510 362h4v4h-4zM598 362h4v4h-4zM602 362h4v4h-4zM606 362h4v4h-4zM618 362h4v4h-4zM594 366h4v4h-4zM598 366h4v4h-4zM618 366h4v4h-4zM526 370h4v4h-4zM582 370h4v4h-4zM586 370h4v4h-4zM618 370h4v4h-4zM726 370h4v4h-4zM554 374h4v4h-4zM558 374h4v4h-4z"/>
<path fill="#a20000" d="M758 302h4v4h-4zM754 310h4v4h-4zM386 314h4v4h-4zM390 314h4v4h-4zM426 318h4v4h-4zM430 318h4v4h-4zM458 322h4v4h-4zM622 322h4v4h-4zM470 326h4v4h-4zM622 326h4v4h-4zM626 326h4v4h-4zM478 330h4v4h-4zM622 330h4v4h-4zM742 338h4v4h-4zM490 342h4v4h-4zM494 350h4v4h-4zM498 358h4v4h-4zM502 362h4v4h-4zM510 370h4v4h-4zM526 378h4v4h-4z"/>
<path fill="#9b0000" d="M762 302h4v4h-4zM402 318h4v4h-4zM366 322h4v4h-4zM430 322h4v4h-4zM434 322h4v4h-4zM354 326h4v4h-4zM454 326h4v4h-4zM486 350h4v4h-4zM490 358h4v4h-4z"/>
<path fill="#9e0000" d="M758 306h4v4h-4zM754 314h4v4h-4zM410 318h4v4h-4zM362 322h4v4h-4zM446 322h4v4h-4zM750 322h4v4h-4zM346 326h4v4h-4zM462 326h4v4h-4zM470 330h4v4h-4zM494 358h4v4h-4zM514 378h4v4h-4zM522 382h4v4h-4z"/>
<path fill="#960000" d="M762 306h4v4h-4zM374 322h4v4h-4zM414 322h4v4h-4zM362 326h4v4h-4zM438 326h4v4h-4zM454 330h4v4h-4zM462 334h4v4h-4zM742 346h4v4h-4zM482 354h4v4h-4zM490 366h4v4h-4zM726 378h4v4h-4z"/>
<path fill="#a50000" d="M614 310h4v4h-4zM618 310h4v4h-4zM622 310h4v4h-4zM402 314h4v4h-4zM610 314h4v4h-4zM630 314h4v4h-4zM446 318h4v4h-4zM610 318h4v4h-4zM634 318h4v4h-4zM466 322h4v4h-4zM610 322h4v4h-4zM478 326h4v4h-4zM610 326h4v4h-4zM746 326h4v4h-4zM486 330h4v4h-4zM610 330h4v4h-4zM490 334h4v4h-4zM610 334h4v4h-4zM634 334h4v4h-4zM610 338h4v4h-4zM494 342h4v4h-4zM614 342h4v4h-4zM618 342h4v4h-4zM626 342h4v4h-4zM618 346h4v4h-4zM622 346h4v4h-4zM498 350h4v4h-4zM502 358h4v4h-4zM506 362h4v4h-4zM510 366h4v4h-4zM526 374h4v4h-4zM574 378h4v4h-4zM578 378h4v4h-4zM582 378h4v4h-4zM606 378h4v4h-4zM610 378h4v4h-4z"/>
<path fill="#9a0000" d="M758 310h4v4h-4zM398 318h4v4h-4zM426 322h4v4h-4zM462 330h4v4h-4zM470 334h4v4h-4zM746 334h4v4h-4zM474 338h4v4h-4zM478 342h4v4h-4zM482 346h4v4h-4zM498 370h4v4h-4zM502 374h4v4h-4zM722 382h4v4h-4zM522 386h4v4h-4z"/>
<path fill="#910000" d="M762 310h4v4h-4zM382 322h4v4h-4zM398 322h4v4h-4zM370 326h4v4h-4zM422 326h4v4h-4zM358 330h4v4h-4zM442 330h4v4h-4zM454 334h4v4h-4zM466 342h4v4h-4zM470 346h4v4h-4zM738 358h4v4h-4zM482 362h4v4h-4zM734 366h4v4h-4z"/>
<path fill="#a40000" d="M398 314h4v4h-4zM614 314h4v4h-4zM618 314h4v4h-4zM622 314h4v4h-4zM626 314h4v4h-4zM366 318h4v4h-4zM438 318h4v4h-4zM442 318h4v4h-4zM614 318h4v4h-4zM630 318h4v4h-4zM350 322h4v4h-4zM462 322h4v4h-4zM634 322h4v4h-4zM474 326h4v4h-4zM634 326h4v4h-4zM482 330h4v4h-4zM614 330h4v4h-4zM634 330h4v4h-4zM614 334h4v4h-4zM630 334h4v4h-4zM490 338h4v4h-4zM614 338h4v4h-4zM618 338h4v4h-4zM622 338h4v4h-4zM626 338h4v4h-4zM630 338h4v4h-4zM622 342h4v4h-4zM514 370h4v4h-4zM522 374h4v4h-4zM534 378h4v4h-4zM586 378h4v4h-4zM590 378h4v4h-4zM594 378h4v4h-4zM598 378h4v4h-4zM602 378h4v4h-4zM722 378h4v4h-4z"/>
<path fill="#950000" d="M758 314h4v4h-4zM410 322h4v4h-4zM350 330h4v4h-4zM478 350h4v4h-4zM486 362h4v4h-4z"/>
<path fill="#8c0000" d="M762 314h4v4h-4zM366 330h4v4h-4zM354 334h4v4h-4zM458 342h4v4h-4zM470 354h4v4h-4zM474 358h4v4h-4z"/>
<path fill="#a10000" d="M370 318h4v4h-4zM422 318h4v4h-4zM358 322h4v4h-4zM338 326h4v4h-4zM482 334h4v4h-4zM486 338h4v4h-4zM734 358h4v4h-4zM730 366h4v4h-4zM514 374h4v4h-4zM522 378h4v4h-4zM586 386h4v4h-4zM590 386h4v4h-4zM594 386h4v4h-4z"/>
<path fill="#9c0000" d="M378 318h4v4h-4zM406 318h4v4h-4zM438 322h4v4h-4zM466 330h4v4h-4zM478 338h4v4h-4zM482 342h4v4h-4zM742 342h4v4h-4zM494 362h4v4h-4zM518 382h4v4h-4zM526 386h4v4h-4z"/>
<path fill="#990000" d="M382 318h4v4h-4zM394 318h4v4h-4zM754 318h4v4h-4zM370 322h4v4h-4zM422 322h4v4h-4zM358 326h4v4h-4zM450 326h4v4h-4zM750 326h4v4h-4zM342 330h4v4h-4zM486 354h4v4h-4zM734 362h4v4h-4zM494 366h4v4h-4z"/>
<path fill="#980000" d="M386 318h4v4h-4zM390 318h4v4h-4zM446 326h4v4h-4zM458 330h4v4h-4zM466 334h4v4h-4zM482 350h4v4h-4zM738 354h4v4h-4zM490 362h4v4h-4zM730 370h4v4h-4z"/>
<path fill="#a00000" d="M418 318h4v4h-4zM454 322h4v4h-4zM342 326h4v4h-4zM466 326h4v4h-4zM474 330h4v4h-4zM746 330h4v4h-4zM490 346h4v4h-4zM494 354h4v4h-4zM502 366h4v4h-4zM506 370h4v4h-4zM518 378h4v4h-4zM530 382h4v4h-4z"/>
<path fill="#900000" d="M758 318h4v4h-4zM394 322h4v4h-4zM418 326h4v4h-4zM346 334h4v4h-4zM742 350h4v4h-4zM478 358h4v4h-4zM730 374h4v4h-4z"/>
<path fill="#870000" d="M762 318h4v4h-4zM374 330h4v4h-4zM414 330h4v4h-4zM430 334h4v4h-4zM442 338h4v4h-4zM750 338h4v4h-4zM450 342h4v4h-4zM730 378h4v4h-4z"/>
<path fill="#930000" d="M378 322h4v4h-4zM406 322h4v4h-4zM366 326h4v4h-4zM430 326h4v4h-4zM354 330h4v4h-4zM458 334h4v4h-4z"/>
<path fill="#8f0000" d="M386 322h4v4h-4zM390 322h4v4h-4zM438 330h4v4h-4zM450 334h4v4h-4zM458 338h4v4h-4zM474 354h4v4h-4z"/>
<path fill="#920000" d="M402 322h4v4h-4zM426 326h4v4h-4zM446 330h4v4h-4zM462 338h4v4h-4zM474 350h4v4h-4zM478 354h4v4h-4zM486 366h4v4h-4z"/>
<path fill="#970000" d="M418 322h4v4h-4zM442 326h4v4h-4zM346 330h4v4h-4zM470 338h4v4h-4zM474 342h4v4h-4zM478 346h4v4h-4zM486 358h4v4h-4zM494 370h4v4h-4zM498 374h4v4h-4z"/>
<path fill="#9d0000" d="M442 322h4v4h-4zM350 326h4v4h-4zM458 326h4v4h-4zM474 334h4v4h-4zM486 346h4v4h-4zM490 354h4v4h-4zM498 366h4v4h-4zM502 370h4v4h-4zM506 374h4v4h-4z"/>
<path fill="#940000" d="M754 322h4v4h-4zM434 326h4v4h-4zM450 330h4v4h-4zM750 330h4v4h-4zM466 338h4v4h-4zM746 338h4v4h-4zM470 342h4v4h-4zM474 346h4v4h-4zM482 358h4v4h-4z"/>
<path fill="#8a0000" d="M758 322h4v4h-4zM402 326h4v4h-4zM422 330h4v4h-4zM358 334h4v4h-4zM438 334h4v4h-4zM450 338h4v4h-4zM474 362h4v4h-4z"/>
<path fill="#810000" d="M762 322h4v4h-4zM390 330h4v4h-4zM374 334h4v4h-4zM414 334h4v4h-4zM750 342h4v4h-4zM446 346h4v4h-4zM746 350h4v4h-4zM466 366h4v4h-4zM738 366h4v4h-4zM734 374h4v4h-4z"/>
<path fill="#8e0000" d="M374 326h4v4h-4zM414 326h4v4h-4zM754 326h4v4h-4zM362 330h4v4h-4zM434 330h4v4h-4zM350 334h4v4h-4zM750 334h4v4h-4zM462 342h4v4h-4zM746 342h4v4h-4zM466 346h4v4h-4zM470 350h4v4h-4z"/>
<path fill="#8b0000" d="M378 326h4v4h-4zM406 326h4v4h-4zM426 330h4v4h-4zM442 334h4v4h-4zM462 346h4v4h-4zM466 350h4v4h-4z"/>
<path fill="#890000" d="M382 326h4v4h-4zM398 326h4v4h-4zM370 330h4v4h-4zM418 330h4v4h-4zM454 342h4v4h-4zM742 354h4v4h-4zM470 358h4v4h-4zM738 362h4v4h-4z"/>
<path fill="#880000" d="M386 326h4v4h-4zM390 326h4v4h-4zM394 326h4v4h-4zM754 330h4v4h-4zM362 334h4v4h-4zM434 334h4v4h-4zM446 338h4v4h-4zM458 346h4v4h-4zM746 346h4v4h-4zM462 350h4v4h-4zM466 354h4v4h-4zM734 370h4v4h-4z"/>
<path fill="#8d0000" d="M410 326h4v4h-4zM430 330h4v4h-4zM446 334h4v4h-4zM454 338h4v4h-4zM726 382h4v4h-4z"/>
<path fill="#850000" d="M758 326h4v4h-4zM378 330h4v4h-4zM366 334h4v4h-4zM426 334h4v4h-4zM438 338h4v4h-4zM458 350h4v4h-4zM462 354h4v4h-4zM726 386h4v4h-4z"/>
<path fill="#7c0000" d="M762 326h4v4h-4zM386 334h4v4h-4zM390 334h4v4h-4zM394 334h4v4h-4zM398 334h4v4h-4zM754 338h4v4h-4zM438 346h4v4h-4z"/>
<path fill="#830000" d="M382 330h4v4h-4zM402 330h4v4h-4zM370 334h4v4h-4zM754 334h4v4h-4zM434 338h4v4h-4zM450 346h4v4h-4zM462 358h4v4h-4zM466 362h4v4h-4z"/>
<path fill="#820000" d="M386 330h4v4h-4zM394 330h4v4h-4zM398 330h4v4h-4zM418 334h4v4h-4zM430 338h4v4h-4zM442 342h4v4h-4zM454 350h4v4h-4zM458 354h4v4h-4zM742 358h4v4h-4z"/>
<path fill="#840000" d="M406 330h4v4h-4zM422 334h4v4h-4zM446 342h4v4h-4zM470 366h4v4h-4z"/>
<path fill="#860000" d="M410 330h4v4h-4zM454 346h4v4h-4zM466 358h4v4h-4zM470 362h4v4h-4z"/>
<path fill="#7f0000" d="M758 330h4v4h-4zM378 334h4v4h-4zM366 338h4v4h-4zM434 342h4v4h-4zM442 346h4v4h-4zM454 354h4v4h-4zM458 358h4v4h-4z"/>
<path fill="#750000" d="M762 330h4v4h-4zM410 342h4v4h-4zM750 350h4v4h-4zM438 354h4v4h-4z"/>
<path fill="#7d0000" d="M382 334h4v4h-4zM402 334h4v4h-4zM370 338h4v4h-4zM418 338h4v4h-4zM430 342h4v4h-4zM446 350h4v4h-4zM450 354h4v4h-4zM454 358h4v4h-4zM458 362h4v4h-4zM462 366h4v4h-4z"/>
<path fill="#7e0000" d="M406 334h4v4h-4zM422 338h4v4h-4zM466 370h4v4h-4z"/>
<path fill="#800000" d="M410 334h4v4h-4zM426 338h4v4h-4zM438 342h4v4h-4zM450 350h4v4h-4zM462 362h4v4h-4zM730 382h4v4h-4z"/>
<path fill="#780000" d="M758 334h4v4h-4zM382 338h4v4h-4zM402 338h4v4h-4zM418 342h4v4h-4zM430 346h4v4h-4zM442 354h4v4h-4zM458 370h4v4h-4z"/>
<path fill="#6f0000" d="M762 334h4v4h-4zM406 346h4v4h-4zM754 346h4v4h-4z"/>
<path fill="#7b0000" d="M374 338h4v4h-4zM414 338h4v4h-4zM426 342h4v4h-4zM750 346h4v4h-4zM442 350h4v4h-4zM746 354h4v4h-4zM462 370h4v4h-4z"/>
<path fill="#790000" d="M378 338h4v4h-4zM406 338h4v4h-4zM422 342h4v4h-4zM438 350h4v4h-4zM730 386h4v4h-4z"/>
<path fill="#770000" d="M386 338h4v4h-4zM390 338h4v4h-4zM394 338h4v4h-4zM398 338h4v4h-4zM446 358h4v4h-4zM450 362h4v4h-4zM454 366h4v4h-4z"/>
<path fill="#7a0000" d="M410 338h4v4h-4zM434 346h4v4h-4zM446 354h4v4h-4zM450 358h4v4h-4zM454 362h4v4h-4zM742 362h4v4h-4zM458 366h4v4h-4zM738 370h4v4h-4zM734 378h4v4h-4z"/>
<path fill="#720000" d="M758 338h4v4h-4zM386 342h4v4h-4zM390 342h4v4h-4zM394 342h4v4h-4zM398 342h4v4h-4zM414 346h4v4h-4z"/>
<path fill="#680000" d="M762 338h4v4h-4z"/>
<path fill="#760000" d="M374 342h4v4h-4zM414 342h4v4h-4zM754 342h4v4h-4z"/>
<path fill="#740000" d="M378 342h4v4h-4zM406 342h4v4h-4zM442 358h4v4h-4zM746 358h4v4h-4zM446 362h4v4h-4zM450 366h4v4h-4zM454 370h4v4h-4z"/>
<path fill="#730000" d="M382 342h4v4h-4zM402 342h4v4h-4zM742 366h4v4h-4zM738 374h4v4h-4zM734 382h4v4h-4z"/>
<path fill="#6b0000" d="M758 342h4v4h-4zM406 350h4v4h-4zM742 370h4v4h-4z"/>
<path fill="#610000" d="M762 342h4v4h-4z"/>
<path fill="#6e0000" d="M402 346h4v4h-4zM750 354h4v4h-4z"/>
<path fill="#700000" d="M410 346h4v4h-4z"/>
<path fill="#650000" d="M758 346h4v4h-4zM746 366h4v4h-4zM738 382h4v4h-4zM734 390h4v4h-4z"/>
<path fill="#5b0000" d="M762 346h4v4h-4zM754 358h4v4h-4z"/>
<path fill="#6c0000" d="M410 350h4v4h-4zM746 362h4v4h-4zM738 378h4v4h-4zM734 386h4v4h-4z"/>
<path fill="#690000" d="M754 350h4v4h-4z"/>
<path fill="#5e0000" d="M758 350h4v4h-4zM742 378h4v4h-4z"/>
<path fill="#550000" d="M762 350h4v4h-4zM762 354h4v4h-4zM758 358h4v4h-4zM762 358h4v4h-4zM754 362h4v4h-4zM758 362h4v4h-4zM762 362h4v4h-4zM754 366h4v4h-4zM758 366h4v4h-4zM762 366h4v4h-4zM750 370h4v4h-4zM754 370h4v4h-4zM758 370h4v4h-4zM762 370h4v4h-4zM750 374h4v4h-4zM754 374h4v4h-4zM758 374h4v4h-4zM762 374h4v4h-4zM746 378h4v4h-4zM750 378h4v4h-4zM754 378h4v4h-4zM758 378h4v4h-4zM762 378h4v4h-4zM746 382h4v4h-4zM750 382h4v4h-4zM754 382h4v4h-4zM758 382h4v4h-4zM762 382h4v4h-4zM742 386h4v4h-4zM746 386h4v4h-4zM750 386h4v4h-4zM754 386h4v4h-4zM758 386h4v4h-4zM762 386h4v4h-4zM742 390h4v4h-4zM746 390h4v4h-4zM750 390h4v4h-4zM754 390h4v4h-4zM758 390h4v4h-4z"/>
<path fill="#620000" d="M754 354h4v4h-4z"/>
<path fill="#570000" d="M758 354h4v4h-4zM746 374h4v4h-4z"/>
<path fill="#670000" d="M750 358h4v4h-4z"/>
<path fill="#600000" d="M750 362h4v4h-4z"/>
<path fill="#580000" d="M750 366h4v4h-4zM742 382h4v4h-4z"/>
<path fill="#5d0000" d="M746 370h4v4h-4z"/>
<path fill="#640000" d="M742 374h4v4h-4z"/>
<path fill="#5f0000" d="M738 386h4v4h-4z"/>
<path fill="#590000" d="M738 390h4v4h-4z"/>
</g></g>
<g fill="none" stroke="#200000" stroke-opacity="0.6" stroke-width="0.9" clip-path="url(#ok)"><polyline points="102.5,26.5 102.5,80"/>
<polyline points="277.7,26.5 277.7,80.4"/>
<polyline points="195.6,26.5 195.6,80"/>
<polyline points="277.5,70 339.5,70 339.5,48"/>
<polyline points="326.25,27 328.75,31.5 332.5,37.75 336.25,42.75 339.5,47.75 343.75,49 350,52 357.5,56.5 361.25,61.5 365,66.5 368,70.25 368.25,79 377.5,79.5 382.5,84 388.75,87.75 395,91 400,92 404.5,84"/>
<polyline points="368,70.25 368,116"/>
<polyline points="404.5,27 404.5,84 442,84"/>
<polyline points="442,27 442,116"/>
<polyline points="442,70.25 533.75,70.25"/>
<polyline points="312.5,70 312.5,116"/>
<polyline points="312.5,116 497.5,116"/>
<polyline points="497.5,27 497.5,116"/>
<polyline points="559.6,27 559.6,47.5 555.3,51.8 550,52.8 546,56 541.4,58.2 535,58.8 532.8,61.4 533.9,68.9 536,70 541.4,70 546.7,72 543.5,75.3 539.3,77.5 536.7,79.6 536,82.8 536,94.6 544.6,94.6 544.6,107.5"/>
<polyline points="525.3,107.5 553.2,107.5 553.2,116 599,116"/>
<polyline points="537.1,79.6 541.4,78.1 546.1,79.6 550,77.5 554.2,74.3 558.5,73.8 561.7,77.5 563.9,83.9 567.1,88.2 572.4,91.4 575.7,95.2 575.7,98.9 578.9,100 582.1,100 585.3,103.2 589.6,106.4 594.9,108.5 599.2,110.7 602.4,112.8 603.5,115"/>
<polyline points="525.3,107.5 525.3,190.6"/>
<polyline points="570.3,116 570.3,195"/>
<polyline points="624.25,27 624.25,117"/>
<polyline points="624.25,88.5 640.5,88.5"/>
<polyline points="640.5,27 640.5,120"/>
<polyline points="675,27 675,70.25"/>
<polyline points="655,70.25 682,70.25 682,79.5"/>
<polyline points="673,79.5 710,79.5"/>
<polyline points="673,79.5 673,126.5"/>
<polyline points="710,27 710,116.5"/>
<polyline points="710,62 744.3,62"/>
<polyline points="701,116.5 748,116.5"/>
<polyline points="599,116 599,124.9 621.3,124.9 621.3,148.4"/>
<polyline points="608.2,148.4 643.5,148.4"/>
<polyline points="608.2,148.4 608.2,202"/>
<polyline points="641,116 672.3,116"/>
<polyline points="656.7,116.7 658.3,119.2 660.8,120.8 661.7,125 663.3,125.8 672.5,125.8 693.3,125.8 699.8,126"/>
<polyline points="672.5,100 672.5,125.8"/>
<polyline points="693.3,125.8 691.7,130 690,133.3 687.5,135.8 686.7,140 688.3,143.3 690,146.7 689.2,150 683.3,153.3 678.3,153.7 670,155.8 665,156.7 655,153.3 655,149.2"/>
<polyline points="644.2,116.7 644.2,144.2 640,144.2 640,149.2"/>
<polyline points="699.8,116.5 699.8,126"/>
<polyline points="728.3,116.5 728.3,155"/>
<polyline points="679.3,155 699.6,155 699.6,200"/>
<polyline points="699.6,172.1 758.7,172.1"/>
<polyline points="638.3,181.7 680.2,181.7 680.2,210"/>
<polyline points="570,172 608,172"/>
<polyline points="644.8,148.4 644.8,162.8 648.8,162.8 648.8,181.2"/>
<polyline points="278.2,146.4 281.4,143.2 284.6,140 286.8,135.7 288.9,133.6 293.2,133.1 295.3,135.7 295.3,140 298.6,144.3 303.9,148.1 309.3,150.7 313.5,149.6 317.8,146.4 320,142.1 321,137.8 324.3,134.6 327.5,133.6 331.7,134"/>
<polyline points="331.7,116 331.7,195 332.8,227.8"/>
<polyline points="331.7,154.3 396,154.3"/>
<polyline points="396,116 396,181.7 423.8,181.7"/>
<polyline points="423.8,163.5 423.8,200"/>
<polyline points="423.8,163.5 525,163.5"/>
<polyline points="433.5,116 433.5,163.5"/>
<polyline points="479.5,116 479.5,200"/>
<polyline points="333,191 397,191"/>
<polyline points="278.2,195.6 314.6,195.6 314.6,186.7 331.7,186.7"/>
<polyline points="397,181.7 397,254.6"/>
<polyline points="296.4,227.8 397,227.8"/>
<polyline points="296.4,227.8 296.4,236.4 287.8,236.4 287.8,245 301.8,245 301.8,270.7 307.1,270.7"/>
<polyline points="278.2,236.4 287.8,236.4"/>
<polyline points="329.6,228.9 332.8,231 333.9,236.4 336,240.7 337.1,245 339.2,249.2 340.3,253.5 343.5,258.9 347.8,256.7 351.4,258.6 352.5,267.1 356.8,270.3 357.8,273.6 356.8,277.8 364.3,277.8 364.3,283.2 379.7,283.2"/>
<polyline points="343.5,258.9 339.2,260 330.7,262.1 327.5,266.4 324.3,269.6 307.1,270.7"/>
<polyline points="307.5,270.7 307.5,295"/>
<polyline points="379.7,255.4 443.5,255.4"/>
<polyline points="379.7,255.4 379.7,291.8 394.2,291.8 394.2,302.5 407.1,300.3 409.2,298.2 424.2,298.2 430.6,292.8 439.2,292.8"/>
<polyline points="398.1,302.5 398.1,329.2"/>
<polyline points="443.5,250 443.5,273.6"/>
<polyline points="439.2,273.6 490,273.6"/>
<polyline points="439.2,273.6 439.2,332"/>
<polyline points="439.2,315.3 490,315.3"/>
<polyline points="480,200 480,273.6"/>
<polyline points="488.6,273.6 488.6,350"/>
<polyline points="443.1,201.8 452.1,200.7 458.5,202.8 465,203.9 471.4,205 480,206 484.2,207.1 488.5,211.4 492.8,215.7 499.2,222.1 502.4,226.4 505.7,232.8 507.8,239.3 512.1,244.6 518.5,246.7 525,247.4 531.3,247.8 539.9,246.7 546.3,245.7 552.8,246.7 559.2,251 563.5,248.9 569.9,252.1 580,254.2 582,250"/>
<polyline points="443.1,200.7 443.1,273.5"/>
<polyline points="424.3,199.6 525,199.6"/>
<polyline points="525,199.6 525,246.7"/>
<polyline points="525,190.6 570,190.6 570,196.4"/>
<polyline points="557,196.4 561.3,197.5 570,196.4 580,194.3 585.9,195"/>
<polyline points="557,196.4 557,252"/>
<polyline points="480,255.3 543.1,255.3"/>
<polyline points="543.1,252 543.1,325.7"/>
<polyline points="585.9,195 585.9,229 582,229 582,250"/>
<polyline points="585.9,209.4 625.2,209.4"/>
<polyline points="625.2,195 625.2,223.8"/>
<polyline points="616,234.3 620,227.7 625.2,223.8 635.7,221.2 643.5,219.9 651.4,217.3 659.2,214.6 667.1,210.7 672.3,209.4 680.2,208.1 688,205.5 695.9,202.9 701.1,198.9 703.7,195"/>
<polyline points="701,199 711.6,196.3 719.5,197.6 727.3,202.9 737.8,206.8 748.2,205.5 758.7,202.9"/>
<polyline points="672.3,209.4 672.3,223.8 680.2,223.8 680.2,235.6"/>
<polyline points="665.8,235.6 716.8,235.6"/>
<polyline points="665.8,235.6 665.8,282.7"/>
<polyline points="716.8,235.6 716.8,216 724.7,216 724.7,205.5"/>
<polyline points="716.8,235.6 709,245 709,256.5 705,256.5 705,273.5"/>
<polyline points="665.8,273.5 716.8,273.5"/>
<polyline points="716.8,273.5 716.8,291.9"/>
<polyline points="706.4,291.9 758.7,291.9"/>
<polyline points="588.6,229 588.6,265.7 616,265.7"/>
<polyline points="616,234.3 616,273.5"/>
<polyline points="507.8,293.5 507.8,306.4 534.6,306.4 534.6,309.6 543.2,309.6"/>
<polyline points="488.6,292.5 525,292.5 525,279.6"/>
<polyline points="520.7,279.6 543.2,279.6"/>
<polyline points="550.7,279.6 550.7,292.5 579.6,292.5"/>
<polyline points="589.2,255 589.2,274.3 579.6,274.3 579.6,301 610.6,301"/>
<polyline points="589.2,264.6 617,264.6"/>
<polyline points="589.2,301 589.2,345"/>
<polyline points="541,327.8 567.8,327.8 574.2,333.2 574.2,360"/>
<polyline points="585,328.9 627.7,328.9 627.7,345"/>
<polyline points="488.6,337.4 540,337.4"/>
<polyline points="616.8,265.7 616.8,291.4 611.4,291.4 611.4,301"/>
<polyline points="616.8,273.2 633.9,273.2 633.9,282.8 667.1,282.8"/>
<polyline points="652.1,282.8 652.1,291.4 643.5,291.4 643.5,328.9"/>
<polyline points="706.7,291.4 706.7,319.3 697,319.3 697,349.2"/>
<polyline points="628.6,328.9 697,328.9"/>
<polyline points="628.6,327.8 628.6,351.4"/>
<polyline points="605,327.8 628.6,327.8"/>
<polyline points="617.4,195 617.4,199.7 634.4,199.7 634.4,195"/>
<polyline points="507.8,126.4 507.8,133.9 511,135 514,134.6 518.5,137.1 522.8,139.3 525,140.3 570,140.3"/></g>
<polygon points="18.3,26.5 744.3,26.5 744.3,77.0 760.0,205.0 759.7,230.0 758.6,291.0 756.7,344.0 755.9,383.6 755.9,383.6 754.8,385.2 752.5,384.4 749.4,382.8 746.2,381.3 743.1,380.2 740.0,378.9 736.9,377.4 733.8,375.8 730.7,373.5 727.6,371.9 724.4,371.9 721.3,370.4 718.2,368.0 716.7,364.9 714.3,362.6 711.2,361.0 707.3,359.5 704.2,357.1 701.1,354.8 698.0,353.2 694.8,350.9 692.5,349.3 691.0,350.1 689.4,352.5 687.8,354.8 685.5,357.1 682.4,358.4 678.5,358.7 674.6,359.0 669.9,358.4 666.0,357.4 662.9,356.4 661.4,353.2 659.8,352.1 657.5,353.2 654.3,354.0 651.2,354.8 648.1,355.6 645.3,357.0 643.5,359.5 640.9,360.8 639.0,361.4 636.4,360.8 633.8,359.5 631.2,358.2 627.9,359.2 625.3,359.5 622.7,360.1 620.1,360.8 617.5,361.8 614.9,362.1 612.3,362.7 610.4,365.3 609.1,368.6 606.5,370.5 603.9,371.2 601.3,370.5 598.7,370.5 597.4,372.5 596.1,375.7 594.2,377.7 591.6,375.7 589.6,373.8 587.7,371.2 585.7,369.2 583.1,369.2 579.9,367.9 577.9,365.3 575.3,364.0 572.7,362.7 570.1,360.8 570.8,356.9 568.2,354.3 566.2,354.9 564.3,358.2 562.3,361.4 559.7,363.4 557.8,362.7 555.8,360.1 552.4,359.0 549.8,359.0 547.2,357.7 546.6,354.5 545.3,351.2 543.3,349.9 540.7,350.6 538.8,351.9 538.1,355.8 536.2,358.4 534.2,360.3 532.3,361.0 533.6,362.3 531.6,364.2 531.0,366.2 530.3,368.8 529.0,372.0 526.4,374.0 523.8,373.7 521.9,371.4 520.6,368.1 520.6,364.2 518.6,361.6 514.7,360.3 510.8,359.7 508.2,360.3 506.3,362.9 503.1,363.6 499.8,362.9 497.9,361.0 497.2,357.1 495.3,355.1 492.7,354.2 489.4,355.1 486.8,354.5 486.2,351.9 484.9,349.9 482.3,348.0 479.7,346.7 477.1,348.0 474.5,350.6 471.9,353.2 469.3,355.8 466.0,358.4 463.4,359.9 460.8,359.7 457.6,358.4 456.1,357.2 453.5,354.6 454.8,352.0 455.5,348.8 453.5,346.2 449.6,344.2 445.7,342.9 443.1,341.0 441.8,337.7 442.5,334.5 441.2,331.2 439.2,330.3 437.3,331.9 434.7,332.9 432.1,332.3 428.8,331.9 425.6,331.2 423.0,330.3 420.4,329.9 418.4,330.6 417.1,333.2 415.2,336.0 412.6,337.3 410.0,338.4 407.4,337.7 405.5,335.8 403.5,333.2 401.6,330.6 399.6,328.6 397.0,328.6 393.8,329.3 391.2,330.3 387.9,330.6 385.3,331.9 382.7,330.6 380.1,329.5 377.5,329.3 374.9,328.6 372.3,327.0 369.7,325.1 367.1,324.1 365.2,322.8 361.7,323.3 358.3,324.2 355.0,323.3 351.7,323.3 348.3,322.5 347.5,319.2 347.0,315.0 346.7,310.8 345.0,309.2 343.3,306.7 340.8,304.2 337.5,301.7 335.0,300.0 333.3,298.3 331.7,299.2 330.8,301.7 329.7,305.0 327.5,305.8 324.2,304.7 320.8,303.3 317.5,302.5 314.2,303.3 310.8,305.0 307.5,305.5 304.2,305.0 302.5,303.0 300.8,300.8 298.3,298.3 295.8,295.8 294.2,293.3 291.7,290.8 289.2,289.2 286.7,287.5 284.2,285.8 281.7,285.3 279.2,286.3 278.0,285.8 278.0,80.4 18.3,80.4" fill="none" stroke="#222" stroke-width="1.1"/>
<g class="lab2">
<text x="30.3" y="47.2">1</text>
<text x="62.0" y="62.2">0</text>
<text x="123.4" y="37.4">7</text>
<text x="172.0" y="44.4">17</text>
<text x="140.3" y="72.4">12</text>
<text x="232.9" y="50.3">23</text>
<text x="256.2" y="72.4">17</text>
<text x="310.2" y="47.0">30</text>
<text x="364.0" y="30.2">25</text>
<text x="353.0" y="58.5">37</text>
<text x="391.2" y="61.0">33</text>
<text x="420.8" y="56.7">40</text>
<text x="329.2" y="91.0">28</text>
<text x="404.5" y="102.2">41</text>
<text x="442.0" y="95.5">38</text>
<text x="362.0" y="116.0">27</text>
<text x="474.2" y="51.0">38</text>
<text x="517.0" y="55.2">39</text>
<text x="546.2" y="40.2">33</text>
<text x="588.2" y="46.5">36</text>
<text x="635.5" y="38.0">36</text>
<text x="555.0" y="68.0">42</text>
<text x="594.5" y="81.5">37</text>
<text x="622.0" y="91.7">34</text>
<text x="478.0" y="91.7">38</text>
<text x="524.5" y="98.0">40</text>
<text x="558.2" y="98.0">41</text>
<text x="630.0" y="114.7">35</text>
<text x="512.0" y="119.2">38</text>
<text x="533.2" y="121.7">39</text>
<text x="486.2" y="123.5">38</text>
<text x="659.2" y="56.0">42</text>
<text x="692.0" y="53.0">27</text>
<text x="725.0" y="41.5">35</text>
<text x="647.0" y="75.5">40</text>
<text x="730.0" y="85.5">27</text>
<text x="688.0" y="97.2">42</text>
<text x="672.5" y="121.2">43</text>
<text x="517.5" y="130.9">38</text>
<text x="536.2" y="135.9">42</text>
<text x="582.0" y="133.4">42</text>
<text x="636.0" y="140.2">41</text>
<text x="713.2" y="139.2">32</text>
<text x="742.0" y="135.4">24</text>
<text x="335.0" y="133.4">29</text>
<text x="369.2" y="147.2">26</text>
<text x="405.8" y="152.9">29</text>
<text x="455.0" y="151.7">39</text>
<text x="497.5" y="151.7">39</text>
<text x="625.2" y="153.4">41</text>
<text x="594.2" y="159.7">45</text>
<text x="663.0" y="152.9">45</text>
<text x="655.5" y="165.4">50</text>
<text x="725.0" y="170.9">39</text>
<text x="555.0" y="172.9">41</text>
<text x="632.0" y="180.9">46</text>
<text x="698.0" y="187.9">51</text>
<text x="302.5" y="185.4">11</text>
<text x="341.8" y="179.7">29</text>
<text x="385.0" y="188.9">33</text>
<text x="410.0" y="191.4">34</text>
<text x="449.2" y="185.2">32</text>
<text x="473.8" y="184.2">33</text>
<text x="512.0" y="183.4">35</text>
<text x="503.0" y="195.9">33</text>
<text x="602.0" y="197.2">38</text>
<text x="543.0" y="204.7">41</text>
<text x="359.5" y="199.7">27</text>
<text x="331.2" y="206.7">31</text>
<text x="296.2" y="220.7">36</text>
<text x="456.5" y="213.7">28</text>
<text x="497.8" y="217.7">38</text>
<text x="563.8" y="224.2">43</text>
<text x="654.5" y="210.9">43</text>
<text x="696.0" y="215.2">45</text>
<text x="412.0" y="226.7">26</text>
<text x="458.7" y="235.2">47</text>
<text x="594.5" y="235.4">31</text>
<text x="361.2" y="244.2">37</text>
<text x="738.0" y="244.2">46</text>
<text x="493.0" y="245.2">45</text>
<text x="427.0" y="252.2">38</text>
<text x="538.0" y="255.2">39</text>
<text x="619.0" y="255.9">38</text>
<text x="644.5" y="255.2">36</text>
<text x="680.8" y="252.9">49</text>
<text x="329.2" y="260.2">46</text>
<text x="450.5" y="262.7">42</text>
<text x="568.8" y="263.9">38</text>
<text x="402.5" y="270.9">29</text>
<text x="518.8" y="273.4">47</text>
<text x="710.0" y="272.9">45</text>
<text x="683.0" y="279.2">46</text>
<text x="293.2" y="275.9">45</text>
<text x="595.5" y="284.2">53</text>
<text x="335.8" y="285.9">47</text>
<text x="542.0" y="287.9">41</text>
<text x="563.8" y="289.7">37</text>
<text x="472.0" y="292.2">46</text>
<text x="353.2" y="302.2">45</text>
<text x="421.8" y="305.9">48</text>
<text x="566.2" y="312.7">46</text>
<text x="624.8" y="314.7">55</text>
<text x="521.0" y="317.2">52</text>
<text x="653.8" y="322.2">53</text>
<text x="689.0" y="324.4">43</text>
<text x="388.0" y="323.4">58</text>
<text x="452.5" y="330.4">57</text>
<text x="488.0" y="327.2">54</text>
<text x="530.8" y="331.7">53</text>
<text x="543.0" y="344.7">52</text>
<text x="665.2" y="344.4">51</text>
<text x="743.8" y="343.4">63</text>
<text x="702.0" y="354.2">31</text>
<text x="596.8" y="355.9">54</text>
<text x="514.8" y="359.2">53</text>
<text x="722.0" y="365.2">70</text>
</g>
<g class="lab">
<text x="30.3" y="47.2">1</text>
<text x="62.0" y="62.2">0</text>
<text x="123.4" y="37.4">7</text>
<text x="172.0" y="44.4">17</text>
<text x="140.3" y="72.4">12</text>
<text x="232.9" y="50.3">23</text>
<text x="256.2" y="72.4">17</text>
<text x="310.2" y="47.0">30</text>
<text x="364.0" y="30.2">25</text>
<text x="353.0" y="58.5">37</text>
<text x="391.2" y="61.0">33</text>
<text x="420.8" y="56.7">40</text>
<text x="329.2" y="91.0">28</text>
<text x="404.5" y="102.2">41</text>
<text x="442.0" y="95.5">38</text>
<text x="362.0" y="116.0">27</text>
<text x="474.2" y="51.0">38</text>
<text x="517.0" y="55.2">39</text>
<text x="546.2" y="40.2">33</text>
<text x="588.2" y="46.5">36</text>
<text x="635.5" y="38.0">36</text>
<text x="555.0" y="68.0">42</text>
<text x="594.5" y="81.5">37</text>
<text x="622.0" y="91.7">34</text>
<text x="478.0" y="91.7">38</text>
<text x="524.5" y="98.0">40</text>
<text x="558.2" y="98.0">41</text>
<text x="630.0" y="114.7">35</text>
<text x="512.0" y="119.2">38</text>
<text x="533.2" y="121.7">39</text>
<text x="486.2" y="123.5">38</text>
<text x="659.2" y="56.0">42</text>
<text x="692.0" y="53.0">27</text>
<text x="725.0" y="41.5">35</text>
<text x="647.0" y="75.5">40</text>
<text x="730.0" y="85.5">27</text>
<text x="688.0" y="97.2">42</text>
<text x="672.5" y="121.2">43</text>
<text x="517.5" y="130.9">38</text>
<text x="536.2" y="135.9">42</text>
<text x="582.0" y="133.4">42</text>
<text x="636.0" y="140.2">41</text>
<text x="713.2" y="139.2">32</text>
<text x="742.0" y="135.4">24</text>
<text x="335.0" y="133.4">29</text>
<text x="369.2" y="147.2">26</text>
<text x="405.8" y="152.9">29</text>
<text x="455.0" y="151.7">39</text>
<text x="497.5" y="151.7">39</text>
<text x="625.2" y="153.4">41</text>
<text x="594.2" y="159.7">45</text>
<text x="663.0" y="152.9">45</text>
<text x="655.5" y="165.4">50</text>
<text x="725.0" y="170.9">39</text>
<text x="555.0" y="172.9">41</text>
<text x="632.0" y="180.9">46</text>
<text x="698.0" y="187.9">51</text>
<text x="302.5" y="185.4">11</text>
<text x="341.8" y="179.7">29</text>
<text x="385.0" y="188.9">33</text>
<text x="410.0" y="191.4">34</text>
<text x="449.2" y="185.2">32</text>
<text x="473.8" y="184.2">33</text>
<text x="512.0" y="183.4">35</text>
<text x="503.0" y="195.9">33</text>
<text x="602.0" y="197.2">38</text>
<text x="543.0" y="204.7">41</text>
<text x="359.5" y="199.7">27</text>
<text x="331.2" y="206.7">31</text>
<text x="296.2" y="220.7">36</text>
<text x="456.5" y="213.7">28</text>
<text x="497.8" y="217.7">38</text>
<text x="563.8" y="224.2">43</text>
<text x="654.5" y="210.9">43</text>
<text x="696.0" y="215.2">45</text>
<text x="412.0" y="226.7">26</text>
<text x="458.7" y="235.2">47</text>
<text x="594.5" y="235.4">31</text>
<text x="361.2" y="244.2">37</text>
<text x="738.0" y="244.2">46</text>
<text x="493.0" y="245.2">45</text>
<text x="427.0" y="252.2">38</text>
<text x="538.0" y="255.2">39</text>
<text x="619.0" y="255.9">38</text>
<text x="644.5" y="255.2">36</text>
<text x="680.8" y="252.9">49</text>
<text x="329.2" y="260.2">46</text>
<text x="450.5" y="262.7">42</text>
<text x="568.8" y="263.9">38</text>
<text x="402.5" y="270.9">29</text>
<text x="518.8" y="273.4">47</text>
<text x="710.0" y="272.9">45</text>
<text x="683.0" y="279.2">46</text>
<text x="293.2" y="275.9">45</text>
<text x="595.5" y="284.2">53</text>
<text x="335.8" y="285.9">47</text>
<text x="542.0" y="287.9">41</text>
<text x="563.8" y="289.7">37</text>
<text x="472.0" y="292.2">46</text>
<text x="353.2" y="302.2">45</text>
<text x="421.8" y="305.9">48</text>
<text x="566.2" y="312.7">46</text>
<text x="624.8" y="314.7">55</text>
<text x="521.0" y="317.2">52</text>
<text x="653.8" y="322.2">53</text>
<text x="689.0" y="324.4">43</text>
<text x="388.0" y="323.4">58</text>
<text x="452.5" y="330.4">57</text>
<text x="488.0" y="327.2">54</text>
<text x="530.8" y="331.7">53</text>
<text x="543.0" y="344.7">52</text>
<text x="665.2" y="344.4">51</text>
<text x="743.8" y="343.4">63</text>
<text x="702.0" y="354.2">31</text>
<text x="596.8" y="355.9">54</text>
<text x="514.8" y="359.2">53</text>
<text x="722.0" y="365.2">70</text>
</g>

<rect x="133.4" y="100" width="22" height="179.8" fill="url(#lg)" stroke="#444" stroke-width="0.8"/>
<g class="tk"><line x1="130.7" y1="279.5" x2="134.5" y2="279.5"/><text x="129.5" y="283.0">0</text><line x1="130.7" y1="253.9" x2="134.5" y2="253.9"/><text x="129.5" y="257.4">10</text><line x1="130.7" y1="228.4" x2="134.5" y2="228.4"/><text x="129.5" y="231.9">20</text><line x1="130.7" y1="202.8" x2="134.5" y2="202.8"/><text x="129.5" y="206.3">30</text><line x1="130.7" y1="177.2" x2="134.5" y2="177.2"/><text x="129.5" y="180.7">40</text><line x1="130.7" y1="151.7" x2="134.5" y2="151.7"/><text x="129.5" y="155.2">50</text><line x1="130.7" y1="126.1" x2="134.5" y2="126.1"/><text x="129.5" y="129.6">60</text><line x1="130.7" y1="100.5" x2="134.5" y2="100.5"/><text x="129.5" y="104.0">70</text></g>
<text transform="translate(115,189) rotate(-90)" text-anchor="middle" font-family="Liberation Sans" font-size="11" fill="#222">days</text>
<!-- logo -->
<g transform="translate(26.3,371) rotate(-18)">
<ellipse rx="21.6" ry="18.4" fill="#0b4a86"/>
<ellipse rx="19.2" ry="16.0" fill="none" stroke="#fff" stroke-width="1.3"/>
</g>
<g fill="#fff" stroke="#fff">
<polygon points="28.3,359.8 30.9,370 31.9,386.8 23.5,386.8 25.9,370" stroke="none"/>
<line x1="28.2" y1="367" x2="28.2" y2="385" stroke="#0b4a86" stroke-width="0.7"/>
<line x1="24.5" y1="359.6" x2="34" y2="359.6" stroke-width="1"/>
<rect x="32.3" y="358.3" width="2.8" height="3.6" stroke="none"/>
<line x1="37.3" y1="357.8" x2="37.3" y2="374" stroke-width="1.1"/>
<line x1="31.8" y1="377" x2="37.3" y2="373.6" stroke-width="1"/>
<line x1="31.8" y1="380" x2="36.3" y2="377" stroke-width="1"/>
<ellipse cx="15.3" cy="377" rx="1.7" ry="2.5" stroke="none"/>
<polyline points="15.5,379.5 17.3,381.4 23.6,381.4" fill="none" stroke-width="1"/>
</g>
<text x="53.2" y="379" font-family="Liberation Sans" font-weight="bold" font-size="22.3" fill="#0b4a86" stroke="#0b4a86" stroke-width="0.9" textLength="119.5" lengthAdjust="spacingAndGlyphs">Mesonet</text>
<text x="3.7" y="410.7" font-family="Liberation Sans" font-weight="bold" font-size="19" fill="#333" textLength="382.2" lengthAdjust="spacingAndGlyphs">Days With Maximum Heat Index ≥ 100 °F</text>
<text x="475.3" y="406" font-family="Liberation Sans" font-weight="bold" font-size="13" fill="#222" textLength="289.6" lengthAdjust="spacingAndGlyphs">January 1, 2025 through December 14, 2025</text>
<text x="765" y="417" text-anchor="end" font-family="Liberation Sans" font-size="9" fill="#999">Created 4:25:05 AM December 15, 2025 CST. © Copyright 2025</text>
</svg>
</body></html>
